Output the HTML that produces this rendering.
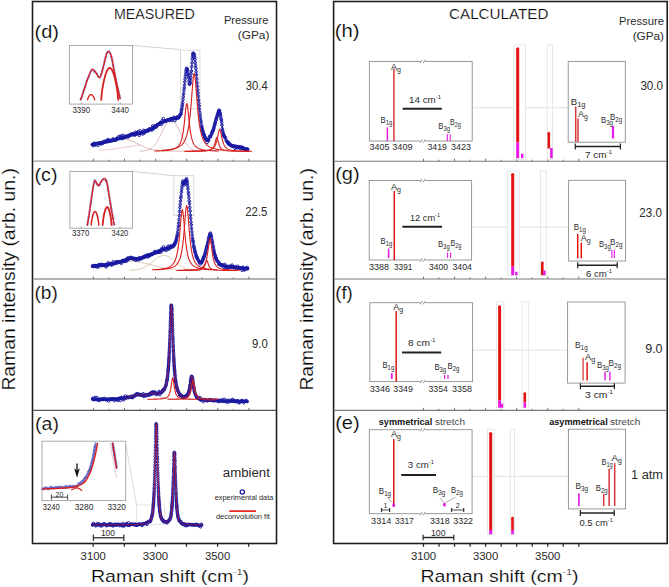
<!DOCTYPE html>
<html><head><meta charset="utf-8"><style>
html,body{margin:0;padding:0;background:#fff;}
svg{display:block;}
text{font-family:"Liberation Sans", sans-serif;}
.thin{stroke:#fff;stroke-width:0.2px;fill:#000;}
.thin2{stroke:#fff;stroke-width:0.25px;}
</style></head><body>
<svg width="669" height="587" viewBox="0 0 669 587">
<rect x="0" y="0" width="669" height="587" fill="#fff"/>
<rect x="32.50" y="1.50" width="244.00" height="542.00" fill="none" stroke="#1e1e1e" stroke-width="1.6"/>
<rect x="333.60" y="1.50" width="333.60" height="542.00" fill="none" stroke="#1e1e1e" stroke-width="1.6"/>
<line x1="33.30" y1="161.20" x2="275.70" y2="161.20" stroke="#9a9a9a" stroke-width="1.3"/>
<line x1="334.40" y1="161.20" x2="666.60" y2="161.20" stroke="#7a7a7a" stroke-width="1.1"/>
<line x1="33.30" y1="279.00" x2="275.70" y2="279.00" stroke="#9a9a9a" stroke-width="1.3"/>
<line x1="334.40" y1="279.00" x2="666.60" y2="279.00" stroke="#7a7a7a" stroke-width="1.1"/>
<line x1="33.30" y1="410.40" x2="275.70" y2="410.40" stroke="#555" stroke-width="1.3"/>
<line x1="334.40" y1="410.40" x2="666.60" y2="410.40" stroke="#7a7a7a" stroke-width="1.1"/>
<line x1="93.40" y1="161.20" x2="93.40" y2="158.70" stroke="#666" stroke-width="0.9"/>
<line x1="423.50" y1="161.20" x2="423.50" y2="158.70" stroke="#666" stroke-width="0.9"/>
<line x1="108.95" y1="161.20" x2="108.95" y2="159.70" stroke="#666" stroke-width="0.9"/>
<line x1="439.03" y1="161.20" x2="439.03" y2="159.70" stroke="#666" stroke-width="0.9"/>
<line x1="124.50" y1="161.20" x2="124.50" y2="158.70" stroke="#666" stroke-width="0.9"/>
<line x1="454.56" y1="161.20" x2="454.56" y2="158.70" stroke="#666" stroke-width="0.9"/>
<line x1="140.05" y1="161.20" x2="140.05" y2="159.70" stroke="#666" stroke-width="0.9"/>
<line x1="470.09" y1="161.20" x2="470.09" y2="159.70" stroke="#666" stroke-width="0.9"/>
<line x1="155.60" y1="161.20" x2="155.60" y2="158.70" stroke="#666" stroke-width="0.9"/>
<line x1="485.62" y1="161.20" x2="485.62" y2="158.70" stroke="#666" stroke-width="0.9"/>
<line x1="171.15" y1="161.20" x2="171.15" y2="159.70" stroke="#666" stroke-width="0.9"/>
<line x1="501.15" y1="161.20" x2="501.15" y2="159.70" stroke="#666" stroke-width="0.9"/>
<line x1="186.70" y1="161.20" x2="186.70" y2="158.70" stroke="#666" stroke-width="0.9"/>
<line x1="516.68" y1="161.20" x2="516.68" y2="158.70" stroke="#666" stroke-width="0.9"/>
<line x1="202.25" y1="161.20" x2="202.25" y2="159.70" stroke="#666" stroke-width="0.9"/>
<line x1="532.21" y1="161.20" x2="532.21" y2="159.70" stroke="#666" stroke-width="0.9"/>
<line x1="217.80" y1="161.20" x2="217.80" y2="158.70" stroke="#666" stroke-width="0.9"/>
<line x1="547.74" y1="161.20" x2="547.74" y2="158.70" stroke="#666" stroke-width="0.9"/>
<line x1="233.35" y1="161.20" x2="233.35" y2="159.70" stroke="#666" stroke-width="0.9"/>
<line x1="563.27" y1="161.20" x2="563.27" y2="159.70" stroke="#666" stroke-width="0.9"/>
<line x1="248.90" y1="161.20" x2="248.90" y2="158.70" stroke="#666" stroke-width="0.9"/>
<line x1="578.80" y1="161.20" x2="578.80" y2="158.70" stroke="#666" stroke-width="0.9"/>
<line x1="93.40" y1="279.00" x2="93.40" y2="276.50" stroke="#666" stroke-width="0.9"/>
<line x1="423.50" y1="279.00" x2="423.50" y2="276.50" stroke="#666" stroke-width="0.9"/>
<line x1="108.95" y1="279.00" x2="108.95" y2="277.50" stroke="#666" stroke-width="0.9"/>
<line x1="439.03" y1="279.00" x2="439.03" y2="277.50" stroke="#666" stroke-width="0.9"/>
<line x1="124.50" y1="279.00" x2="124.50" y2="276.50" stroke="#666" stroke-width="0.9"/>
<line x1="454.56" y1="279.00" x2="454.56" y2="276.50" stroke="#666" stroke-width="0.9"/>
<line x1="140.05" y1="279.00" x2="140.05" y2="277.50" stroke="#666" stroke-width="0.9"/>
<line x1="470.09" y1="279.00" x2="470.09" y2="277.50" stroke="#666" stroke-width="0.9"/>
<line x1="155.60" y1="279.00" x2="155.60" y2="276.50" stroke="#666" stroke-width="0.9"/>
<line x1="485.62" y1="279.00" x2="485.62" y2="276.50" stroke="#666" stroke-width="0.9"/>
<line x1="171.15" y1="279.00" x2="171.15" y2="277.50" stroke="#666" stroke-width="0.9"/>
<line x1="501.15" y1="279.00" x2="501.15" y2="277.50" stroke="#666" stroke-width="0.9"/>
<line x1="186.70" y1="279.00" x2="186.70" y2="276.50" stroke="#666" stroke-width="0.9"/>
<line x1="516.68" y1="279.00" x2="516.68" y2="276.50" stroke="#666" stroke-width="0.9"/>
<line x1="202.25" y1="279.00" x2="202.25" y2="277.50" stroke="#666" stroke-width="0.9"/>
<line x1="532.21" y1="279.00" x2="532.21" y2="277.50" stroke="#666" stroke-width="0.9"/>
<line x1="217.80" y1="279.00" x2="217.80" y2="276.50" stroke="#666" stroke-width="0.9"/>
<line x1="547.74" y1="279.00" x2="547.74" y2="276.50" stroke="#666" stroke-width="0.9"/>
<line x1="233.35" y1="279.00" x2="233.35" y2="277.50" stroke="#666" stroke-width="0.9"/>
<line x1="563.27" y1="279.00" x2="563.27" y2="277.50" stroke="#666" stroke-width="0.9"/>
<line x1="248.90" y1="279.00" x2="248.90" y2="276.50" stroke="#666" stroke-width="0.9"/>
<line x1="578.80" y1="279.00" x2="578.80" y2="276.50" stroke="#666" stroke-width="0.9"/>
<line x1="93.40" y1="410.40" x2="93.40" y2="407.90" stroke="#666" stroke-width="0.9"/>
<line x1="423.50" y1="410.40" x2="423.50" y2="407.90" stroke="#666" stroke-width="0.9"/>
<line x1="108.95" y1="410.40" x2="108.95" y2="408.90" stroke="#666" stroke-width="0.9"/>
<line x1="439.03" y1="410.40" x2="439.03" y2="408.90" stroke="#666" stroke-width="0.9"/>
<line x1="124.50" y1="410.40" x2="124.50" y2="407.90" stroke="#666" stroke-width="0.9"/>
<line x1="454.56" y1="410.40" x2="454.56" y2="407.90" stroke="#666" stroke-width="0.9"/>
<line x1="140.05" y1="410.40" x2="140.05" y2="408.90" stroke="#666" stroke-width="0.9"/>
<line x1="470.09" y1="410.40" x2="470.09" y2="408.90" stroke="#666" stroke-width="0.9"/>
<line x1="155.60" y1="410.40" x2="155.60" y2="407.90" stroke="#666" stroke-width="0.9"/>
<line x1="485.62" y1="410.40" x2="485.62" y2="407.90" stroke="#666" stroke-width="0.9"/>
<line x1="171.15" y1="410.40" x2="171.15" y2="408.90" stroke="#666" stroke-width="0.9"/>
<line x1="501.15" y1="410.40" x2="501.15" y2="408.90" stroke="#666" stroke-width="0.9"/>
<line x1="186.70" y1="410.40" x2="186.70" y2="407.90" stroke="#666" stroke-width="0.9"/>
<line x1="516.68" y1="410.40" x2="516.68" y2="407.90" stroke="#666" stroke-width="0.9"/>
<line x1="202.25" y1="410.40" x2="202.25" y2="408.90" stroke="#666" stroke-width="0.9"/>
<line x1="532.21" y1="410.40" x2="532.21" y2="408.90" stroke="#666" stroke-width="0.9"/>
<line x1="217.80" y1="410.40" x2="217.80" y2="407.90" stroke="#666" stroke-width="0.9"/>
<line x1="547.74" y1="410.40" x2="547.74" y2="407.90" stroke="#666" stroke-width="0.9"/>
<line x1="233.35" y1="410.40" x2="233.35" y2="408.90" stroke="#666" stroke-width="0.9"/>
<line x1="563.27" y1="410.40" x2="563.27" y2="408.90" stroke="#666" stroke-width="0.9"/>
<line x1="248.90" y1="410.40" x2="248.90" y2="407.90" stroke="#666" stroke-width="0.9"/>
<line x1="578.80" y1="410.40" x2="578.80" y2="407.90" stroke="#666" stroke-width="0.9"/>
<line x1="93.20" y1="543.50" x2="93.20" y2="546.80" stroke="#222" stroke-width="1.2"/>
<line x1="124.30" y1="543.50" x2="124.30" y2="546.80" stroke="#222" stroke-width="1.2"/>
<line x1="155.40" y1="543.50" x2="155.40" y2="546.80" stroke="#222" stroke-width="1.2"/>
<line x1="186.50" y1="543.50" x2="186.50" y2="546.80" stroke="#222" stroke-width="1.2"/>
<line x1="217.60" y1="543.50" x2="217.60" y2="546.80" stroke="#222" stroke-width="1.2"/>
<line x1="248.70" y1="543.50" x2="248.70" y2="546.80" stroke="#222" stroke-width="1.2"/>
<line x1="423.50" y1="543.50" x2="423.50" y2="546.80" stroke="#222" stroke-width="1.2"/>
<line x1="439.03" y1="543.50" x2="439.03" y2="546.80" stroke="#222" stroke-width="1.2"/>
<line x1="454.56" y1="543.50" x2="454.56" y2="546.80" stroke="#222" stroke-width="1.2"/>
<line x1="470.09" y1="543.50" x2="470.09" y2="546.80" stroke="#222" stroke-width="1.2"/>
<line x1="485.62" y1="543.50" x2="485.62" y2="546.80" stroke="#222" stroke-width="1.2"/>
<line x1="501.15" y1="543.50" x2="501.15" y2="546.80" stroke="#222" stroke-width="1.2"/>
<line x1="516.68" y1="543.50" x2="516.68" y2="546.80" stroke="#222" stroke-width="1.2"/>
<line x1="532.21" y1="543.50" x2="532.21" y2="546.80" stroke="#222" stroke-width="1.2"/>
<line x1="547.74" y1="543.50" x2="547.74" y2="546.80" stroke="#222" stroke-width="1.2"/>
<line x1="563.27" y1="543.50" x2="563.27" y2="546.80" stroke="#222" stroke-width="1.2"/>
<line x1="578.80" y1="543.50" x2="578.80" y2="546.80" stroke="#222" stroke-width="1.2"/>
<text x="93.2" y="559.6" font-size="11.5" text-anchor="middle" fill="#2a2a2a" font-weight="normal" textLength="25.2" lengthAdjust="spacingAndGlyphs">3100</text>
<text x="423.5" y="559.6" font-size="11.5" text-anchor="middle" fill="#2a2a2a" font-weight="normal" textLength="25.2" lengthAdjust="spacingAndGlyphs">3100</text>
<text x="155.4" y="559.6" font-size="11.5" text-anchor="middle" fill="#2a2a2a" font-weight="normal" textLength="25.2" lengthAdjust="spacingAndGlyphs">3300</text>
<text x="485.6" y="559.6" font-size="11.5" text-anchor="middle" fill="#2a2a2a" font-weight="normal" textLength="25.2" lengthAdjust="spacingAndGlyphs">3300</text>
<text x="217.6" y="559.6" font-size="11.5" text-anchor="middle" fill="#2a2a2a" font-weight="normal" textLength="25.2" lengthAdjust="spacingAndGlyphs">3500</text>
<text x="547.7" y="559.6" font-size="11.5" text-anchor="middle" fill="#2a2a2a" font-weight="normal" textLength="25.2" lengthAdjust="spacingAndGlyphs">3500</text>
<text x="91.0" y="581.5" font-size="17" fill="#2a2a2a" class="thin" textLength="158" lengthAdjust="spacingAndGlyphs">Raman shift (cm<tspan dy="-6.5" font-size="9">-1</tspan><tspan dy="6.5">)</tspan></text>
<text x="420.5" y="581.5" font-size="17" fill="#2a2a2a" class="thin" textLength="158" lengthAdjust="spacingAndGlyphs">Raman shift (cm<tspan dy="-6.5" font-size="9">-1</tspan><tspan dy="6.5">)</tspan></text>
<text x="0" y="0" font-size="17.5" fill="#2a2a2a" class="thin" transform="translate(14.7,390.6) rotate(-90)" textLength="222.5" lengthAdjust="spacingAndGlyphs">Raman intensity (arb. un.)</text>
<text x="0" y="0" font-size="17.5" fill="#2a2a2a" class="thin" transform="translate(313.0,390.6) rotate(-90)" textLength="222.5" lengthAdjust="spacingAndGlyphs">Raman intensity (arb. un.)</text>
<text x="114.0" y="19.4" font-size="15" text-anchor="start" fill="#2a2a2a" font-weight="normal" class="thin" textLength="80.7" lengthAdjust="spacingAndGlyphs">MEASURED</text>
<text x="449.0" y="19.4" font-size="15" text-anchor="start" fill="#2a2a2a" font-weight="normal" class="thin" textLength="99.5" lengthAdjust="spacingAndGlyphs">CALCULATED</text>
<text x="223.9" y="24.1" font-size="11" text-anchor="start" fill="#2a2a2a" font-weight="normal" textLength="44.5" lengthAdjust="spacingAndGlyphs">Pressure</text>
<text x="237.7" y="38.7" font-size="11" text-anchor="start" fill="#2a2a2a" font-weight="normal" textLength="31.7" lengthAdjust="spacingAndGlyphs">(GPa)</text>
<text x="619.0" y="25.0" font-size="11" text-anchor="start" fill="#2a2a2a" font-weight="normal" textLength="45.0" lengthAdjust="spacingAndGlyphs">Pressure</text>
<text x="632.7" y="39.5" font-size="11" text-anchor="start" fill="#2a2a2a" font-weight="normal" textLength="31.3" lengthAdjust="spacingAndGlyphs">(GPa)</text>
<text x="34.5" y="37.6" font-size="19" text-anchor="start" fill="#2a2a2a" font-weight="normal" class="thin" textLength="24.5" lengthAdjust="spacingAndGlyphs">(d)</text>
<text x="34.5" y="180.6" font-size="19" text-anchor="start" fill="#2a2a2a" font-weight="normal" class="thin" textLength="23.0" lengthAdjust="spacingAndGlyphs">(c)</text>
<text x="34.5" y="298.9" font-size="19" text-anchor="start" fill="#2a2a2a" font-weight="normal" class="thin" textLength="23.3" lengthAdjust="spacingAndGlyphs">(b)</text>
<text x="35.1" y="430.3" font-size="19" text-anchor="start" fill="#2a2a2a" font-weight="normal" class="thin" textLength="23.9" lengthAdjust="spacingAndGlyphs">(a)</text>
<text x="334.8" y="37.0" font-size="19" text-anchor="start" fill="#2a2a2a" font-weight="normal" class="thin" textLength="24.8" lengthAdjust="spacingAndGlyphs">(h)</text>
<text x="335.2" y="179.8" font-size="19" text-anchor="start" fill="#2a2a2a" font-weight="normal" class="thin" textLength="24.5" lengthAdjust="spacingAndGlyphs">(g)</text>
<text x="335.2" y="298.7" font-size="19" text-anchor="start" fill="#2a2a2a" font-weight="normal" class="thin" textLength="17.6" lengthAdjust="spacingAndGlyphs">(f)</text>
<text x="335.2" y="429.4" font-size="19" text-anchor="start" fill="#2a2a2a" font-weight="normal" class="thin" textLength="24.5" lengthAdjust="spacingAndGlyphs">(e)</text>
<text x="245.7" y="89.8" font-size="12" text-anchor="start" fill="#2a2a2a" font-weight="normal" textLength="22.0" lengthAdjust="spacingAndGlyphs">30.4</text>
<text x="245.3" y="215.8" font-size="12" text-anchor="start" fill="#2a2a2a" font-weight="normal" textLength="22.1" lengthAdjust="spacingAndGlyphs">22.5</text>
<text x="252.0" y="347.8" font-size="12" text-anchor="start" fill="#2a2a2a" font-weight="normal" textLength="15.7" lengthAdjust="spacingAndGlyphs">9.0</text>
<text x="640.4" y="90.2" font-size="12" text-anchor="start" fill="#2a2a2a" font-weight="normal" textLength="22.6" lengthAdjust="spacingAndGlyphs">30.0</text>
<text x="639.3" y="216.7" font-size="12" text-anchor="start" fill="#2a2a2a" font-weight="normal" textLength="22.7" lengthAdjust="spacingAndGlyphs">23.0</text>
<text x="645.2" y="353.4" font-size="12" text-anchor="start" fill="#2a2a2a" font-weight="normal" textLength="17.4" lengthAdjust="spacingAndGlyphs">9.0</text>
<text x="631.1" y="479.2" font-size="12" text-anchor="start" fill="#2a2a2a" font-weight="normal" textLength="31.9" lengthAdjust="spacingAndGlyphs">1 atm</text>
<rect x="180.60" y="50.20" width="19.30" height="58.60" fill="none" stroke="#d0d0d0" stroke-width="0.8"/>
<line x1="132.50" y1="45.50" x2="180.50" y2="49.60" stroke="#c8c8c8" stroke-width="0.8"/>
<path d="M126.00,139.32 L126.50,139.39 L127.00,139.47 L127.50,139.57 L128.00,139.68 L128.50,139.80 L129.00,139.94 L129.50,140.09 L130.00,140.25 L130.50,140.43 L131.00,140.61 L131.50,140.80 L132.00,141.01 L132.50,141.22 L133.00,141.44 L133.50,141.67 L134.00,141.90 L134.50,142.14 L135.00,142.39 L135.50,142.64 L136.00,142.89 L136.50,143.14 L137.00,143.40 L137.50,143.66 L138.00,143.92 L138.50,144.18 L139.00,144.44 L139.50,144.70 L140.00,144.95 L140.50,145.21 L141.00,145.46 L141.50,145.71 L142.00,145.95 L142.50,146.19 L143.00,146.42 L143.50,146.65 L144.00,146.87 L144.50,147.09 L145.00,147.30 L145.50,147.51 L146.00,147.71 L146.50,147.90 L147.00,148.09 L147.50,148.27 L148.00,148.44 L148.50,148.60 L149.00,148.76 L149.50,148.92 L150.00,149.06 L150.50,149.20 L151.00,149.33 L151.50,149.46 L152.00,149.58 L152.50,149.69 L153.00,149.80 L153.50,149.90 L154.00,149.99 L154.50,150.08 L155.00,150.17 L155.50,150.25 L156.00,150.32 L156.50,150.39 L157.00,150.45 L157.50,150.51 L158.00,150.57 L158.50,150.62 L159.00,150.67 L159.50,150.72 L160.00,150.76 L160.50,150.80 L161.00,150.83 L161.50,150.87 L162.00,150.90 L162.50,150.93 L163.00,150.95 L163.50,150.98 L164.00,151.00 L164.50,151.02 L165.00,151.04 L165.50,151.05 L166.00,151.07 L166.50,151.08 L167.00,151.09 L167.50,151.10 L168.00,151.11 L168.50,151.12 L169.00,151.13 L169.50,151.14 L170.00,151.15 L170.50,151.15 L171.00,151.16 L171.50,151.16 L172.00,151.17 L172.50,151.17 L173.00,151.17 L173.50,151.18 L174.00,151.18 L174.50,151.18 L175.00,151.18 L175.50,151.19 L176.00,151.19 L176.50,151.19 L177.00,151.19 L177.50,151.19 L178.00,151.19 L178.50,151.19 L179.00,151.19 L179.50,151.20 L180.00,151.20 L180.50,151.20 L181.00,151.20 L181.50,151.20 L182.00,151.20 L182.50,151.20 L183.00,151.20 L183.50,151.20 L184.00,151.20 L184.50,151.20 L185.00,151.20 L185.50,151.20 L186.00,151.20 L186.50,151.20 L187.00,151.20 L187.50,151.20 L188.00,151.20 L188.50,151.20 L189.00,151.20 L189.50,151.20 L190.00,151.20 L190.50,151.20 L191.00,151.20 L191.50,151.20 L192.00,151.20 L192.50,151.20 L193.00,151.20 L193.50,151.20 L194.00,151.20 L194.50,151.20 L195.00,151.20 L195.50,151.20 L196.00,151.20 L196.50,151.20 L197.00,151.20 L197.50,151.20 L198.00,151.20 L198.50,151.20 L199.00,151.20 L199.50,151.20 L200.00,151.20" fill="none" stroke="#cc9c9c" stroke-width="0.8" stroke-linecap="round" stroke-linejoin="round"/>
<path d="M140.00,151.12 L140.50,151.10 L141.00,151.08 L141.50,151.05 L142.00,151.02 L142.50,150.99 L143.00,150.95 L143.50,150.90 L144.00,150.85 L144.50,150.79 L145.00,150.71 L145.50,150.63 L146.00,150.54 L146.50,150.43 L147.00,150.30 L147.50,150.16 L148.00,150.00 L148.50,149.82 L149.00,149.61 L149.50,149.38 L150.00,149.13 L150.50,148.85 L151.00,148.53 L151.50,148.19 L152.00,147.81 L152.50,147.39 L153.00,146.94 L153.50,146.44 L154.00,145.91 L154.50,145.33 L155.00,144.71 L155.50,144.05 L156.00,143.35 L156.50,142.60 L157.00,141.81 L157.50,140.97 L158.00,140.10 L158.50,139.19 L159.00,138.25 L159.50,137.28 L160.00,136.27 L160.50,135.25 L161.00,134.21 L161.50,133.15 L162.00,132.09 L162.50,131.03 L163.00,129.98 L163.50,128.94 L164.00,127.92 L164.50,126.93 L165.00,125.98 L165.50,125.07 L166.00,124.20 L166.50,123.40 L167.00,122.66 L167.50,121.99 L168.00,121.40 L168.50,120.89 L169.00,120.47 L169.50,120.13 L170.00,119.89 L170.50,119.75 L171.00,119.70 L171.50,119.75 L172.00,119.89 L172.50,120.13 L173.00,120.47 L173.50,120.89 L174.00,121.40 L174.50,121.99 L175.00,122.66 L175.50,123.40 L176.00,124.20 L176.50,125.07 L177.00,125.98 L177.50,126.93 L178.00,127.92 L178.50,128.94 L179.00,129.98 L179.50,131.03 L180.00,132.09 L180.50,133.15 L181.00,134.21 L181.50,135.25 L182.00,136.27 L182.50,137.28 L183.00,138.25 L183.50,139.19 L184.00,140.10 L184.50,140.97 L185.00,141.81 L185.50,142.60 L186.00,143.35 L186.50,144.05 L187.00,144.71 L187.50,145.33 L188.00,145.91 L188.50,146.44 L189.00,146.94 L189.50,147.39 L190.00,147.81 L190.50,148.19 L191.00,148.53 L191.50,148.85 L192.00,149.13 L192.50,149.38 L193.00,149.61 L193.50,149.82 L194.00,150.00 L194.50,150.16 L195.00,150.30 L195.50,150.43 L196.00,150.54 L196.50,150.63 L197.00,150.71 L197.50,150.79 L198.00,150.85 L198.50,150.90 L199.00,150.95 L199.50,150.99 L200.00,151.02 L200.50,151.05 L201.00,151.08 L201.50,151.10 L202.00,151.12 L202.50,151.13 L203.00,151.14 L203.50,151.15 L204.00,151.16 L204.50,151.17 L205.00,151.17" fill="none" stroke="#d0a8a8" stroke-width="0.8" stroke-linecap="round" stroke-linejoin="round"/>
<path d="M99.00,150.39 L99.50,150.35 L100.00,150.32 L100.50,150.28 L101.00,150.25 L101.50,150.21 L102.00,150.17 L102.50,150.13 L103.00,150.09 L103.50,150.05 L104.00,150.00 L104.50,149.96 L105.00,149.91 L105.50,149.87 L106.00,149.82 L106.50,149.77 L107.00,149.72 L107.50,149.67 L108.00,149.61 L108.50,149.56 L109.00,149.51 L109.50,149.45 L110.00,149.39 L110.50,149.33 L111.00,149.27 L111.50,149.21 L112.00,149.15 L112.50,149.09 L113.00,149.03 L113.50,148.96 L114.00,148.90 L114.50,148.83 L115.00,148.76 L115.50,148.69 L116.00,148.62 L116.50,148.55 L117.00,148.48 L117.50,148.41 L118.00,148.33 L118.50,148.26 L119.00,148.19 L119.50,148.11 L120.00,148.04 L120.50,147.96 L121.00,147.88 L121.50,147.81 L122.00,147.73 L122.50,147.65 L123.00,147.57 L123.50,147.49 L124.00,147.42 L124.50,147.34 L125.00,147.26 L125.50,147.18 L126.00,147.10 L126.50,147.02 L127.00,146.94 L127.50,146.86 L128.00,146.79 L128.50,146.71 L129.00,146.63 L129.50,146.56 L130.00,146.48 L130.50,146.40 L131.00,146.33 L131.50,146.26 L132.00,146.18 L132.50,146.11 L133.00,146.04 L133.50,145.97 L134.00,145.90 L134.50,145.84 L135.00,145.77 L135.50,145.71 L136.00,145.64 L136.50,145.58 L137.00,145.52 L137.50,145.46 L138.00,145.41 L138.50,145.35 L139.00,145.30 L139.50,145.25 L140.00,145.20" fill="none" stroke="#d8b0b0" stroke-width="0.7" stroke-linecap="round" stroke-linejoin="round"/>
<path d="M92.40,144.50 C95.33,143.92 104.40,142.33 110.00,141.00 C115.60,139.67 122.17,137.58 126.00,136.50 C129.83,135.42 130.50,135.08 133.00,134.50 C135.50,133.92 138.17,133.83 141.00,133.00 C143.83,132.17 146.53,131.25 150.00,129.50 C153.47,127.75 158.08,124.30 161.80,122.50 C165.52,120.70 169.37,119.67 172.30,118.70 C175.23,117.73 177.75,118.82 179.40,116.70 C181.05,114.58 181.27,112.12 182.20,106.00 C183.13,99.88 184.33,85.92 185.00,80.00 C185.67,74.08 185.85,72.37 186.20,70.50 C186.55,68.63 186.73,67.88 187.10,68.80 C187.47,69.72 187.95,73.30 188.40,76.00 C188.85,78.70 189.33,85.50 189.80,85.00 C190.27,84.50 190.75,77.67 191.20,73.00 C191.65,68.33 192.10,60.32 192.50,57.00 C192.90,53.68 193.22,52.93 193.60,53.10 C193.98,53.27 194.32,54.35 194.80,58.00 C195.28,61.65 196.00,69.50 196.50,75.00 C197.00,80.50 197.07,83.20 197.80,91.00 C198.53,98.80 199.87,114.47 200.90,121.80 C201.93,129.13 202.98,131.93 204.00,135.00 C205.02,138.07 206.00,139.87 207.00,140.20 C208.00,140.53 208.97,138.70 210.00,137.00 C211.03,135.30 212.12,133.17 213.20,130.00 C214.28,126.83 215.48,121.13 216.50,118.00 C217.52,114.87 218.47,110.70 219.30,111.20 C220.13,111.70 220.82,117.20 221.50,121.00 C222.18,124.80 222.05,130.12 223.40,134.00 C224.75,137.88 226.83,142.07 229.60,144.30 C232.37,146.53 236.95,146.53 240.00,147.40 C243.05,148.27 246.58,149.15 247.90,149.50" fill="none" stroke="#1818a0" stroke-width="0.9" stroke-linecap="round" stroke-linejoin="round"/>
<path d="M92.4,144.5 L93.2,144.4 L93.8,144.2 L94.5,144.1 L95.2,144.0 L96.0,143.8 L96.9,143.7 L97.8,143.5 L98.7,143.3 L99.7,143.1 L100.2,143.0 L100.7,142.9 L101.2,142.8 L101.7,142.7 L102.2,142.6 L102.7,142.5 L103.3,142.4 L103.8,142.3 L104.3,142.2 L104.8,142.1 L105.3,142.0 L105.8,141.9 L106.3,141.8 L106.8,141.7 L107.8,141.5 L108.7,141.3 L109.6,141.1 L110.4,140.9 L111.3,140.7 L112.1,140.5 L113.0,140.2 L113.9,140.0 L114.8,139.8 L115.6,139.5 L116.5,139.3 L117.4,139.0 L118.2,138.8 L119.1,138.5 L119.9,138.3 L120.7,138.0 L121.5,137.8 L122.3,137.6 L123.0,137.4 L123.8,137.2 L124.4,136.9 L125.1,136.8 L125.7,136.6 L126.3,136.4 L126.8,136.3 L127.3,136.1 L128.0,135.9 L128.5,135.8 L129.1,135.6 L129.6,135.4 L130.1,135.3 L130.7,135.1 L131.2,134.9 L131.8,134.8 L132.5,134.6 L133.0,134.5 L133.6,134.4 L134.1,134.3 L134.7,134.2 L135.3,134.1 L135.9,134.0 L136.5,133.9 L137.1,133.8 L137.7,133.7 L138.3,133.6 L138.9,133.5 L139.5,133.4 L140.2,133.2 L140.8,133.1 L141.4,132.9 L142.1,132.7 L142.7,132.5 L143.3,132.3 L144.0,132.1 L144.6,131.8 L145.3,131.6 L145.9,131.3 L146.6,131.1 L147.3,130.8 L147.8,130.6 L148.2,130.3 L148.7,130.1 L149.2,129.9 L149.7,129.6 L150.3,129.4 L150.8,129.1 L151.3,128.8 L151.9,128.4 L152.5,128.1 L153.1,127.7 L153.7,127.4 L154.3,127.0 L154.9,126.6 L155.5,126.2 L156.1,125.8 L156.7,125.4 L157.3,125.0 L158.0,124.7 L158.6,124.3 L159.2,123.9 L159.8,123.6 L160.4,123.2 L160.9,122.9 L161.5,122.6 L162.1,122.4 L162.6,122.1 L163.2,121.9 L163.8,121.6 L164.3,121.4 L164.9,121.2 L165.4,121.0 L166.0,120.8 L166.5,120.6 L167.1,120.4 L167.6,120.2 L168.1,120.0 L168.7,119.9 L169.2,119.7 L169.7,119.5 L170.2,119.4 L170.7,119.2 L171.2,119.1 L171.9,118.8 L172.5,118.6 L173.2,118.5 L173.8,118.4 L174.4,118.3 L175.0,118.2 L175.6,118.2 L176.1,118.1 L176.7,118.1 L177.2,118.0 L177.7,117.9 L178.2,117.7 L178.6,117.5 L179.0,117.1 M206.1,139.5 L206.5,139.9 L206.9,140.2 L207.4,140.2 L207.9,140.0 L208.3,139.6 M218.8,111.4 L219.2,111.2 M227.8,142.5 L228.2,143.0 L228.6,143.4 L229.0,143.8 L229.4,144.1 L229.8,144.5 L230.3,144.8 L230.7,145.0 L231.2,145.3 L231.7,145.5 L232.2,145.7 L232.8,145.9 L233.3,146.0 L233.9,146.2 L234.4,146.3 L235.0,146.4 L235.5,146.5 L236.1,146.6 L236.7,146.7 L237.2,146.8 L237.7,146.9 L238.3,147.0 L238.8,147.1 L239.3,147.2 L240.0,147.4 L240.7,147.6 L241.4,147.8 L242.1,148.0 L242.8,148.2 L243.5,148.4 L244.2,148.5 L244.8,148.7 L245.4,148.9 L246.0,149.0 L246.5,149.1 L247.2,149.3 L247.7,149.4" fill="none" stroke="#1818a0" stroke-width="3.6" stroke-linecap="round" stroke-linejoin="round"/>
<g fill="none" stroke="#1818a0" stroke-width="0.95"><circle cx="92.4" cy="144.6" r="1.3"/><circle cx="93.3" cy="145.6" r="1.3"/><circle cx="94.2" cy="143.2" r="1.3"/><circle cx="95.1" cy="145.0" r="1.3"/><circle cx="96.0" cy="143.6" r="1.3"/><circle cx="96.9" cy="143.4" r="1.3"/><circle cx="97.8" cy="145.4" r="1.3"/><circle cx="98.7" cy="143.5" r="1.3"/><circle cx="99.6" cy="143.1" r="1.3"/><circle cx="100.5" cy="143.7" r="1.3"/><circle cx="101.4" cy="143.9" r="1.3"/><circle cx="102.3" cy="142.6" r="1.3"/><circle cx="103.2" cy="143.0" r="1.3"/><circle cx="104.1" cy="141.3" r="1.3"/><circle cx="105.0" cy="141.7" r="1.3"/><circle cx="105.9" cy="141.5" r="1.3"/><circle cx="106.8" cy="140.4" r="1.3"/><circle cx="107.7" cy="140.0" r="1.3"/><circle cx="108.6" cy="139.7" r="1.3"/><circle cx="109.5" cy="140.9" r="1.3"/><circle cx="110.4" cy="140.7" r="1.3"/><circle cx="111.3" cy="140.4" r="1.3"/><circle cx="112.2" cy="140.5" r="1.3"/><circle cx="113.1" cy="138.9" r="1.3"/><circle cx="114.0" cy="139.9" r="1.3"/><circle cx="114.9" cy="140.0" r="1.3"/><circle cx="115.8" cy="140.2" r="1.3"/><circle cx="116.7" cy="138.4" r="1.3"/><circle cx="117.6" cy="138.6" r="1.3"/><circle cx="118.5" cy="136.8" r="1.3"/><circle cx="119.4" cy="138.0" r="1.3"/><circle cx="120.3" cy="136.1" r="1.3"/><circle cx="121.2" cy="136.5" r="1.3"/><circle cx="122.1" cy="138.7" r="1.3"/><circle cx="123.0" cy="135.3" r="1.3"/><circle cx="123.9" cy="137.9" r="1.3"/><circle cx="124.8" cy="137.2" r="1.3"/><circle cx="125.7" cy="136.3" r="1.3"/><circle cx="126.6" cy="136.8" r="1.3"/><circle cx="127.5" cy="136.6" r="1.3"/><circle cx="128.4" cy="136.8" r="1.3"/><circle cx="129.3" cy="135.3" r="1.3"/><circle cx="130.2" cy="134.7" r="1.3"/><circle cx="131.1" cy="134.4" r="1.3"/><circle cx="132.0" cy="133.8" r="1.3"/><circle cx="132.9" cy="134.5" r="1.3"/><circle cx="133.8" cy="133.6" r="1.3"/><circle cx="134.7" cy="135.2" r="1.3"/><circle cx="135.6" cy="132.2" r="1.3"/><circle cx="136.5" cy="132.8" r="1.3"/><circle cx="137.4" cy="132.8" r="1.3"/><circle cx="138.3" cy="131.6" r="1.3"/><circle cx="139.2" cy="135.3" r="1.3"/><circle cx="140.1" cy="130.9" r="1.3"/><circle cx="141.0" cy="132.7" r="1.3"/><circle cx="141.9" cy="132.2" r="1.3"/><circle cx="142.8" cy="134.0" r="1.3"/><circle cx="143.7" cy="130.3" r="1.3"/><circle cx="144.6" cy="132.8" r="1.3"/><circle cx="145.5" cy="130.8" r="1.3"/><circle cx="146.4" cy="131.0" r="1.3"/><circle cx="147.3" cy="130.2" r="1.3"/><circle cx="148.2" cy="130.9" r="1.3"/><circle cx="149.1" cy="128.9" r="1.3"/><circle cx="150.0" cy="129.4" r="1.3"/><circle cx="150.9" cy="129.3" r="1.3"/><circle cx="151.8" cy="130.1" r="1.3"/><circle cx="152.7" cy="125.9" r="1.3"/><circle cx="153.3" cy="128.9" r="1.3"/><circle cx="153.9" cy="128.0" r="1.3"/><circle cx="154.5" cy="126.4" r="1.3"/><circle cx="155.1" cy="126.7" r="1.3"/><circle cx="155.7" cy="125.7" r="1.3"/><circle cx="156.3" cy="127.1" r="1.3"/><circle cx="156.9" cy="125.5" r="1.3"/><circle cx="157.5" cy="124.8" r="1.3"/><circle cx="158.1" cy="124.4" r="1.3"/><circle cx="158.7" cy="124.0" r="1.3"/><circle cx="159.6" cy="123.5" r="1.3"/><circle cx="160.5" cy="122.4" r="1.3"/><circle cx="161.4" cy="124.5" r="1.3"/><circle cx="162.3" cy="120.5" r="1.3"/><circle cx="163.2" cy="118.6" r="1.3"/><circle cx="164.1" cy="121.4" r="1.3"/><circle cx="165.0" cy="121.0" r="1.3"/><circle cx="165.9" cy="121.1" r="1.3"/><circle cx="166.8" cy="120.3" r="1.3"/><circle cx="167.7" cy="120.0" r="1.3"/><circle cx="168.6" cy="120.2" r="1.3"/><circle cx="169.5" cy="120.5" r="1.3"/><circle cx="170.4" cy="118.9" r="1.3"/><circle cx="171.3" cy="118.7" r="1.3"/><circle cx="172.2" cy="120.6" r="1.3"/><circle cx="173.1" cy="119.0" r="1.3"/><circle cx="174.0" cy="117.3" r="1.3"/><circle cx="174.9" cy="120.6" r="1.3"/><circle cx="175.8" cy="118.9" r="1.3"/><circle cx="176.7" cy="117.5" r="1.3"/><circle cx="177.6" cy="116.8" r="1.3"/><circle cx="178.5" cy="117.8" r="1.3"/><circle cx="179.1" cy="116.5" r="1.3"/><circle cx="179.7" cy="115.7" r="1.3"/><circle cx="180.3" cy="114.7" r="1.3"/><circle cx="180.6" cy="114.3" r="1.3"/><circle cx="180.9" cy="113.8" r="1.3"/><circle cx="181.2" cy="112.1" r="1.3"/><circle cx="181.5" cy="110.2" r="1.3"/><circle cx="181.8" cy="108.8" r="1.3"/><circle cx="182.1" cy="106.7" r="1.3"/><circle cx="182.4" cy="104.8" r="1.3"/><circle cx="182.7" cy="102.5" r="1.3"/><circle cx="183.0" cy="99.6" r="1.3"/><circle cx="183.3" cy="96.8" r="1.3"/><circle cx="183.6" cy="93.9" r="1.3"/><circle cx="183.9" cy="90.6" r="1.3"/><circle cx="184.2" cy="88.0" r="1.3"/><circle cx="184.5" cy="85.2" r="1.3"/><circle cx="184.8" cy="81.9" r="1.3"/><circle cx="185.1" cy="79.1" r="1.3"/><circle cx="185.4" cy="76.4" r="1.3"/><circle cx="185.7" cy="73.7" r="1.3"/><circle cx="186.0" cy="71.5" r="1.3"/><circle cx="186.3" cy="69.9" r="1.3"/><circle cx="186.6" cy="68.3" r="1.3"/><circle cx="187.2" cy="68.9" r="1.3"/><circle cx="187.5" cy="70.1" r="1.3"/><circle cx="187.8" cy="72.3" r="1.3"/><circle cx="188.1" cy="74.1" r="1.3"/><circle cx="188.4" cy="75.7" r="1.3"/><circle cx="188.7" cy="77.7" r="1.3"/><circle cx="189.0" cy="80.9" r="1.3"/><circle cx="189.3" cy="83.6" r="1.3"/><circle cx="189.6" cy="84.4" r="1.3"/><circle cx="190.2" cy="83.1" r="1.3"/><circle cx="190.5" cy="80.5" r="1.3"/><circle cx="190.8" cy="77.6" r="1.3"/><circle cx="191.1" cy="73.8" r="1.3"/><circle cx="191.4" cy="71.0" r="1.3"/><circle cx="191.7" cy="66.7" r="1.3"/><circle cx="192.0" cy="62.9" r="1.3"/><circle cx="192.3" cy="59.0" r="1.3"/><circle cx="192.6" cy="56.2" r="1.3"/><circle cx="192.9" cy="54.0" r="1.3"/><circle cx="193.2" cy="53.1" r="1.3"/><circle cx="194.1" cy="53.9" r="1.3"/><circle cx="194.4" cy="55.5" r="1.3"/><circle cx="194.7" cy="57.3" r="1.3"/><circle cx="195.0" cy="59.5" r="1.3"/><circle cx="195.3" cy="62.5" r="1.3"/><circle cx="195.6" cy="65.6" r="1.3"/><circle cx="195.9" cy="68.4" r="1.3"/><circle cx="196.2" cy="71.6" r="1.3"/><circle cx="196.5" cy="74.9" r="1.3"/><circle cx="196.8" cy="78.8" r="1.3"/><circle cx="197.1" cy="82.8" r="1.3"/><circle cx="197.4" cy="86.3" r="1.3"/><circle cx="197.7" cy="90.0" r="1.3"/><circle cx="198.0" cy="93.0" r="1.3"/><circle cx="198.3" cy="96.3" r="1.3"/><circle cx="198.6" cy="100.0" r="1.3"/><circle cx="198.9" cy="103.2" r="1.3"/><circle cx="199.2" cy="106.0" r="1.3"/><circle cx="199.5" cy="109.3" r="1.3"/><circle cx="199.8" cy="112.4" r="1.3"/><circle cx="200.1" cy="115.0" r="1.3"/><circle cx="200.4" cy="117.8" r="1.3"/><circle cx="200.7" cy="120.5" r="1.3"/><circle cx="201.0" cy="122.0" r="1.3"/><circle cx="201.3" cy="124.5" r="1.3"/><circle cx="201.6" cy="126.3" r="1.3"/><circle cx="201.9" cy="127.8" r="1.3"/><circle cx="202.2" cy="128.6" r="1.3"/><circle cx="202.5" cy="130.2" r="1.3"/><circle cx="202.8" cy="131.0" r="1.3"/><circle cx="203.1" cy="132.4" r="1.3"/><circle cx="203.4" cy="133.4" r="1.3"/><circle cx="203.7" cy="134.2" r="1.3"/><circle cx="204.0" cy="134.7" r="1.3"/><circle cx="204.3" cy="135.7" r="1.3"/><circle cx="204.6" cy="137.0" r="1.3"/><circle cx="204.9" cy="137.0" r="1.3"/><circle cx="205.2" cy="138.3" r="1.3"/><circle cx="205.8" cy="139.4" r="1.3"/><circle cx="206.4" cy="139.6" r="1.3"/><circle cx="207.0" cy="142.5" r="1.3"/><circle cx="207.9" cy="140.0" r="1.3"/><circle cx="208.5" cy="140.7" r="1.3"/><circle cx="209.1" cy="137.4" r="1.3"/><circle cx="209.7" cy="136.3" r="1.3"/><circle cx="210.3" cy="137.0" r="1.3"/><circle cx="210.9" cy="135.7" r="1.3"/><circle cx="211.5" cy="134.1" r="1.3"/><circle cx="211.8" cy="133.6" r="1.3"/><circle cx="212.1" cy="132.1" r="1.3"/><circle cx="212.4" cy="131.9" r="1.3"/><circle cx="212.7" cy="131.0" r="1.3"/><circle cx="213.0" cy="130.5" r="1.3"/><circle cx="213.3" cy="130.0" r="1.3"/><circle cx="213.6" cy="128.8" r="1.3"/><circle cx="213.9" cy="127.8" r="1.3"/><circle cx="214.2" cy="126.4" r="1.3"/><circle cx="214.5" cy="125.3" r="1.3"/><circle cx="214.8" cy="124.3" r="1.3"/><circle cx="215.1" cy="123.0" r="1.3"/><circle cx="215.4" cy="122.3" r="1.3"/><circle cx="215.7" cy="120.6" r="1.3"/><circle cx="216.0" cy="120.2" r="1.3"/><circle cx="216.3" cy="118.4" r="1.3"/><circle cx="216.6" cy="118.0" r="1.3"/><circle cx="216.9" cy="116.5" r="1.3"/><circle cx="217.2" cy="116.2" r="1.3"/><circle cx="217.5" cy="114.8" r="1.3"/><circle cx="217.8" cy="113.9" r="1.3"/><circle cx="218.1" cy="113.1" r="1.3"/><circle cx="218.4" cy="111.8" r="1.3"/><circle cx="219.0" cy="110.2" r="1.3"/><circle cx="219.6" cy="110.7" r="1.3"/><circle cx="219.9" cy="112.8" r="1.3"/><circle cx="220.2" cy="113.4" r="1.3"/><circle cx="220.5" cy="114.9" r="1.3"/><circle cx="220.8" cy="116.8" r="1.3"/><circle cx="221.1" cy="119.1" r="1.3"/><circle cx="221.4" cy="120.0" r="1.3"/><circle cx="221.7" cy="122.4" r="1.3"/><circle cx="222.0" cy="125.1" r="1.3"/><circle cx="222.3" cy="128.6" r="1.3"/><circle cx="222.6" cy="130.2" r="1.3"/><circle cx="222.9" cy="132.1" r="1.3"/><circle cx="223.2" cy="133.6" r="1.3"/><circle cx="223.5" cy="134.7" r="1.3"/><circle cx="223.8" cy="135.6" r="1.3"/><circle cx="224.1" cy="135.6" r="1.3"/><circle cx="224.4" cy="136.6" r="1.3"/><circle cx="224.7" cy="137.2" r="1.3"/><circle cx="225.0" cy="137.3" r="1.3"/><circle cx="225.6" cy="138.4" r="1.3"/><circle cx="226.2" cy="140.6" r="1.3"/><circle cx="226.8" cy="141.3" r="1.3"/><circle cx="227.4" cy="141.9" r="1.3"/><circle cx="228.0" cy="143.5" r="1.3"/><circle cx="228.6" cy="142.7" r="1.3"/><circle cx="229.2" cy="144.4" r="1.3"/><circle cx="229.8" cy="144.5" r="1.3"/><circle cx="230.4" cy="144.8" r="1.3"/><circle cx="231.3" cy="145.8" r="1.3"/><circle cx="232.2" cy="145.9" r="1.3"/><circle cx="233.1" cy="146.2" r="1.3"/><circle cx="234.0" cy="146.5" r="1.3"/><circle cx="234.9" cy="148.3" r="1.3"/><circle cx="235.8" cy="146.3" r="1.3"/><circle cx="236.7" cy="147.7" r="1.3"/><circle cx="237.6" cy="147.5" r="1.3"/><circle cx="238.5" cy="146.7" r="1.3"/><circle cx="239.4" cy="148.0" r="1.3"/><circle cx="240.3" cy="146.7" r="1.3"/><circle cx="241.2" cy="148.9" r="1.3"/><circle cx="242.1" cy="147.2" r="1.3"/><circle cx="243.0" cy="147.7" r="1.3"/><circle cx="243.9" cy="148.8" r="1.3"/><circle cx="244.8" cy="149.5" r="1.3"/><circle cx="245.7" cy="149.8" r="1.3"/><circle cx="246.6" cy="150.0" r="1.3"/><circle cx="247.5" cy="149.2" r="1.3"/></g>
<path d="M154.80,150.98 L155.30,150.97 L155.80,150.95 L156.30,150.94 L156.80,150.92 L157.30,150.91 L157.80,150.89 L158.30,150.87 L158.80,150.86 L159.30,150.84 L159.80,150.81 L160.30,150.79 L160.80,150.77 L161.30,150.74 L161.80,150.72 L162.30,150.69 L162.80,150.66 L163.30,150.63 L163.80,150.60 L164.30,150.56 L164.80,150.52 L165.30,150.48 L165.80,150.44 L166.30,150.39 L166.80,150.34 L167.30,150.29 L167.80,150.23 L168.30,150.17 L168.80,150.10 L169.30,150.03 L169.80,149.95 L170.30,149.86 L170.80,149.77 L171.30,149.67 L171.80,149.55 L172.30,149.43 L172.80,149.29 L173.30,149.14 L173.80,148.97 L174.30,148.79 L174.80,148.58 L175.30,148.34 L175.80,148.08 L176.30,147.78 L176.80,147.44 L177.30,147.05 L177.80,146.60 L178.30,146.08 L178.80,145.48 L179.30,144.78 L179.80,143.95 L180.30,142.97 L180.80,141.80 L181.30,140.39 L181.80,138.69 L182.30,136.63 L182.80,134.12 L183.30,131.07 L183.80,127.40 L184.30,123.07 L184.80,118.17 L185.30,113.00 L185.80,108.20 L186.30,104.70 L186.80,103.40 L187.30,104.70 L187.80,108.20 L188.30,113.00 L188.80,118.17 L189.30,123.07 L189.80,127.40 L190.30,131.07 L190.80,134.12 L191.30,136.63 L191.80,138.69 L192.30,140.39 L192.80,141.80 L193.30,142.97 L193.80,143.95 L194.30,144.78 L194.80,145.48 L195.30,146.08 L195.80,146.60 L196.30,147.05 L196.80,147.44 L197.30,147.78 L197.80,148.08 L198.30,148.34 L198.80,148.58 L199.30,148.79 L199.80,148.97 L200.30,149.14 L200.80,149.29 L201.30,149.43 L201.80,149.55 L202.30,149.67 L202.80,149.77 L203.30,149.86 L203.80,149.95 L204.30,150.03 L204.80,150.10 L205.30,150.17 L205.80,150.23 L206.30,150.29 L206.80,150.34 L207.30,150.39 L207.80,150.44 L208.30,150.48 L208.80,150.52 L209.30,150.56 L209.80,150.60 L210.30,150.63 L210.80,150.66 L211.30,150.69 L211.80,150.72 L212.30,150.74 L212.80,150.77 L213.30,150.79 L213.80,150.81 L214.30,150.84 L214.80,150.86 L215.30,150.87 L215.80,150.89 L216.30,150.91 L216.80,150.92 L217.30,150.94 L217.80,150.95 L218.30,150.97 L218.80,150.98" fill="none" stroke="#d81e1e" stroke-width="1.1" stroke-linecap="round" stroke-linejoin="round"/>
<path d="M162.20,150.32 L162.70,150.28 L163.20,150.25 L163.70,150.21 L164.20,150.17 L164.70,150.13 L165.20,150.08 L165.70,150.04 L166.20,149.99 L166.70,149.94 L167.20,149.88 L167.70,149.83 L168.20,149.77 L168.70,149.71 L169.20,149.64 L169.70,149.57 L170.20,149.49 L170.70,149.41 L171.20,149.33 L171.70,149.24 L172.20,149.14 L172.70,149.04 L173.20,148.93 L173.70,148.81 L174.20,148.68 L174.70,148.55 L175.20,148.40 L175.70,148.24 L176.20,148.07 L176.70,147.89 L177.20,147.69 L177.70,147.47 L178.20,147.24 L178.70,146.98 L179.20,146.70 L179.70,146.39 L180.20,146.05 L180.70,145.67 L181.20,145.26 L181.70,144.80 L182.20,144.29 L182.70,143.72 L183.20,143.08 L183.70,142.37 L184.20,141.56 L184.70,140.64 L185.20,139.60 L185.70,138.41 L186.20,137.04 L186.70,135.47 L187.20,133.65 L187.70,131.53 L188.20,129.07 L188.70,126.20 L189.20,122.84 L189.70,118.93 L190.20,114.40 L190.70,109.20 L191.20,103.35 L191.70,96.96 L192.20,90.32 L192.70,83.92 L193.20,78.45 L193.70,74.73 L194.20,73.40 L194.70,74.73 L195.20,78.45 L195.70,83.92 L196.20,90.32 L196.70,96.96 L197.20,103.35 L197.70,109.20 L198.20,114.40 L198.70,118.93 L199.20,122.84 L199.70,126.20 L200.20,129.07 L200.70,131.53 L201.20,133.65 L201.70,135.47 L202.20,137.04 L202.70,138.41 L203.20,139.60 L203.70,140.64 L204.20,141.56 L204.70,142.37 L205.20,143.08 L205.70,143.72 L206.20,144.29 L206.70,144.80 L207.20,145.26 L207.70,145.67 L208.20,146.05 L208.70,146.39 L209.20,146.70 L209.70,146.98 L210.20,147.24 L210.70,147.47 L211.20,147.69 L211.70,147.89 L212.20,148.07 L212.70,148.24 L213.20,148.40 L213.70,148.55 L214.20,148.68 L214.70,148.81 L215.20,148.93 L215.70,149.04 L216.20,149.14 L216.70,149.24 L217.20,149.33 L217.70,149.41 L218.20,149.49 L218.70,149.57 L219.20,149.64 L219.70,149.71 L220.20,149.77 L220.70,149.83 L221.20,149.88 L221.70,149.94 L222.20,149.99 L222.70,150.04 L223.20,150.08 L223.70,150.13 L224.20,150.17 L224.70,150.21 L225.20,150.25 L225.70,150.28 L226.20,150.32" fill="none" stroke="#d81e1e" stroke-width="1.1" stroke-linecap="round" stroke-linejoin="round"/>
<path d="M187.70,151.23 L188.20,151.23 L188.70,151.22 L189.20,151.22 L189.70,151.21 L190.20,151.20 L190.70,151.20 L191.20,151.19 L191.70,151.18 L192.20,151.17 L192.70,151.17 L193.20,151.16 L193.70,151.15 L194.20,151.14 L194.70,151.13 L195.20,151.12 L195.70,151.10 L196.20,151.09 L196.70,151.08 L197.20,151.06 L197.70,151.05 L198.20,151.03 L198.70,151.02 L199.20,151.00 L199.70,150.98 L200.20,150.96 L200.70,150.93 L201.20,150.91 L201.70,150.88 L202.20,150.85 L202.70,150.82 L203.20,150.78 L203.70,150.75 L204.20,150.70 L204.70,150.66 L205.20,150.61 L205.70,150.55 L206.20,150.49 L206.70,150.42 L207.20,150.35 L207.70,150.26 L208.20,150.17 L208.70,150.06 L209.20,149.94 L209.70,149.80 L210.20,149.64 L210.70,149.46 L211.20,149.25 L211.70,149.00 L212.20,148.71 L212.70,148.37 L213.20,147.96 L213.70,147.47 L214.20,146.87 L214.70,146.15 L215.20,145.26 L215.70,144.17 L216.20,142.81 L216.70,141.16 L217.20,139.16 L217.70,136.83 L218.20,134.31 L218.70,131.89 L219.20,130.08 L219.70,129.40 L220.20,130.08 L220.70,131.89 L221.20,134.31 L221.70,136.83 L222.20,139.16 L222.70,141.16 L223.20,142.81 L223.70,144.17 L224.20,145.26 L224.70,146.15 L225.20,146.87 L225.70,147.47 L226.20,147.96 L226.70,148.37 L227.20,148.71 L227.70,149.00 L228.20,149.25 L228.70,149.46 L229.20,149.64 L229.70,149.80 L230.20,149.94 L230.70,150.06 L231.20,150.17 L231.70,150.26 L232.20,150.35 L232.70,150.42 L233.20,150.49 L233.70,150.55 L234.20,150.61 L234.70,150.66 L235.20,150.70 L235.70,150.75 L236.20,150.78 L236.70,150.82 L237.20,150.85 L237.70,150.88 L238.20,150.91 L238.70,150.93 L239.20,150.96 L239.70,150.98 L240.20,151.00 L240.70,151.02 L241.20,151.03 L241.70,151.05 L242.20,151.06 L242.70,151.08 L243.20,151.09 L243.70,151.10 L244.20,151.12 L244.70,151.13 L245.20,151.14 L245.70,151.15 L246.20,151.16 L246.70,151.17 L247.20,151.17 L247.70,151.18 L248.20,151.19 L248.70,151.20 L249.20,151.20 L249.70,151.21 L250.20,151.22 L250.70,151.22 L251.20,151.23 L251.70,151.23" fill="none" stroke="#d81e1e" stroke-width="1.1" stroke-linecap="round" stroke-linejoin="round"/>
<path d="M184.80,151.33 L185.30,151.33 L185.80,151.33 L186.30,151.33 L186.80,151.33 L187.30,151.32 L187.80,151.32 L188.30,151.32 L188.80,151.31 L189.30,151.31 L189.80,151.31 L190.30,151.30 L190.80,151.30 L191.30,151.30 L191.80,151.29 L192.30,151.29 L192.80,151.28 L193.30,151.28 L193.80,151.27 L194.30,151.27 L194.80,151.26 L195.30,151.25 L195.80,151.25 L196.30,151.24 L196.80,151.23 L197.30,151.22 L197.80,151.21 L198.30,151.20 L198.80,151.19 L199.30,151.18 L199.80,151.17 L200.30,151.16 L200.80,151.14 L201.30,151.12 L201.80,151.11 L202.30,151.08 L202.80,151.06 L203.30,151.04 L203.80,151.01 L204.30,150.98 L204.80,150.94 L205.30,150.91 L205.80,150.86 L206.30,150.81 L206.80,150.75 L207.30,150.69 L207.80,150.61 L208.30,150.52 L208.80,150.42 L209.30,150.29 L209.80,150.14 L210.30,149.96 L210.80,149.74 L211.30,149.47 L211.80,149.13 L212.30,148.70 L212.80,148.15 L213.30,147.44 L213.80,146.50 L214.30,145.29 L214.80,143.73 L215.30,141.84 L215.80,139.80 L216.30,138.09 L216.80,137.40 L217.30,138.09 L217.80,139.80 L218.30,141.84 L218.80,143.73 L219.30,145.29 L219.80,146.50 L220.30,147.44 L220.80,148.15 L221.30,148.70 L221.80,149.13 L222.30,149.47 L222.80,149.74 L223.30,149.96 L223.80,150.14 L224.30,150.29 L224.80,150.42 L225.30,150.52 L225.80,150.61 L226.30,150.69 L226.80,150.75 L227.30,150.81 L227.80,150.86 L228.30,150.91 L228.80,150.94 L229.30,150.98 L229.80,151.01 L230.30,151.04 L230.80,151.06 L231.30,151.08 L231.80,151.11 L232.30,151.12 L232.80,151.14 L233.30,151.16 L233.80,151.17 L234.30,151.18 L234.80,151.19 L235.30,151.20 L235.80,151.21 L236.30,151.22 L236.80,151.23 L237.30,151.24 L237.80,151.25 L238.30,151.25 L238.80,151.26 L239.30,151.27 L239.80,151.27 L240.30,151.28 L240.80,151.28 L241.30,151.29 L241.80,151.29 L242.30,151.30 L242.80,151.30 L243.30,151.30 L243.80,151.31 L244.30,151.31 L244.80,151.31 L245.30,151.32 L245.80,151.32 L246.30,151.32 L246.80,151.33 L247.30,151.33 L247.80,151.33 L248.30,151.33 L248.80,151.33" fill="none" stroke="#d81e1e" stroke-width="1.1" stroke-linecap="round" stroke-linejoin="round"/>
<rect x="69.40" y="45.50" width="63.10" height="58.60" fill="white" stroke="#a0a0a0" stroke-width="0.9"/>
<g fill="none" stroke="#4a4ab8" stroke-width="0.65"><circle cx="80.7" cy="99.4" r="0.8"/><circle cx="81.4" cy="97.8" r="0.8"/><circle cx="82.1" cy="95.9" r="0.8"/><circle cx="82.8" cy="93.4" r="0.8"/><circle cx="83.5" cy="91.1" r="0.8"/><circle cx="84.2" cy="89.4" r="0.8"/><circle cx="84.8" cy="87.6" r="0.8"/><circle cx="85.5" cy="85.7" r="0.8"/><circle cx="86.1" cy="83.1" r="0.8"/><circle cx="86.7" cy="81.2" r="0.8"/><circle cx="87.4" cy="79.7" r="0.8"/><circle cx="88.2" cy="77.7" r="0.8"/><circle cx="89.0" cy="76.1" r="0.8"/><circle cx="89.7" cy="74.0" r="0.8"/><circle cx="90.6" cy="71.8" r="0.8"/><circle cx="91.6" cy="69.8" r="0.8"/><circle cx="93.6" cy="71.3" r="0.8"/><circle cx="94.8" cy="71.2" r="0.8"/><circle cx="96.0" cy="72.6" r="0.8"/><circle cx="97.1" cy="74.2" r="0.8"/><circle cx="98.2" cy="76.5" r="0.8"/><circle cx="100.1" cy="77.3" r="0.8"/><circle cx="101.0" cy="75.1" r="0.8"/><circle cx="101.6" cy="73.1" r="0.8"/><circle cx="102.2" cy="71.1" r="0.8"/><circle cx="102.7" cy="69.1" r="0.8"/><circle cx="103.3" cy="67.1" r="0.8"/><circle cx="103.9" cy="64.7" r="0.8"/><circle cx="104.4" cy="62.2" r="0.8"/><circle cx="104.8" cy="60.7" r="0.8"/><circle cx="105.3" cy="58.1" r="0.8"/><circle cx="105.9" cy="56.3" r="0.8"/><circle cx="106.5" cy="53.8" r="0.8"/><circle cx="107.2" cy="52.3" r="0.8"/><circle cx="109.2" cy="51.3" r="0.8"/><circle cx="110.4" cy="53.7" r="0.8"/><circle cx="111.1" cy="56.3" r="0.8"/><circle cx="111.6" cy="57.4" r="0.8"/><circle cx="112.1" cy="59.6" r="0.8"/><circle cx="112.5" cy="61.4" r="0.8"/><circle cx="112.9" cy="63.9" r="0.8"/><circle cx="113.2" cy="66.1" r="0.8"/><circle cx="113.7" cy="68.3" r="0.8"/><circle cx="114.1" cy="70.5" r="0.8"/><circle cx="114.5" cy="72.6" r="0.8"/><circle cx="114.9" cy="74.5" r="0.8"/><circle cx="115.3" cy="77.0" r="0.8"/><circle cx="115.8" cy="78.8" r="0.8"/><circle cx="116.2" cy="81.5" r="0.8"/><circle cx="116.6" cy="83.0" r="0.8"/><circle cx="117.0" cy="85.3" r="0.8"/><circle cx="117.5" cy="87.3" r="0.8"/><circle cx="118.0" cy="89.7" r="0.8"/><circle cx="118.5" cy="91.4" r="0.8"/><circle cx="119.0" cy="93.9" r="0.8"/><circle cx="119.5" cy="95.7" r="0.8"/><circle cx="120.0" cy="98.0" r="0.8"/></g>
<path d="M80.70,99.80 C81.25,98.17 82.78,93.63 84.00,90.00 C85.22,86.37 86.62,81.45 88.00,78.00 C89.38,74.55 90.97,70.13 92.30,69.30 C93.63,68.47 94.75,71.63 96.00,73.00 C97.25,74.37 98.63,78.33 99.80,77.50 C100.97,76.67 101.97,71.58 103.00,68.00 C104.03,64.42 105.17,58.73 106.00,56.00 C106.83,53.27 107.17,51.77 108.00,51.60 C108.83,51.43 110.00,51.93 111.00,55.00 C112.00,58.07 113.00,65.00 114.00,70.00 C115.00,75.00 115.97,80.22 117.00,85.00 C118.03,89.78 119.67,96.42 120.20,98.70" fill="none" stroke="#d81e1e" stroke-width="1.3" stroke-linecap="round" stroke-linejoin="round"/>
<path d="M87.50,99.80 L87.74,98.95 L87.98,98.32 L88.22,97.77 L88.46,97.27 L88.70,96.81 L88.94,96.40 L89.18,96.03 L89.42,95.70 L89.66,95.41 L89.90,95.17 L90.14,94.96 L90.38,94.80 L90.62,94.69 L90.86,94.62 L91.10,94.60 L91.34,94.62 L91.58,94.69 L91.82,94.80 L92.06,94.96 L92.30,95.17 L92.54,95.41 L92.78,95.70 L93.02,96.03 L93.26,96.40 L93.50,96.81 L93.74,97.27 L93.98,97.77 L94.22,98.32 L94.46,98.95 L94.70,99.80" fill="none" stroke="#d81e1e" stroke-width="1.3" stroke-linecap="round"/>
<path d="M101.20,99.80 L101.77,93.26 L102.33,89.21 L102.90,85.82 L103.47,82.86 L104.03,80.22 L104.60,77.88 L105.17,75.80 L105.73,73.97 L106.30,72.38 L106.87,71.05 L107.43,69.95 L108.00,69.10 L108.57,68.49 L109.13,68.12 L109.70,68.00 L110.27,68.12 L110.83,68.49 L111.40,69.10 L111.97,69.95 L112.53,71.05 L113.10,72.38 L113.67,73.97 L114.23,75.80 L114.80,77.88 L115.37,80.22 L115.93,82.86 L116.50,85.82 L117.07,89.21 L117.63,93.26 L118.20,99.80" fill="none" stroke="#d81e1e" stroke-width="1.8" stroke-linecap="round"/>
<line x1="81.40" y1="104.10" x2="81.40" y2="102.50" stroke="#888" stroke-width="0.7"/>
<line x1="120.30" y1="104.10" x2="120.30" y2="102.50" stroke="#888" stroke-width="0.7"/>
<text x="81.3" y="112.5" font-size="8.4" text-anchor="middle" fill="#2a2a2a" font-weight="normal" textLength="17.7" lengthAdjust="spacingAndGlyphs">3390</text>
<text x="120.2" y="112.5" font-size="8.4" text-anchor="middle" fill="#2a2a2a" font-weight="normal" textLength="17.7" lengthAdjust="spacingAndGlyphs">3440</text>
<rect x="173.90" y="175.70" width="19.90" height="40.10" fill="none" stroke="#cfcfcf" stroke-width="0.8"/>
<line x1="132.40" y1="171.40" x2="173.90" y2="175.70" stroke="#c8c8c8" stroke-width="0.8"/>
<path d="M100.00,268.00 L100.50,267.90 L101.00,267.79 L101.50,267.69 L102.00,267.58 L102.50,267.47 L103.00,267.35 L103.50,267.24 L104.00,267.12 L104.50,267.00 L105.00,266.88 L105.50,266.76 L106.00,266.63 L106.50,266.51 L107.00,266.38 L107.50,266.25 L108.00,266.12 L108.50,265.99 L109.00,265.85 L109.50,265.72 L110.00,265.59 L110.50,265.45 L111.00,265.31 L111.50,265.18 L112.00,265.04 L112.50,264.90 L113.00,264.77 L113.50,264.63 L114.00,264.50 L114.50,264.36 L115.00,264.23 L115.50,264.10 L116.00,263.96 L116.50,263.83 L117.00,263.71 L117.50,263.58 L118.00,263.46 L118.50,263.33 L119.00,263.21 L119.50,263.10 L120.00,262.98 L120.50,262.87 L121.00,262.76 L121.50,262.66 L122.00,262.56 L122.50,262.46 L123.00,262.37 L123.50,262.28 L124.00,262.19 L124.50,262.11 L125.00,262.03 L125.50,261.96 L126.00,261.90 L126.50,261.83 L127.00,261.78 L127.50,261.72 L128.00,261.68 L128.50,261.64 L129.00,261.60 L129.50,261.57 L130.00,261.54 L130.50,261.53 L131.00,261.51 L131.50,261.50 L132.00,261.50 L132.50,261.50 L133.00,261.51 L133.50,261.53 L134.00,261.54 L134.50,261.57 L135.00,261.60 L135.50,261.64 L136.00,261.68 L136.50,261.72 L137.00,261.78 L137.50,261.83 L138.00,261.90 L138.50,261.96 L139.00,262.03 L139.50,262.11 L140.00,262.19 L140.50,262.28 L141.00,262.37 L141.50,262.46 L142.00,262.56 L142.50,262.66 L143.00,262.76 L143.50,262.87 L144.00,262.98 L144.50,263.10 L145.00,263.21 L145.50,263.33 L146.00,263.46 L146.50,263.58 L147.00,263.71 L147.50,263.83 L148.00,263.96 L148.50,264.10 L149.00,264.23 L149.50,264.36 L150.00,264.50 L150.50,264.63 L151.00,264.77 L151.50,264.90 L152.00,265.04 L152.50,265.18 L153.00,265.31 L153.50,265.45 L154.00,265.59 L154.50,265.72 L155.00,265.85 L155.50,265.99 L156.00,266.12 L156.50,266.25 L157.00,266.38 L157.50,266.51 L158.00,266.63 L158.50,266.76 L159.00,266.88 L159.50,267.00 L160.00,267.12 L160.50,267.24 L161.00,267.35 L161.50,267.47 L162.00,267.58 L162.50,267.69 L163.00,267.79 L163.50,267.90 L164.00,268.00 L164.50,268.10 L165.00,268.19 L165.50,268.29 L166.00,268.38 L166.50,268.47 L167.00,268.55 L167.50,268.64 L168.00,268.72 L168.50,268.80 L169.00,268.87 L169.50,268.95 L170.00,269.02 L170.50,269.09 L171.00,269.16 L171.50,269.22 L172.00,269.28 L172.50,269.34 L173.00,269.40 L173.50,269.45 L174.00,269.51 L174.50,269.56 L175.00,269.61 L175.50,269.65 L176.00,269.70 L176.50,269.74 L177.00,269.78 L177.50,269.82 L178.00,269.86 L178.50,269.90 L179.00,269.93 L179.50,269.96 L180.00,269.99 L180.50,270.02 L181.00,270.05 L181.50,270.08 L182.00,270.10 L182.50,270.13 L183.00,270.15 L183.50,270.17 L184.00,270.19 L184.50,270.21 L185.00,270.23 L185.50,270.25 L186.00,270.26 L186.50,270.28 L187.00,270.29 L187.50,270.31 L188.00,270.32 L188.50,270.33 L189.00,270.34 L189.50,270.36 L190.00,270.37 L190.50,270.38 L191.00,270.38 L191.50,270.39 L192.00,270.40 L192.50,270.41 L193.00,270.41 L193.50,270.42 L194.00,270.43 L194.50,270.43 L195.00,270.44" fill="none" stroke="#c8b08a" stroke-width="0.7" stroke-linecap="round" stroke-linejoin="round"/>
<path d="M130.00,270.37 L130.50,270.35 L131.00,270.32 L131.50,270.30 L132.00,270.27 L132.50,270.24 L133.00,270.20 L133.50,270.16 L134.00,270.12 L134.50,270.07 L135.00,270.01 L135.50,269.95 L136.00,269.88 L136.50,269.81 L137.00,269.73 L137.50,269.64 L138.00,269.54 L138.50,269.43 L139.00,269.32 L139.50,269.19 L140.00,269.06 L140.50,268.91 L141.00,268.75 L141.50,268.58 L142.00,268.40 L142.50,268.20 L143.00,267.99 L143.50,267.77 L144.00,267.53 L144.50,267.28 L145.00,267.02 L145.50,266.74 L146.00,266.45 L146.50,266.15 L147.00,265.83 L147.50,265.50 L148.00,265.15 L148.50,264.80 L149.00,264.43 L149.50,264.06 L150.00,263.67 L150.50,263.28 L151.00,262.88 L151.50,262.47 L152.00,262.06 L152.50,261.65 L153.00,261.24 L153.50,260.82 L154.00,260.41 L154.50,260.01 L155.00,259.61 L155.50,259.22 L156.00,258.83 L156.50,258.46 L157.00,258.11 L157.50,257.77 L158.00,257.45 L158.50,257.14 L159.00,256.86 L159.50,256.60 L160.00,256.37 L160.50,256.16 L161.00,255.98 L161.50,255.82 L162.00,255.70 L162.50,255.60 L163.00,255.54 L163.50,255.51 L164.00,255.50 L164.50,255.53 L165.00,255.59 L165.50,255.68 L166.00,255.80 L166.50,255.95 L167.00,256.12 L167.50,256.32 L168.00,256.55 L168.50,256.81 L169.00,257.09 L169.50,257.38 L170.00,257.70 L170.50,258.04 L171.00,258.39 L171.50,258.76 L172.00,259.14 L172.50,259.53 L173.00,259.93 L173.50,260.33 L174.00,260.74 L174.50,261.15 L175.00,261.57 L175.50,261.98 L176.00,262.39 L176.50,262.80 L177.00,263.20 L177.50,263.59 L178.00,263.98 L178.50,264.36 L179.00,264.73 L179.50,265.08 L180.00,265.43 L180.50,265.76 L181.00,266.08 L181.50,266.39 L182.00,266.68 L182.50,266.96 L183.00,267.23 L183.50,267.48 L184.00,267.72 L184.50,267.95 L185.00,268.16 L185.50,268.36 L186.00,268.54 L186.50,268.72 L187.00,268.88 L187.50,269.03 L188.00,269.17 L188.50,269.29 L189.00,269.41 L189.50,269.52 L190.00,269.62 L190.50,269.71 L191.00,269.79 L191.50,269.87 L192.00,269.94 L192.50,270.00 L193.00,270.06 L193.50,270.11 L194.00,270.15 L194.50,270.19 L195.00,270.23 L195.50,270.26 L196.00,270.29 L196.50,270.32 L197.00,270.34 L197.50,270.36 L198.00,270.38 L198.50,270.40 L199.00,270.41 L199.50,270.42 L200.00,270.43" fill="none" stroke="#c8b08a" stroke-width="0.7" stroke-linecap="round" stroke-linejoin="round"/>
<path d="M92.60,266.10 C95.57,265.77 105.33,264.92 110.40,264.10 C115.47,263.28 119.57,262.18 123.00,261.20 C126.43,260.22 128.50,258.58 131.00,258.20 C133.50,257.82 135.08,259.37 138.00,258.90 C140.92,258.43 144.63,256.87 148.50,255.40 C152.37,253.93 157.17,251.62 161.20,250.10 C165.23,248.58 170.15,248.20 172.70,246.30 C175.25,244.40 175.53,242.25 176.50,238.70 C177.47,235.15 177.87,230.93 178.50,225.00 C179.13,219.07 179.58,210.35 180.30,203.10 C181.02,195.85 182.08,184.68 182.80,181.50 C183.52,178.32 183.95,184.30 184.60,184.00 C185.25,183.70 185.93,176.93 186.70,179.70 C187.47,182.47 188.48,193.55 189.20,200.60 C189.92,207.65 190.37,215.23 191.00,222.00 C191.63,228.77 192.17,235.70 193.00,241.20 C193.83,246.70 194.73,251.40 196.00,255.00 C197.27,258.60 199.27,262.47 200.60,262.80 C201.93,263.13 202.93,259.75 204.00,257.00 C205.07,254.25 205.95,250.20 207.00,246.30 C208.05,242.40 209.38,234.15 210.30,233.60 C211.22,233.05 211.78,239.62 212.50,243.00 C213.22,246.38 213.68,250.73 214.60,253.90 C215.52,257.07 216.73,260.08 218.00,262.00 C219.27,263.92 219.37,264.48 222.20,265.40 C225.03,266.32 230.77,266.95 235.00,267.50 C239.23,268.05 245.50,268.50 247.60,268.70" fill="none" stroke="#1818a0" stroke-width="0.9" stroke-linecap="round" stroke-linejoin="round"/>
<path d="M92.6,266.1 L93.4,266.0 L94.0,266.0 L94.7,265.9 L95.5,265.8 L96.4,265.7 L97.3,265.6 L98.2,265.5 L99.2,265.4 L99.7,265.4 L100.2,265.3 L100.7,265.3 L101.2,265.2 L101.8,265.2 L102.3,265.1 L102.8,265.1 L103.3,265.0 L103.8,264.9 L104.4,264.9 L104.9,264.8 L105.4,264.8 L105.9,264.7 L106.4,264.7 L107.4,264.5 L108.3,264.4 L109.2,264.3 L110.0,264.2 L110.8,264.0 L111.5,263.9 L112.3,263.8 L113.0,263.6 L113.7,263.5 L114.4,263.4 L115.0,263.2 L115.7,263.1 L116.4,262.9 L117.0,262.8 L117.6,262.6 L118.2,262.5 L118.8,262.3 L119.4,262.2 L120.0,262.0 L120.6,261.9 L121.1,261.7 L121.7,261.6 L122.2,261.4 L122.7,261.3 L123.3,261.1 L123.8,261.0 L124.2,260.8 L124.9,260.5 L125.6,260.3 L126.2,260.0 L126.8,259.7 L127.3,259.5 L127.9,259.2 L128.5,259.0 L129.0,258.8 L129.5,258.6 L130.1,258.4 L130.6,258.3 L131.2,258.2 L131.7,258.1 L132.2,258.2 L132.7,258.2 L133.4,258.3 L134.0,258.5 L134.7,258.7 L135.2,258.8 L135.7,258.9 L136.2,259.0 L136.8,259.0 L137.4,259.0 L138.0,258.9 L138.7,258.8 L139.4,258.6 L140.1,258.4 L140.6,258.3 L141.1,258.1 L141.6,258.0 L142.1,257.8 L142.6,257.6 L143.2,257.4 L143.7,257.2 L144.2,257.0 L144.8,256.8 L145.4,256.6 L145.9,256.4 L146.5,256.2 L147.1,256.0 L147.6,255.7 L148.2,255.5 L148.8,255.3 L149.4,255.1 L150.0,254.8 L150.6,254.6 L151.2,254.3 L151.9,254.0 L152.5,253.8 L153.2,253.5 L153.8,253.2 L154.5,252.9 L155.1,252.6 L155.8,252.3 L156.4,252.1 L157.1,251.8 L157.7,251.5 L158.4,251.2 L159.0,251.0 L159.7,250.7 L160.3,250.5 L160.9,250.2 L161.5,250.0 L162.1,249.8 L162.7,249.6 L163.4,249.4 L164.0,249.2 L164.7,249.1 L165.3,248.9 L165.9,248.7 L166.6,248.6 L167.2,248.4 L167.8,248.3 L168.4,248.1 L169.0,247.9 L169.6,247.8 L170.1,247.6 L170.7,247.4 L171.2,247.2 L171.6,246.9 L172.1,246.7 L172.7,246.3 L173.2,245.9 L173.7,245.4 L174.1,245.0 M199.5,261.9 L199.8,262.3 L200.3,262.7 L200.8,262.8 L201.3,262.7 M219.1,263.7 L219.5,264.1 L220.0,264.4 L220.4,264.7 L220.9,264.9 L221.4,265.1 L222.0,265.3 L222.6,265.5 L223.1,265.7 L223.7,265.8 L224.2,265.9 L224.8,266.0 L225.4,266.2 L226.1,266.3 L226.7,266.4 L227.4,266.5 L228.1,266.6 L228.8,266.7 L229.5,266.8 L230.2,266.9 L230.9,267.0 L231.6,267.1 L232.3,267.2 L233.0,267.2 L233.7,267.3 L234.4,267.4 L235.0,267.5 L235.6,267.6 L236.3,267.7 L237.0,267.7 L237.7,267.8 L238.5,267.9 L239.2,268.0 L239.9,268.0 L240.7,268.1 L241.4,268.2 L242.1,268.2 L242.8,268.3 L243.5,268.3 L244.1,268.4 L244.8,268.5 L245.3,268.5 L245.9,268.6 L246.4,268.6 L247.1,268.7 L247.6,268.7" fill="none" stroke="#1818a0" stroke-width="3.6" stroke-linecap="round" stroke-linejoin="round"/>
<g fill="none" stroke="#1818a0" stroke-width="0.95"><circle cx="92.6" cy="266.1" r="1.3"/><circle cx="93.5" cy="266.5" r="1.3"/><circle cx="94.4" cy="265.5" r="1.3"/><circle cx="95.3" cy="266.2" r="1.3"/><circle cx="96.2" cy="266.7" r="1.3"/><circle cx="97.1" cy="266.1" r="1.3"/><circle cx="98.0" cy="267.1" r="1.3"/><circle cx="98.9" cy="264.6" r="1.3"/><circle cx="99.8" cy="265.4" r="1.3"/><circle cx="100.7" cy="264.6" r="1.3"/><circle cx="101.6" cy="264.4" r="1.3"/><circle cx="102.5" cy="264.9" r="1.3"/><circle cx="103.4" cy="265.2" r="1.3"/><circle cx="104.3" cy="265.3" r="1.3"/><circle cx="105.2" cy="265.3" r="1.3"/><circle cx="106.1" cy="266.9" r="1.3"/><circle cx="107.0" cy="265.4" r="1.3"/><circle cx="107.9" cy="262.9" r="1.3"/><circle cx="108.8" cy="264.5" r="1.3"/><circle cx="109.7" cy="263.6" r="1.3"/><circle cx="110.6" cy="263.6" r="1.3"/><circle cx="111.5" cy="265.2" r="1.3"/><circle cx="112.4" cy="263.5" r="1.3"/><circle cx="113.3" cy="261.7" r="1.3"/><circle cx="114.2" cy="263.7" r="1.3"/><circle cx="115.1" cy="262.9" r="1.3"/><circle cx="116.0" cy="261.9" r="1.3"/><circle cx="116.9" cy="261.9" r="1.3"/><circle cx="117.8" cy="262.0" r="1.3"/><circle cx="118.7" cy="262.3" r="1.3"/><circle cx="119.6" cy="261.7" r="1.3"/><circle cx="120.5" cy="262.0" r="1.3"/><circle cx="121.4" cy="263.4" r="1.3"/><circle cx="122.3" cy="260.6" r="1.3"/><circle cx="123.2" cy="260.4" r="1.3"/><circle cx="124.1" cy="260.6" r="1.3"/><circle cx="125.0" cy="261.5" r="1.3"/><circle cx="125.9" cy="259.5" r="1.3"/><circle cx="126.8" cy="261.0" r="1.3"/><circle cx="127.7" cy="258.1" r="1.3"/><circle cx="128.6" cy="258.0" r="1.3"/><circle cx="129.5" cy="258.5" r="1.3"/><circle cx="130.4" cy="257.5" r="1.3"/><circle cx="131.3" cy="257.5" r="1.3"/><circle cx="132.2" cy="258.6" r="1.3"/><circle cx="133.1" cy="259.0" r="1.3"/><circle cx="134.0" cy="258.6" r="1.3"/><circle cx="134.9" cy="258.5" r="1.3"/><circle cx="135.8" cy="260.2" r="1.3"/><circle cx="136.7" cy="259.4" r="1.3"/><circle cx="137.6" cy="258.7" r="1.3"/><circle cx="138.5" cy="260.0" r="1.3"/><circle cx="139.4" cy="257.7" r="1.3"/><circle cx="140.3" cy="258.5" r="1.3"/><circle cx="141.2" cy="258.7" r="1.3"/><circle cx="142.1" cy="257.8" r="1.3"/><circle cx="143.0" cy="256.9" r="1.3"/><circle cx="143.9" cy="257.5" r="1.3"/><circle cx="144.8" cy="256.3" r="1.3"/><circle cx="145.7" cy="255.9" r="1.3"/><circle cx="146.6" cy="255.2" r="1.3"/><circle cx="147.5" cy="257.0" r="1.3"/><circle cx="148.4" cy="254.9" r="1.3"/><circle cx="149.3" cy="256.2" r="1.3"/><circle cx="150.2" cy="255.1" r="1.3"/><circle cx="151.1" cy="254.1" r="1.3"/><circle cx="152.0" cy="254.6" r="1.3"/><circle cx="152.9" cy="253.8" r="1.3"/><circle cx="153.8" cy="253.3" r="1.3"/><circle cx="154.7" cy="251.5" r="1.3"/><circle cx="155.6" cy="252.5" r="1.3"/><circle cx="156.5" cy="252.8" r="1.3"/><circle cx="157.4" cy="252.1" r="1.3"/><circle cx="158.3" cy="252.2" r="1.3"/><circle cx="159.2" cy="252.3" r="1.3"/><circle cx="160.1" cy="250.9" r="1.3"/><circle cx="161.0" cy="252.0" r="1.3"/><circle cx="161.9" cy="248.4" r="1.3"/><circle cx="162.8" cy="249.3" r="1.3"/><circle cx="163.7" cy="246.9" r="1.3"/><circle cx="164.6" cy="249.9" r="1.3"/><circle cx="165.5" cy="248.9" r="1.3"/><circle cx="166.4" cy="250.3" r="1.3"/><circle cx="167.3" cy="248.0" r="1.3"/><circle cx="168.2" cy="246.2" r="1.3"/><circle cx="169.1" cy="249.1" r="1.3"/><circle cx="170.0" cy="246.4" r="1.3"/><circle cx="170.9" cy="246.1" r="1.3"/><circle cx="171.8" cy="246.7" r="1.3"/><circle cx="172.7" cy="246.8" r="1.3"/><circle cx="173.3" cy="245.4" r="1.3"/><circle cx="173.9" cy="245.3" r="1.3"/><circle cx="174.5" cy="243.5" r="1.3"/><circle cx="175.1" cy="244.0" r="1.3"/><circle cx="175.4" cy="242.6" r="1.3"/><circle cx="175.7" cy="241.7" r="1.3"/><circle cx="176.0" cy="240.8" r="1.3"/><circle cx="176.3" cy="239.5" r="1.3"/><circle cx="176.6" cy="238.4" r="1.3"/><circle cx="176.9" cy="236.8" r="1.3"/><circle cx="177.2" cy="235.5" r="1.3"/><circle cx="177.5" cy="233.7" r="1.3"/><circle cx="177.8" cy="231.6" r="1.3"/><circle cx="178.1" cy="228.7" r="1.3"/><circle cx="178.4" cy="226.0" r="1.3"/><circle cx="178.7" cy="223.1" r="1.3"/><circle cx="179.0" cy="219.6" r="1.3"/><circle cx="179.3" cy="215.5" r="1.3"/><circle cx="179.6" cy="211.4" r="1.3"/><circle cx="179.9" cy="207.4" r="1.3"/><circle cx="180.2" cy="204.4" r="1.3"/><circle cx="180.5" cy="201.1" r="1.3"/><circle cx="180.8" cy="198.0" r="1.3"/><circle cx="181.1" cy="195.9" r="1.3"/><circle cx="181.4" cy="192.4" r="1.3"/><circle cx="181.7" cy="189.6" r="1.3"/><circle cx="182.0" cy="186.9" r="1.3"/><circle cx="182.3" cy="184.3" r="1.3"/><circle cx="182.6" cy="182.8" r="1.3"/><circle cx="182.9" cy="181.1" r="1.3"/><circle cx="183.8" cy="182.0" r="1.3"/><circle cx="184.1" cy="183.7" r="1.3"/><circle cx="184.4" cy="184.8" r="1.3"/><circle cx="185.0" cy="183.3" r="1.3"/><circle cx="185.3" cy="182.0" r="1.3"/><circle cx="185.6" cy="181.5" r="1.3"/><circle cx="185.9" cy="180.0" r="1.3"/><circle cx="186.5" cy="178.7" r="1.3"/><circle cx="186.8" cy="180.3" r="1.3"/><circle cx="187.1" cy="181.7" r="1.3"/><circle cx="187.4" cy="183.8" r="1.3"/><circle cx="187.7" cy="186.4" r="1.3"/><circle cx="188.0" cy="188.9" r="1.3"/><circle cx="188.3" cy="192.2" r="1.3"/><circle cx="188.6" cy="194.7" r="1.3"/><circle cx="188.9" cy="197.7" r="1.3"/><circle cx="189.2" cy="200.9" r="1.3"/><circle cx="189.5" cy="203.6" r="1.3"/><circle cx="189.8" cy="207.5" r="1.3"/><circle cx="190.1" cy="211.0" r="1.3"/><circle cx="190.4" cy="215.2" r="1.3"/><circle cx="190.7" cy="218.4" r="1.3"/><circle cx="191.0" cy="222.1" r="1.3"/><circle cx="191.3" cy="224.9" r="1.3"/><circle cx="191.6" cy="228.5" r="1.3"/><circle cx="191.9" cy="231.8" r="1.3"/><circle cx="192.2" cy="234.9" r="1.3"/><circle cx="192.5" cy="238.0" r="1.3"/><circle cx="192.8" cy="240.3" r="1.3"/><circle cx="193.1" cy="241.5" r="1.3"/><circle cx="193.4" cy="243.5" r="1.3"/><circle cx="193.7" cy="245.8" r="1.3"/><circle cx="194.0" cy="247.2" r="1.3"/><circle cx="194.3" cy="248.3" r="1.3"/><circle cx="194.6" cy="250.1" r="1.3"/><circle cx="194.9" cy="251.0" r="1.3"/><circle cx="195.2" cy="252.2" r="1.3"/><circle cx="195.5" cy="253.1" r="1.3"/><circle cx="195.8" cy="254.3" r="1.3"/><circle cx="196.1" cy="256.0" r="1.3"/><circle cx="196.4" cy="256.2" r="1.3"/><circle cx="196.7" cy="256.8" r="1.3"/><circle cx="197.0" cy="258.5" r="1.3"/><circle cx="197.3" cy="258.0" r="1.3"/><circle cx="197.9" cy="259.4" r="1.3"/><circle cx="198.5" cy="260.4" r="1.3"/><circle cx="199.1" cy="261.7" r="1.3"/><circle cx="199.7" cy="262.0" r="1.3"/><circle cx="200.3" cy="264.0" r="1.3"/><circle cx="201.2" cy="262.4" r="1.3"/><circle cx="201.8" cy="262.4" r="1.3"/><circle cx="202.4" cy="261.2" r="1.3"/><circle cx="202.7" cy="260.0" r="1.3"/><circle cx="203.0" cy="259.3" r="1.3"/><circle cx="203.3" cy="258.8" r="1.3"/><circle cx="203.6" cy="257.3" r="1.3"/><circle cx="203.9" cy="257.3" r="1.3"/><circle cx="204.2" cy="256.5" r="1.3"/><circle cx="204.5" cy="255.6" r="1.3"/><circle cx="204.8" cy="254.6" r="1.3"/><circle cx="205.1" cy="253.7" r="1.3"/><circle cx="205.4" cy="252.4" r="1.3"/><circle cx="205.7" cy="251.5" r="1.3"/><circle cx="206.0" cy="249.8" r="1.3"/><circle cx="206.3" cy="249.2" r="1.3"/><circle cx="206.6" cy="247.6" r="1.3"/><circle cx="206.9" cy="246.8" r="1.3"/><circle cx="207.2" cy="245.4" r="1.3"/><circle cx="207.5" cy="244.1" r="1.3"/><circle cx="207.8" cy="242.7" r="1.3"/><circle cx="208.1" cy="241.8" r="1.3"/><circle cx="208.4" cy="239.8" r="1.3"/><circle cx="208.7" cy="238.4" r="1.3"/><circle cx="209.0" cy="237.4" r="1.3"/><circle cx="209.3" cy="236.2" r="1.3"/><circle cx="209.6" cy="235.1" r="1.3"/><circle cx="209.9" cy="233.8" r="1.3"/><circle cx="210.5" cy="233.1" r="1.3"/><circle cx="211.1" cy="235.2" r="1.3"/><circle cx="211.4" cy="236.1" r="1.3"/><circle cx="211.7" cy="238.4" r="1.3"/><circle cx="212.0" cy="240.3" r="1.3"/><circle cx="212.3" cy="242.0" r="1.3"/><circle cx="212.6" cy="243.2" r="1.3"/><circle cx="212.9" cy="245.6" r="1.3"/><circle cx="213.2" cy="246.9" r="1.3"/><circle cx="213.5" cy="248.7" r="1.3"/><circle cx="213.8" cy="250.3" r="1.3"/><circle cx="214.1" cy="251.6" r="1.3"/><circle cx="214.4" cy="253.1" r="1.3"/><circle cx="214.7" cy="254.3" r="1.3"/><circle cx="215.0" cy="255.0" r="1.3"/><circle cx="215.3" cy="256.2" r="1.3"/><circle cx="215.6" cy="257.4" r="1.3"/><circle cx="215.9" cy="257.9" r="1.3"/><circle cx="216.2" cy="258.5" r="1.3"/><circle cx="216.5" cy="259.6" r="1.3"/><circle cx="216.8" cy="260.2" r="1.3"/><circle cx="217.4" cy="261.4" r="1.3"/><circle cx="218.0" cy="261.6" r="1.3"/><circle cx="218.6" cy="261.9" r="1.3"/><circle cx="219.2" cy="264.3" r="1.3"/><circle cx="219.8" cy="264.4" r="1.3"/><circle cx="220.4" cy="264.4" r="1.3"/><circle cx="221.3" cy="265.5" r="1.3"/><circle cx="222.2" cy="265.0" r="1.3"/><circle cx="223.1" cy="265.1" r="1.3"/><circle cx="224.0" cy="267.6" r="1.3"/><circle cx="224.9" cy="264.5" r="1.3"/><circle cx="225.8" cy="267.0" r="1.3"/><circle cx="226.7" cy="267.4" r="1.3"/><circle cx="227.6" cy="268.3" r="1.3"/><circle cx="228.5" cy="266.9" r="1.3"/><circle cx="229.4" cy="267.3" r="1.3"/><circle cx="230.3" cy="266.0" r="1.3"/><circle cx="231.2" cy="267.0" r="1.3"/><circle cx="232.1" cy="265.1" r="1.3"/><circle cx="233.0" cy="266.7" r="1.3"/><circle cx="233.9" cy="267.3" r="1.3"/><circle cx="234.8" cy="267.4" r="1.3"/><circle cx="235.7" cy="267.1" r="1.3"/><circle cx="236.6" cy="268.8" r="1.3"/><circle cx="237.5" cy="266.2" r="1.3"/><circle cx="238.4" cy="268.0" r="1.3"/><circle cx="239.3" cy="267.6" r="1.3"/><circle cx="240.2" cy="268.1" r="1.3"/><circle cx="241.1" cy="268.2" r="1.3"/><circle cx="242.0" cy="270.2" r="1.3"/><circle cx="242.9" cy="267.2" r="1.3"/><circle cx="243.8" cy="269.7" r="1.3"/><circle cx="244.7" cy="269.8" r="1.3"/><circle cx="245.6" cy="268.4" r="1.3"/><circle cx="246.5" cy="268.0" r="1.3"/><circle cx="247.4" cy="267.5" r="1.3"/></g>
<path d="M152.30,269.81 L152.80,269.79 L153.30,269.77 L153.80,269.74 L154.30,269.71 L154.80,269.69 L155.30,269.66 L155.80,269.62 L156.30,269.59 L156.80,269.55 L157.30,269.52 L157.80,269.48 L158.30,269.43 L158.80,269.39 L159.30,269.34 L159.80,269.29 L160.30,269.24 L160.80,269.18 L161.30,269.12 L161.80,269.05 L162.30,268.98 L162.80,268.90 L163.30,268.82 L163.80,268.73 L164.30,268.63 L164.80,268.53 L165.30,268.41 L165.80,268.29 L166.30,268.15 L166.80,268.01 L167.30,267.84 L167.80,267.67 L168.30,267.47 L168.80,267.25 L169.30,267.02 L169.80,266.75 L170.30,266.45 L170.80,266.12 L171.30,265.74 L171.80,265.32 L172.30,264.83 L172.80,264.28 L173.30,263.65 L173.80,262.93 L174.30,262.09 L174.80,261.11 L175.30,259.96 L175.80,258.60 L176.30,256.99 L176.80,255.07 L177.30,252.77 L177.80,250.01 L178.30,246.70 L178.80,242.73 L179.30,238.03 L179.80,232.62 L180.30,226.63 L180.80,220.49 L181.30,214.93 L181.80,210.95 L182.30,209.50 L182.80,210.95 L183.30,214.93 L183.80,220.49 L184.30,226.63 L184.80,232.62 L185.30,238.03 L185.80,242.73 L186.30,246.70 L186.80,250.01 L187.30,252.77 L187.80,255.07 L188.30,256.99 L188.80,258.60 L189.30,259.96 L189.80,261.11 L190.30,262.09 L190.80,262.93 L191.30,263.65 L191.80,264.28 L192.30,264.83 L192.80,265.32 L193.30,265.74 L193.80,266.12 L194.30,266.45 L194.80,266.75 L195.30,267.02 L195.80,267.25 L196.30,267.47 L196.80,267.67 L197.30,267.84 L197.80,268.01 L198.30,268.15 L198.80,268.29 L199.30,268.41 L199.80,268.53 L200.30,268.63 L200.80,268.73 L201.30,268.82 L201.80,268.90 L202.30,268.98 L202.80,269.05 L203.30,269.12 L203.80,269.18 L204.30,269.24 L204.80,269.29 L205.30,269.34 L205.80,269.39 L206.30,269.43 L206.80,269.48 L207.30,269.52 L207.80,269.55 L208.30,269.59 L208.80,269.62 L209.30,269.66 L209.80,269.69 L210.30,269.71 L210.80,269.74 L211.30,269.77 L211.80,269.79 L212.30,269.81" fill="none" stroke="#d81e1e" stroke-width="1.1" stroke-linecap="round" stroke-linejoin="round"/>
<path d="M156.70,269.77 L157.20,269.74 L157.70,269.72 L158.20,269.69 L158.70,269.66 L159.20,269.63 L159.70,269.60 L160.20,269.57 L160.70,269.53 L161.20,269.49 L161.70,269.45 L162.20,269.41 L162.70,269.36 L163.20,269.32 L163.70,269.27 L164.20,269.21 L164.70,269.15 L165.20,269.09 L165.70,269.02 L166.20,268.95 L166.70,268.88 L167.20,268.80 L167.70,268.71 L168.20,268.61 L168.70,268.51 L169.20,268.40 L169.70,268.28 L170.20,268.14 L170.70,268.00 L171.20,267.84 L171.70,267.67 L172.20,267.48 L172.70,267.27 L173.20,267.04 L173.70,266.79 L174.20,266.50 L174.70,266.18 L175.20,265.83 L175.70,265.43 L176.20,264.98 L176.70,264.46 L177.20,263.88 L177.70,263.20 L178.20,262.43 L178.70,261.53 L179.20,260.49 L179.70,259.26 L180.20,257.82 L180.70,256.11 L181.20,254.06 L181.70,251.61 L182.20,248.67 L182.70,245.13 L183.20,240.90 L183.70,235.91 L184.20,230.14 L184.70,223.76 L185.20,217.21 L185.70,211.28 L186.20,207.05 L186.70,205.50 L187.20,207.05 L187.70,211.28 L188.20,217.21 L188.70,223.76 L189.20,230.14 L189.70,235.91 L190.20,240.90 L190.70,245.13 L191.20,248.67 L191.70,251.61 L192.20,254.06 L192.70,256.11 L193.20,257.82 L193.70,259.26 L194.20,260.49 L194.70,261.53 L195.20,262.43 L195.70,263.20 L196.20,263.88 L196.70,264.46 L197.20,264.98 L197.70,265.43 L198.20,265.83 L198.70,266.18 L199.20,266.50 L199.70,266.79 L200.20,267.04 L200.70,267.27 L201.20,267.48 L201.70,267.67 L202.20,267.84 L202.70,268.00 L203.20,268.14 L203.70,268.28 L204.20,268.40 L204.70,268.51 L205.20,268.61 L205.70,268.71 L206.20,268.80 L206.70,268.88 L207.20,268.95 L207.70,269.02 L208.20,269.09 L208.70,269.15 L209.20,269.21 L209.70,269.27 L210.20,269.32 L210.70,269.36 L211.20,269.41 L211.70,269.45 L212.20,269.49 L212.70,269.53 L213.20,269.57 L213.70,269.60 L214.20,269.63 L214.70,269.66 L215.20,269.69 L215.70,269.72 L216.20,269.74 L216.70,269.77" fill="none" stroke="#d81e1e" stroke-width="1.1" stroke-linecap="round" stroke-linejoin="round"/>
<path d="M180.00,270.26 L180.50,270.25 L181.00,270.24 L181.50,270.24 L182.00,270.23 L182.50,270.22 L183.00,270.21 L183.50,270.19 L184.00,270.18 L184.50,270.17 L185.00,270.16 L185.50,270.14 L186.00,270.13 L186.50,270.11 L187.00,270.10 L187.50,270.08 L188.00,270.06 L188.50,270.04 L189.00,270.02 L189.50,269.99 L190.00,269.97 L190.50,269.94 L191.00,269.91 L191.50,269.88 L192.00,269.85 L192.50,269.81 L193.00,269.77 L193.50,269.72 L194.00,269.68 L194.50,269.62 L195.00,269.57 L195.50,269.50 L196.00,269.43 L196.50,269.36 L197.00,269.27 L197.50,269.17 L198.00,269.07 L198.50,268.94 L199.00,268.81 L199.50,268.65 L200.00,268.47 L200.50,268.27 L201.00,268.04 L201.50,267.76 L202.00,267.44 L202.50,267.07 L203.00,266.62 L203.50,266.09 L204.00,265.44 L204.50,264.66 L205.00,263.69 L205.50,262.49 L206.00,261.00 L206.50,259.12 L207.00,256.77 L207.50,253.87 L208.00,250.40 L208.50,246.49 L209.00,242.62 L209.50,239.64 L210.00,238.50 L210.50,239.64 L211.00,242.62 L211.50,246.49 L212.00,250.40 L212.50,253.87 L213.00,256.77 L213.50,259.12 L214.00,261.00 L214.50,262.49 L215.00,263.69 L215.50,264.66 L216.00,265.44 L216.50,266.09 L217.00,266.62 L217.50,267.07 L218.00,267.44 L218.50,267.76 L219.00,268.04 L219.50,268.27 L220.00,268.47 L220.50,268.65 L221.00,268.81 L221.50,268.94 L222.00,269.07 L222.50,269.17 L223.00,269.27 L223.50,269.36 L224.00,269.43 L224.50,269.50 L225.00,269.57 L225.50,269.62 L226.00,269.68 L226.50,269.72 L227.00,269.77 L227.50,269.81 L228.00,269.85 L228.50,269.88 L229.00,269.91 L229.50,269.94 L230.00,269.97 L230.50,269.99 L231.00,270.02 L231.50,270.04 L232.00,270.06 L232.50,270.08 L233.00,270.10 L233.50,270.11 L234.00,270.13 L234.50,270.14 L235.00,270.16 L235.50,270.17 L236.00,270.18 L236.50,270.19 L237.00,270.21 L237.50,270.22 L238.00,270.23 L238.50,270.24 L239.00,270.24 L239.50,270.25 L240.00,270.26" fill="none" stroke="#d81e1e" stroke-width="1.1" stroke-linecap="round" stroke-linejoin="round"/>
<path d="M176.80,270.46 L177.30,270.45 L177.80,270.45 L178.30,270.45 L178.80,270.45 L179.30,270.45 L179.80,270.45 L180.30,270.44 L180.80,270.44 L181.30,270.44 L181.80,270.44 L182.30,270.43 L182.80,270.43 L183.30,270.43 L183.80,270.42 L184.30,270.42 L184.80,270.42 L185.30,270.41 L185.80,270.41 L186.30,270.41 L186.80,270.40 L187.30,270.40 L187.80,270.39 L188.30,270.38 L188.80,270.38 L189.30,270.37 L189.80,270.36 L190.30,270.36 L190.80,270.35 L191.30,270.34 L191.80,270.33 L192.30,270.31 L192.80,270.30 L193.30,270.29 L193.80,270.27 L194.30,270.25 L194.80,270.23 L195.30,270.21 L195.80,270.18 L196.30,270.15 L196.80,270.12 L197.30,270.08 L197.80,270.03 L198.30,269.98 L198.80,269.91 L199.30,269.84 L199.80,269.75 L200.30,269.64 L200.80,269.50 L201.30,269.33 L201.80,269.12 L202.30,268.85 L202.80,268.50 L203.30,268.04 L203.80,267.42 L204.30,266.60 L204.80,265.50 L205.30,264.10 L205.80,262.50 L206.30,261.09 L206.80,260.50 L207.30,261.09 L207.80,262.50 L208.30,264.10 L208.80,265.50 L209.30,266.60 L209.80,267.42 L210.30,268.04 L210.80,268.50 L211.30,268.85 L211.80,269.12 L212.30,269.33 L212.80,269.50 L213.30,269.64 L213.80,269.75 L214.30,269.84 L214.80,269.91 L215.30,269.98 L215.80,270.03 L216.30,270.08 L216.80,270.12 L217.30,270.15 L217.80,270.18 L218.30,270.21 L218.80,270.23 L219.30,270.25 L219.80,270.27 L220.30,270.29 L220.80,270.30 L221.30,270.31 L221.80,270.33 L222.30,270.34 L222.80,270.35 L223.30,270.36 L223.80,270.36 L224.30,270.37 L224.80,270.38 L225.30,270.38 L225.80,270.39 L226.30,270.40 L226.80,270.40 L227.30,270.41 L227.80,270.41 L228.30,270.41 L228.80,270.42 L229.30,270.42 L229.80,270.42 L230.30,270.43 L230.80,270.43 L231.30,270.43 L231.80,270.44 L232.30,270.44 L232.80,270.44 L233.30,270.44 L233.80,270.45 L234.30,270.45 L234.80,270.45 L235.30,270.45 L235.80,270.45 L236.30,270.45 L236.80,270.46" fill="none" stroke="#d81e1e" stroke-width="1.1" stroke-linecap="round" stroke-linejoin="round"/>
<rect x="69.90" y="171.40" width="62.50" height="56.80" fill="white" stroke="#a0a0a0" stroke-width="0.9"/>
<g fill="none" stroke="#4a4ab8" stroke-width="0.65"><circle cx="87.4" cy="224.7" r="0.8"/><circle cx="87.7" cy="222.9" r="0.8"/><circle cx="88.1" cy="220.7" r="0.8"/><circle cx="88.4" cy="218.5" r="0.8"/><circle cx="88.8" cy="216.7" r="0.8"/><circle cx="89.1" cy="214.3" r="0.8"/><circle cx="89.5" cy="211.9" r="0.8"/><circle cx="89.8" cy="210.0" r="0.8"/><circle cx="90.2" cy="207.1" r="0.8"/><circle cx="90.5" cy="204.9" r="0.8"/><circle cx="90.8" cy="202.9" r="0.8"/><circle cx="91.0" cy="201.1" r="0.8"/><circle cx="91.4" cy="198.9" r="0.8"/><circle cx="91.7" cy="196.6" r="0.8"/><circle cx="92.1" cy="194.2" r="0.8"/><circle cx="92.4" cy="192.0" r="0.8"/><circle cx="92.8" cy="189.6" r="0.8"/><circle cx="93.1" cy="187.2" r="0.8"/><circle cx="93.6" cy="185.0" r="0.8"/><circle cx="94.0" cy="182.8" r="0.8"/><circle cx="94.6" cy="180.4" r="0.8"/><circle cx="96.1" cy="182.5" r="0.8"/><circle cx="97.1" cy="184.1" r="0.8"/><circle cx="98.5" cy="185.4" r="0.8"/><circle cx="99.8" cy="184.8" r="0.8"/><circle cx="100.8" cy="182.5" r="0.8"/><circle cx="102.0" cy="180.2" r="0.8"/><circle cx="103.4" cy="179.0" r="0.8"/><circle cx="105.4" cy="180.3" r="0.8"/><circle cx="106.4" cy="180.7" r="0.8"/><circle cx="106.9" cy="182.9" r="0.8"/><circle cx="107.4" cy="185.1" r="0.8"/><circle cx="107.8" cy="187.1" r="0.8"/><circle cx="108.1" cy="189.4" r="0.8"/><circle cx="108.5" cy="191.5" r="0.8"/><circle cx="108.8" cy="193.8" r="0.8"/><circle cx="109.2" cy="196.0" r="0.8"/><circle cx="109.5" cy="198.1" r="0.8"/><circle cx="109.9" cy="200.5" r="0.8"/><circle cx="110.2" cy="202.8" r="0.8"/><circle cx="110.6" cy="204.3" r="0.8"/><circle cx="110.9" cy="206.8" r="0.8"/><circle cx="111.3" cy="208.5" r="0.8"/><circle cx="111.6" cy="210.5" r="0.8"/><circle cx="112.0" cy="213.0" r="0.8"/><circle cx="112.5" cy="215.4" r="0.8"/><circle cx="112.9" cy="217.6" r="0.8"/><circle cx="113.3" cy="219.3" r="0.8"/><circle cx="113.7" cy="222.5" r="0.8"/><circle cx="114.1" cy="224.4" r="0.8"/></g>
<path d="M87.40,225.00 C87.75,222.83 88.82,216.50 89.50,212.00 C90.18,207.50 90.83,202.50 91.50,198.00 C92.17,193.50 92.92,187.95 93.50,185.00 C94.08,182.05 94.42,180.47 95.00,180.30 C95.58,180.13 96.37,183.15 97.00,184.00 C97.63,184.85 98.05,185.90 98.80,185.40 C99.55,184.90 100.50,182.17 101.50,181.00 C102.50,179.83 103.88,178.07 104.80,178.40 C105.72,178.73 106.30,180.23 107.00,183.00 C107.70,185.77 108.25,190.50 109.00,195.00 C109.75,199.50 110.63,205.03 111.50,210.00 C112.37,214.97 113.75,222.33 114.20,224.80" fill="none" stroke="#d81e1e" stroke-width="1.3" stroke-linecap="round" stroke-linejoin="round"/>
<path d="M91.20,225.00 L91.45,222.24 L91.71,220.54 L91.96,219.11 L92.21,217.86 L92.47,216.75 L92.72,215.76 L92.97,214.89 L93.23,214.11 L93.48,213.45 L93.73,212.88 L93.99,212.42 L94.24,212.06 L94.49,211.81 L94.75,211.65 L95.00,211.60 L95.25,211.65 L95.51,211.81 L95.76,212.06 L96.01,212.42 L96.27,212.88 L96.52,213.45 L96.77,214.11 L97.03,214.89 L97.28,215.76 L97.53,216.75 L97.79,217.86 L98.04,219.11 L98.29,220.54 L98.55,222.24 L98.80,225.00" fill="none" stroke="#d81e1e" stroke-width="1.5" stroke-linecap="round"/>
<path d="M102.70,225.00 L103.00,221.32 L103.29,219.04 L103.59,217.13 L103.89,215.46 L104.18,213.98 L104.48,212.66 L104.78,211.49 L105.07,210.46 L105.37,209.57 L105.67,208.81 L105.96,208.20 L106.26,207.72 L106.56,207.37 L106.85,207.17 L107.15,207.10 L107.45,207.17 L107.74,207.37 L108.04,207.72 L108.34,208.20 L108.63,208.81 L108.93,209.57 L109.23,210.46 L109.52,211.49 L109.82,212.66 L110.12,213.98 L110.41,215.46 L110.71,217.13 L111.01,219.04 L111.30,221.32 L111.60,225.00" fill="none" stroke="#d81e1e" stroke-width="1.8" stroke-linecap="round"/>
<line x1="81.00" y1="228.20" x2="81.00" y2="226.60" stroke="#888" stroke-width="0.7"/>
<line x1="119.90" y1="228.20" x2="119.90" y2="226.60" stroke="#888" stroke-width="0.7"/>
<text x="80.6" y="236.0" font-size="8.4" text-anchor="middle" fill="#2a2a2a" font-weight="normal" textLength="17.3" lengthAdjust="spacingAndGlyphs">3370</text>
<text x="119.9" y="236.0" font-size="8.4" text-anchor="middle" fill="#2a2a2a" font-weight="normal" textLength="16.6" lengthAdjust="spacingAndGlyphs">3420</text>
<path d="M100.00,399.33 L100.50,399.33 L101.00,399.32 L101.50,399.31 L102.00,399.30 L102.50,399.29 L103.00,399.28 L103.50,399.26 L104.00,399.25 L104.50,399.23 L105.00,399.22 L105.50,399.20 L106.00,399.18 L106.50,399.16 L107.00,399.14 L107.50,399.11 L108.00,399.09 L108.50,399.06 L109.00,399.03 L109.50,398.99 L110.00,398.96 L110.50,398.92 L111.00,398.88 L111.50,398.84 L112.00,398.80 L112.50,398.75 L113.00,398.70 L113.50,398.64 L114.00,398.59 L114.50,398.53 L115.00,398.47 L115.50,398.40 L116.00,398.33 L116.50,398.26 L117.00,398.18 L117.50,398.10 L118.00,398.02 L118.50,397.93 L119.00,397.84 L119.50,397.75 L120.00,397.65 L120.50,397.55 L121.00,397.45 L121.50,397.35 L122.00,397.24 L122.50,397.13 L123.00,397.01 L123.50,396.89 L124.00,396.77 L124.50,396.65 L125.00,396.53 L125.50,396.40 L126.00,396.28 L126.50,396.15 L127.00,396.02 L127.50,395.89 L128.00,395.76 L128.50,395.63 L129.00,395.50 L129.50,395.37 L130.00,395.24 L130.50,395.12 L131.00,394.99 L131.50,394.87 L132.00,394.75 L132.50,394.63 L133.00,394.52 L133.50,394.41 L134.00,394.30 L134.50,394.20 L135.00,394.11 L135.50,394.01 L136.00,393.93 L136.50,393.85 L137.00,393.77 L137.50,393.70 L138.00,393.64 L138.50,393.58 L139.00,393.54 L139.50,393.49 L140.00,393.46 L140.50,393.43 L141.00,393.42 L141.50,393.40 L142.00,393.40 L142.50,393.40 L143.00,393.42 L143.50,393.43 L144.00,393.46 L144.50,393.49 L145.00,393.54 L145.50,393.58 L146.00,393.64 L146.50,393.70 L147.00,393.77 L147.50,393.85 L148.00,393.93 L148.50,394.01 L149.00,394.11 L149.50,394.20 L150.00,394.30 L150.50,394.41 L151.00,394.52 L151.50,394.63 L152.00,394.75 L152.50,394.87 L153.00,394.99 L153.50,395.12 L154.00,395.24 L154.50,395.37 L155.00,395.50 L155.50,395.63 L156.00,395.76 L156.50,395.89 L157.00,396.02 L157.50,396.15 L158.00,396.28 L158.50,396.40 L159.00,396.53 L159.50,396.65 L160.00,396.77 L160.50,396.89 L161.00,397.01 L161.50,397.13 L162.00,397.24 L162.50,397.35 L163.00,397.45 L163.50,397.55 L164.00,397.65 L164.50,397.75 L165.00,397.84 L165.50,397.93 L166.00,398.02 L166.50,398.10 L167.00,398.18 L167.50,398.26 L168.00,398.33 L168.50,398.40 L169.00,398.47 L169.50,398.53 L170.00,398.59 L170.50,398.64 L171.00,398.70 L171.50,398.75 L172.00,398.80 L172.50,398.84 L173.00,398.88 L173.50,398.92 L174.00,398.96 L174.50,398.99 L175.00,399.03 L175.50,399.06 L176.00,399.09 L176.50,399.11 L177.00,399.14 L177.50,399.16 L178.00,399.18 L178.50,399.20 L179.00,399.22 L179.50,399.23 L180.00,399.25 L180.50,399.26 L181.00,399.28 L181.50,399.29 L182.00,399.30 L182.50,399.31 L183.00,399.32 L183.50,399.33 L184.00,399.33 L184.50,399.34 L185.00,399.35 L185.50,399.35 L186.00,399.36 L186.50,399.36 L187.00,399.37 L187.50,399.37 L188.00,399.37 L188.50,399.38 L189.00,399.38 L189.50,399.38 L190.00,399.38 L190.50,399.39 L191.00,399.39 L191.50,399.39 L192.00,399.39 L192.50,399.39 L193.00,399.39 L193.50,399.39 L194.00,399.39 L194.50,399.39 L195.00,399.40 L195.50,399.40 L196.00,399.40 L196.50,399.40 L197.00,399.40 L197.50,399.40 L198.00,399.40 L198.50,399.40 L199.00,399.40 L199.50,399.40 L200.00,399.40" fill="none" stroke="#c8a8a8" stroke-width="0.7" stroke-linecap="round" stroke-linejoin="round"/>
<path d="M92.60,399.32 L92.85,399.32 L93.10,399.33 L93.35,399.33 L93.60,399.33 L93.85,399.33 L94.10,399.34 L94.35,399.34 L94.60,399.34 L94.85,399.34 L95.10,399.35 L95.35,399.35 L95.60,399.35 L95.85,399.35 L96.10,399.36 L96.35,399.36 L96.60,399.36 L96.85,399.36 L97.10,399.36 L97.35,399.37 L97.60,399.37 L97.85,399.37 L98.10,399.37 L98.35,399.37 L98.60,399.38 L98.85,399.38 L99.10,399.38 L99.35,399.38 L99.60,399.38 L99.85,399.38 L100.10,399.39 L100.35,399.39 L100.60,399.39 L100.85,399.39 L101.10,399.39 L101.35,399.39 L101.60,399.39 L101.85,399.39 L102.10,399.39 L102.35,399.39 L102.60,399.39 L102.85,399.39 L103.10,399.39 L103.35,399.39 L103.60,399.39 L103.85,399.39 L104.10,399.39 L104.35,399.39 L104.60,399.39 L104.85,399.39 L105.10,399.39 L105.35,399.39 L105.60,399.39 L105.85,399.39 L106.10,399.38 L106.35,399.38 L106.60,399.38 L106.85,399.38 L107.10,399.37 L107.35,399.37 L107.60,399.37 L107.85,399.36 L108.10,399.36 L108.35,399.35 L108.60,399.35 L108.85,399.34 L109.10,399.34 L109.35,399.33 L109.60,399.33 L109.85,399.32 L110.10,399.31 L110.35,399.31 L110.60,399.30 L110.85,399.29 L111.10,399.28 L111.35,399.27 L111.60,399.27 L111.85,399.26 L112.10,399.25 L112.35,399.24 L112.60,399.22 L112.85,399.21 L113.10,399.20 L113.35,399.19 L113.60,399.18 L113.85,399.16 L114.10,399.15 L114.35,399.13 L114.60,399.12 L114.85,399.10 L115.10,399.09 L115.35,399.07 L115.60,399.05 L115.85,399.03 L116.10,399.01 L116.35,399.00 L116.60,398.98 L116.85,398.95 L117.10,398.93 L117.35,398.91 L117.60,398.89 L117.85,398.87 L118.10,398.84 L118.35,398.82 L118.60,398.79 L118.85,398.77 L119.10,398.74 L119.35,398.71 L119.60,398.68 L119.85,398.66 L120.10,398.63 L120.35,398.60 L120.60,398.57 L120.85,398.53 L121.10,398.50 L121.35,398.47 L121.60,398.44 L121.85,398.40 L122.10,398.37 L122.35,398.33 L122.60,398.30 L122.85,398.26 L123.10,398.22 L123.35,398.19 L123.60,398.15 L123.85,398.11 L124.10,398.07 L124.35,398.03 L124.60,397.99 L124.85,397.95 L125.10,397.90 L125.35,397.86 L125.60,397.82 L125.85,397.78 L126.10,397.73 L126.35,397.69 L126.60,397.65 L126.85,397.60 L127.10,397.56 L127.35,397.51 L127.60,397.47 L127.85,397.42 L128.10,397.38 L128.35,397.33 L128.60,397.28 L128.85,397.24 L129.10,397.19 L129.35,397.14 L129.60,397.10 L129.85,397.05 L130.10,397.00 L130.35,396.95 L130.60,396.90 L130.85,396.85 L131.10,396.80 L131.35,396.75 L131.60,396.69 L131.85,396.63 L132.10,396.56 L132.35,396.50 L132.60,396.42 L132.85,396.34 L133.10,396.25 L133.35,396.16 L133.60,396.05 L133.85,395.94 L134.10,395.82 L134.35,395.69 L134.60,395.55 L134.85,395.41 L135.10,395.27 L135.35,395.12 L135.60,394.97 L135.85,394.83 L136.10,394.70 L136.35,394.58 L136.60,394.47 L136.85,394.38 L137.10,394.30 L137.35,394.25 L137.60,394.22 L137.85,394.21 L138.10,394.22 L138.35,394.25 L138.60,394.30 L138.85,394.36 L139.10,394.43 L139.35,394.51 L139.60,394.60 L139.85,394.69 L140.10,394.78 L140.35,394.86 L140.60,394.94 L140.85,395.01 L141.10,395.08 L141.35,395.13 L141.60,395.18 L141.85,395.22 L142.10,395.25 L142.35,395.28 L142.60,395.29 L142.85,395.31 L143.10,395.31 L143.35,395.31 L143.60,395.31 L143.85,395.31 L144.10,395.30 L144.35,395.29 L144.60,395.28 L144.85,395.26 L145.10,395.24 L145.35,395.22 L145.60,395.20 L145.85,395.17 L146.10,395.14 L146.35,395.10 L146.60,395.05 L146.85,394.99 L147.10,394.93 L147.35,394.86 L147.60,394.77 L147.85,394.67 L148.10,394.56 L148.35,394.44 L148.60,394.30 L148.85,394.16 L149.10,394.00 L149.35,393.84 L149.60,393.67 L149.85,393.50 L150.10,393.33 L150.35,393.17 L150.60,393.02 L150.85,392.88 L151.10,392.76 L151.35,392.66 L151.60,392.59 L151.85,392.54 L152.10,392.51 L152.35,392.51 L152.60,392.53 L152.85,392.57 L153.10,392.62 L153.35,392.69 L153.60,392.77 L153.85,392.85 L154.10,392.94 L154.35,393.02 L154.60,393.10 L154.85,393.17 L155.10,393.22 L155.35,393.27 L155.60,393.31 L155.85,393.34 L156.10,393.35 L156.35,393.35 L156.60,393.34 L156.85,393.32 L157.10,393.30 L157.35,393.26 L157.60,393.22 L157.85,393.17 L158.10,393.12 L158.35,393.06 L158.60,393.00 L158.85,392.93 L159.10,392.86 L159.35,392.79 L159.60,392.71 L159.85,392.63 L160.10,392.54 L160.35,392.45 L160.60,392.35 L160.85,392.24 L161.10,392.13 L161.35,392.01 L161.60,391.87 L161.85,391.73 L162.10,391.57 L162.35,391.39 L162.60,391.20 L162.85,390.99 L163.10,390.76 L163.35,390.50 L163.60,390.22 L163.85,389.90 L164.10,389.55 L164.35,389.15 L164.60,388.71 L164.85,388.22 L165.10,387.67 L165.35,387.05 L165.60,386.35 L165.85,385.55 L166.10,384.66 L166.35,383.64 L166.60,382.48 L166.85,381.15 L167.10,379.64 L167.35,377.90 L167.60,375.90 L167.85,373.60 L168.10,370.94 L168.35,367.87 L168.60,364.33 L168.85,360.24 L169.10,355.54 L169.35,350.19 L169.60,344.18 L169.85,337.55 L170.10,330.48 L170.35,323.27 L170.60,316.41 L170.85,310.56 L171.10,306.45 L171.35,304.67 L171.60,305.52 L171.85,308.88 L172.10,314.23 L172.35,320.88 L172.60,328.14 L172.85,335.43 L173.10,342.38 L173.35,348.76 L173.60,354.49 L173.85,359.56 L174.10,363.99 L174.35,367.86 L174.60,371.23 L174.85,374.15 L175.10,376.70 L175.35,378.92 L175.60,380.87 L175.85,382.57 L176.10,384.08 L176.35,385.40 L176.60,386.58 L176.85,387.62 L177.10,388.55 L177.35,389.39 L177.60,390.13 L177.85,390.80 L178.10,391.41 L178.35,391.96 L178.60,392.45 L178.85,392.90 L179.10,393.30 L179.35,393.67 L179.60,394.01 L179.85,394.32 L180.10,394.59 L180.35,394.85 L180.60,395.08 L180.85,395.29 L181.10,395.48 L181.35,395.65 L181.60,395.81 L181.85,395.95 L182.10,396.07 L182.35,396.18 L182.60,396.28 L182.85,396.36 L183.10,396.43 L183.35,396.48 L183.60,396.53 L183.85,396.56 L184.10,396.57 L184.35,396.58 L184.60,396.57 L184.85,396.54 L185.10,396.49 L185.35,396.43 L185.60,396.35 L185.85,396.25 L186.10,396.13 L186.35,395.97 L186.60,395.79 L186.85,395.58 L187.10,395.32 L187.35,395.03 L187.60,394.67 L187.85,394.26 L188.10,393.78 L188.35,393.22 L188.60,392.56 L188.85,391.79 L189.10,390.88 L189.35,389.83 L189.60,388.60 L189.85,387.20 L190.10,385.60 L190.35,383.84 L190.60,381.95 L190.85,380.05 L191.10,378.28 L191.35,376.85 L191.60,375.96 L191.85,375.77 L192.10,376.31 L192.35,377.49 L192.60,379.14 L192.85,381.04 L193.10,383.01 L193.35,384.91 L193.60,386.66 L193.85,388.24 L194.10,389.63 L194.35,390.85 L194.60,391.90 L194.85,392.81 L195.10,393.60 L195.35,394.28 L195.60,394.88 L195.85,395.40 L196.10,395.85 L196.35,396.25 L196.60,396.60 L196.85,396.91 L197.10,397.19 L197.35,397.44 L197.60,397.66 L197.85,397.86 L198.10,398.05 L198.35,398.21 L198.60,398.36 L198.85,398.50 L199.10,398.62 L199.35,398.74 L199.60,398.84 L199.85,398.94 L200.10,399.03 L200.35,399.11 L200.60,399.19 L200.85,399.27 L201.10,399.33 L201.35,399.40 L201.60,399.46 L201.85,399.51 L202.10,399.57 L202.35,399.62 L202.60,399.66 L202.85,399.71 L203.10,399.75 L203.35,399.79 L203.60,399.83 L203.85,399.86 L204.10,399.90 L204.35,399.93 L204.60,399.96 L204.85,399.99 L205.10,400.02 L205.35,400.05 L205.60,400.08 L205.85,400.10 L206.10,400.13 L206.35,400.15 L206.60,400.17 L206.85,400.20 L207.10,400.22 L207.35,400.24 L207.60,400.26 L207.85,400.28 L208.10,400.29 L208.35,400.31 L208.60,400.33 L208.85,400.35 L209.10,400.36 L209.35,400.38 L209.60,400.40 L209.85,400.41 L210.10,400.43 L210.35,400.44 L210.60,400.45 L210.85,400.47 L211.10,400.48 L211.35,400.49 L211.60,400.51 L211.85,400.52 L212.10,400.53 L212.35,400.54 L212.60,400.56 L212.85,400.57 L213.10,400.58 L213.35,400.59 L213.60,400.60 L213.85,400.61 L214.10,400.62 L214.35,400.63 L214.60,400.64 L214.85,400.65 L215.10,400.66 L215.35,400.67 L215.60,400.68 L215.85,400.69 L216.10,400.70 L216.35,400.71 L216.60,400.72 L216.85,400.72 L217.10,400.73 L217.35,400.74 L217.60,400.75 L217.85,400.76 L218.10,400.77 L218.35,400.77 L218.60,400.78 L218.85,400.79 L219.10,400.80 L219.35,400.80 L219.60,400.81 L219.85,400.82 L220.10,400.83 L220.35,400.83 L220.60,400.84 L220.85,400.85 L221.10,400.86 L221.35,400.86 L221.60,400.87 L221.85,400.88 L222.10,400.88 L222.35,400.89 L222.60,400.90 L222.85,400.90 L223.10,400.91 L223.35,400.91 L223.60,400.92 L223.85,400.93 L224.10,400.93 L224.35,400.94 L224.60,400.95 L224.85,400.95 L225.10,400.96 L225.35,400.96 L225.60,400.97 L225.85,400.98 L226.10,400.98 L226.35,400.99 L226.60,400.99 L226.85,401.00 L227.10,401.00 L227.35,401.01 L227.60,401.02 L227.85,401.02 L228.10,401.03 L228.35,401.03 L228.60,401.04 L228.85,401.04 L229.10,401.05 L229.35,401.05 L229.60,401.06 L229.85,401.06 L230.10,401.07 L230.35,401.08 L230.60,401.08 L230.85,401.09 L231.10,401.09 L231.35,401.10 L231.60,401.10 L231.85,401.11 L232.10,401.11 L232.35,401.12 L232.60,401.12 L232.85,401.13 L233.10,401.13 L233.35,401.14 L233.60,401.14 L233.85,401.15 L234.10,401.15 L234.35,401.16 L234.60,401.16 L234.85,401.17 L235.10,401.17 L235.35,401.17 L235.60,401.18 L235.85,401.18 L236.10,401.19 L236.35,401.19 L236.60,401.20 L236.85,401.20 L237.10,401.21 L237.35,401.21 L237.60,401.22 L237.85,401.22 L238.10,401.23 L238.35,401.23 L238.60,401.24 L238.85,401.24 L239.10,401.24 L239.35,401.25 L239.60,401.25 L239.85,401.26 L240.10,401.26 L240.35,401.27 L240.60,401.27 L240.85,401.28 L241.10,401.28 L241.35,401.28 L241.60,401.29 L241.85,401.29 L242.10,401.30 L242.35,401.30 L242.60,401.31 L242.85,401.31 L243.10,401.31 L243.35,401.32 L243.60,401.32 L243.85,401.33 L244.10,401.33 L244.35,401.34 L244.60,401.34 L244.85,401.34 L245.10,401.35 L245.35,401.35 L245.60,401.36 L245.85,401.36 L246.10,401.37 L246.35,401.37 L246.60,401.37 L246.85,401.38 L247.10,401.38 L247.35,401.39 L247.60,401.39" fill="none" stroke="#1818a0" stroke-width="1.2" stroke-linecap="round" stroke-linejoin="round"/>
<path d="M92.6,399.3 L93.1,399.3 L93.6,399.3 L94.1,399.3 L94.6,399.3 L95.1,399.3 L95.6,399.4 L96.1,399.4 L96.6,399.4 L97.1,399.4 L97.6,399.4 L98.1,399.4 L98.6,399.4 L99.1,399.4 L99.6,399.4 L100.1,399.4 L100.6,399.4 L101.1,399.4 L101.6,399.4 L102.1,399.4 L102.6,399.4 L103.1,399.4 L103.6,399.4 L104.1,399.4 L104.6,399.4 L105.1,399.4 L105.6,399.4 L106.1,399.4 L106.6,399.4 L107.1,399.4 L107.6,399.4 L108.1,399.4 L108.6,399.3 L109.1,399.3 L109.6,399.3 L110.1,399.3 L110.6,399.3 L111.1,399.3 L111.6,399.3 L112.1,399.2 L112.6,399.2 L113.1,399.2 L113.6,399.2 L114.1,399.1 L114.6,399.1 L115.1,399.1 L115.6,399.1 L116.1,399.0 L116.6,399.0 L117.1,398.9 L117.6,398.9 L118.1,398.8 L118.6,398.8 L119.1,398.7 L119.6,398.7 L120.1,398.6 L120.6,398.6 L121.1,398.5 L121.6,398.4 L122.1,398.4 L122.6,398.3 L123.1,398.2 L123.6,398.1 L124.1,398.1 L124.6,398.0 L125.1,397.9 L125.6,397.8 L126.1,397.7 L126.6,397.6 L127.1,397.6 L127.6,397.5 L128.1,397.4 L128.6,397.3 L129.1,397.2 L129.6,397.1 L130.1,397.0 L130.6,396.9 L131.1,396.8 L131.6,396.7 L132.1,396.6 L132.6,396.4 L133.1,396.3 L133.6,396.1 L134.0,395.9 L134.5,395.6 L134.9,395.4 L135.4,395.1 L135.8,394.9 L136.3,394.6 L136.7,394.4 L137.2,394.3 L137.7,394.2 L138.2,394.2 L138.7,394.3 L139.2,394.5 L139.7,394.6 L140.2,394.8 L140.6,395.0 L141.1,395.1 L141.6,395.2 L142.1,395.3 L142.6,395.3 L143.1,395.3 L143.6,395.3 L144.1,395.3 L144.6,395.3 L145.1,395.2 L145.6,395.2 L146.1,395.1 L146.6,395.0 L147.1,394.9 L147.6,394.8 L148.1,394.6 L148.6,394.3 L149.0,394.1 L149.4,393.8 L149.8,393.5 L150.3,393.2 L150.7,393.0 L151.2,392.7 L151.6,392.6 L152.1,392.5 L152.6,392.5 L153.1,392.6 L153.6,392.8 L154.1,392.9 L154.6,393.1 L155.1,393.2 L155.6,393.3 L156.1,393.3 L156.6,393.3 L157.1,393.3 L157.6,393.2 L158.1,393.1 L158.6,393.0 L159.1,392.9 L159.6,392.7 L160.0,392.6 L160.5,392.4 L161.0,392.2 L161.4,392.0 L161.9,391.7 L162.3,391.4 L162.7,391.1 L163.1,390.8 L163.4,390.4 M179.8,394.2 L180.1,394.6 L180.5,395.0 L180.9,395.3 L181.3,395.6 L181.7,395.9 L182.2,396.1 L182.7,396.3 L183.1,396.4 L183.6,396.5 L184.1,396.6 L184.6,396.6 L185.1,396.5 L185.6,396.3 L186.1,396.1 L186.5,395.9 L186.9,395.5 M196.8,396.9 L197.1,397.2 L197.5,397.6 L197.9,397.9 L198.3,398.2 L198.8,398.5 L199.2,398.7 L199.7,398.9 L200.2,399.1 L200.7,399.2 L201.2,399.4 L201.7,399.5 L202.2,399.6 L202.7,399.7 L203.2,399.8 L203.7,399.8 L204.2,399.9 L204.7,400.0 L205.2,400.0 L205.7,400.1 L206.2,400.1 L206.7,400.2 L207.2,400.2 L207.7,400.3 L208.2,400.3 L208.7,400.3 L209.2,400.4 L209.7,400.4 L210.2,400.4 L210.7,400.5 L211.2,400.5 L211.7,400.5 L212.2,400.5 L212.7,400.6 L213.2,400.6 L213.7,400.6 L214.2,400.6 L214.7,400.6 L215.2,400.7 L215.7,400.7 L216.2,400.7 L216.7,400.7 L217.2,400.7 L217.7,400.8 L218.2,400.8 L218.7,400.8 L219.2,400.8 L219.7,400.8 L220.2,400.8 L220.7,400.8 L221.2,400.9 L221.7,400.9 L222.2,400.9 L222.7,400.9 L223.2,400.9 L223.7,400.9 L224.2,400.9 L224.7,400.9 L225.2,401.0 L225.7,401.0 L226.2,401.0 L226.7,401.0 L227.2,401.0 L227.7,401.0 L228.2,401.0 L228.7,401.0 L229.2,401.1 L229.7,401.1 L230.2,401.1 L230.7,401.1 L231.2,401.1 L231.7,401.1 L232.2,401.1 L232.7,401.1 L233.2,401.1 L233.7,401.1 L234.2,401.2 L234.7,401.2 L235.2,401.2 L235.7,401.2 L236.2,401.2 L236.7,401.2 L237.2,401.2 L237.7,401.2 L238.2,401.2 L238.7,401.2 L239.2,401.2 L239.7,401.3 L240.2,401.3 L240.7,401.3 L241.2,401.3 L241.7,401.3 L242.2,401.3 L242.7,401.3 L243.2,401.3 L243.7,401.3 L244.2,401.3 L244.7,401.3 L245.2,401.3 L245.7,401.4 L246.2,401.4 L246.7,401.4 L247.2,401.4" fill="none" stroke="#1818a0" stroke-width="3.2" stroke-linecap="round" stroke-linejoin="round"/>
<g fill="none" stroke="#1818a0" stroke-width="0.95"><circle cx="92.6" cy="398.4" r="1.25"/><circle cx="93.4" cy="398.4" r="1.25"/><circle cx="94.3" cy="399.9" r="1.25"/><circle cx="95.1" cy="397.5" r="1.25"/><circle cx="96.0" cy="399.2" r="1.25"/><circle cx="96.8" cy="397.6" r="1.25"/><circle cx="97.6" cy="400.2" r="1.25"/><circle cx="98.5" cy="399.5" r="1.25"/><circle cx="99.3" cy="400.5" r="1.25"/><circle cx="100.2" cy="399.0" r="1.25"/><circle cx="101.0" cy="399.7" r="1.25"/><circle cx="101.8" cy="399.2" r="1.25"/><circle cx="102.7" cy="398.8" r="1.25"/><circle cx="103.5" cy="399.5" r="1.25"/><circle cx="104.4" cy="398.4" r="1.25"/><circle cx="105.2" cy="399.1" r="1.25"/><circle cx="106.0" cy="399.9" r="1.25"/><circle cx="106.9" cy="399.4" r="1.25"/><circle cx="107.7" cy="399.0" r="1.25"/><circle cx="108.6" cy="401.1" r="1.25"/><circle cx="109.4" cy="399.4" r="1.25"/><circle cx="110.2" cy="398.8" r="1.25"/><circle cx="111.1" cy="399.4" r="1.25"/><circle cx="111.9" cy="398.8" r="1.25"/><circle cx="112.8" cy="398.9" r="1.25"/><circle cx="113.6" cy="398.9" r="1.25"/><circle cx="114.4" cy="400.7" r="1.25"/><circle cx="115.3" cy="399.1" r="1.25"/><circle cx="116.1" cy="399.2" r="1.25"/><circle cx="117.0" cy="399.5" r="1.25"/><circle cx="117.8" cy="400.5" r="1.25"/><circle cx="118.6" cy="398.6" r="1.25"/><circle cx="119.5" cy="398.2" r="1.25"/><circle cx="120.3" cy="400.6" r="1.25"/><circle cx="121.2" cy="397.3" r="1.25"/><circle cx="122.0" cy="398.1" r="1.25"/><circle cx="122.8" cy="398.8" r="1.25"/><circle cx="123.7" cy="399.9" r="1.25"/><circle cx="124.5" cy="397.3" r="1.25"/><circle cx="125.4" cy="395.9" r="1.25"/><circle cx="126.2" cy="398.2" r="1.25"/><circle cx="127.0" cy="397.2" r="1.25"/><circle cx="127.9" cy="397.1" r="1.25"/><circle cx="128.7" cy="397.6" r="1.25"/><circle cx="129.6" cy="397.3" r="1.25"/><circle cx="130.4" cy="397.2" r="1.25"/><circle cx="131.2" cy="396.4" r="1.25"/><circle cx="132.1" cy="397.6" r="1.25"/><circle cx="132.8" cy="397.5" r="1.25"/><circle cx="133.6" cy="396.1" r="1.25"/><circle cx="134.4" cy="395.4" r="1.25"/><circle cx="135.1" cy="395.8" r="1.25"/><circle cx="135.8" cy="395.2" r="1.25"/><circle cx="136.6" cy="393.7" r="1.25"/><circle cx="137.3" cy="393.9" r="1.25"/><circle cx="138.2" cy="395.1" r="1.25"/><circle cx="139.0" cy="394.3" r="1.25"/><circle cx="139.8" cy="394.4" r="1.25"/><circle cx="140.5" cy="395.1" r="1.25"/><circle cx="141.4" cy="395.1" r="1.25"/><circle cx="142.2" cy="395.3" r="1.25"/><circle cx="143.1" cy="393.8" r="1.25"/><circle cx="143.9" cy="396.7" r="1.25"/><circle cx="144.7" cy="395.4" r="1.25"/><circle cx="145.6" cy="394.5" r="1.25"/><circle cx="146.4" cy="395.9" r="1.25"/><circle cx="147.3" cy="395.1" r="1.25"/><circle cx="148.0" cy="394.6" r="1.25"/><circle cx="148.8" cy="394.9" r="1.25"/><circle cx="149.5" cy="395.2" r="1.25"/><circle cx="150.2" cy="393.6" r="1.25"/><circle cx="150.9" cy="394.0" r="1.25"/><circle cx="151.7" cy="394.3" r="1.25"/><circle cx="152.5" cy="391.7" r="1.25"/><circle cx="153.4" cy="392.3" r="1.25"/><circle cx="154.1" cy="393.5" r="1.25"/><circle cx="154.9" cy="391.9" r="1.25"/><circle cx="155.7" cy="393.1" r="1.25"/><circle cx="156.6" cy="394.4" r="1.25"/><circle cx="157.4" cy="394.1" r="1.25"/><circle cx="158.3" cy="393.5" r="1.25"/><circle cx="159.1" cy="391.4" r="1.25"/><circle cx="159.9" cy="394.4" r="1.25"/><circle cx="160.6" cy="392.7" r="1.25"/><circle cx="161.4" cy="392.5" r="1.25"/><circle cx="162.1" cy="391.9" r="1.25"/><circle cx="162.8" cy="390.0" r="1.25"/><circle cx="163.4" cy="389.6" r="1.25"/><circle cx="164.0" cy="389.1" r="1.25"/><circle cx="164.5" cy="389.7" r="1.25"/><circle cx="164.9" cy="387.8" r="1.25"/><circle cx="165.3" cy="387.2" r="1.25"/><circle cx="165.5" cy="386.5" r="1.25"/><circle cx="165.8" cy="385.8" r="1.25"/><circle cx="166.1" cy="384.8" r="1.25"/><circle cx="166.3" cy="383.9" r="1.25"/><circle cx="166.5" cy="382.6" r="1.25"/><circle cx="166.7" cy="381.2" r="1.25"/><circle cx="166.9" cy="380.7" r="1.25"/><circle cx="167.1" cy="379.8" r="1.25"/><circle cx="167.2" cy="379.1" r="1.25"/><circle cx="167.4" cy="377.8" r="1.25"/><circle cx="167.5" cy="376.6" r="1.25"/><circle cx="167.6" cy="375.6" r="1.25"/><circle cx="167.8" cy="374.0" r="1.25"/><circle cx="167.9" cy="372.7" r="1.25"/><circle cx="168.1" cy="371.2" r="1.25"/><circle cx="168.1" cy="370.7" r="1.25"/><circle cx="168.2" cy="370.2" r="1.25"/><circle cx="168.3" cy="369.1" r="1.25"/><circle cx="168.3" cy="368.2" r="1.25"/><circle cx="168.4" cy="367.1" r="1.25"/><circle cx="168.5" cy="366.1" r="1.25"/><circle cx="168.5" cy="365.0" r="1.25"/><circle cx="168.6" cy="364.0" r="1.25"/><circle cx="168.7" cy="362.4" r="1.25"/><circle cx="168.8" cy="361.5" r="1.25"/><circle cx="168.8" cy="360.3" r="1.25"/><circle cx="168.9" cy="359.5" r="1.25"/><circle cx="169.0" cy="358.2" r="1.25"/><circle cx="169.0" cy="357.0" r="1.25"/><circle cx="169.1" cy="355.6" r="1.25"/><circle cx="169.2" cy="353.8" r="1.25"/><circle cx="169.2" cy="352.6" r="1.25"/><circle cx="169.3" cy="351.3" r="1.25"/><circle cx="169.4" cy="349.3" r="1.25"/><circle cx="169.5" cy="347.8" r="1.25"/><circle cx="169.5" cy="345.9" r="1.25"/><circle cx="169.6" cy="343.9" r="1.25"/><circle cx="169.7" cy="342.4" r="1.25"/><circle cx="169.7" cy="340.4" r="1.25"/><circle cx="169.8" cy="338.7" r="1.25"/><circle cx="169.9" cy="336.6" r="1.25"/><circle cx="169.9" cy="334.8" r="1.25"/><circle cx="170.0" cy="332.3" r="1.25"/><circle cx="170.1" cy="331.2" r="1.25"/><circle cx="170.2" cy="329.0" r="1.25"/><circle cx="170.2" cy="326.6" r="1.25"/><circle cx="170.3" cy="324.5" r="1.25"/><circle cx="170.4" cy="322.7" r="1.25"/><circle cx="170.4" cy="320.9" r="1.25"/><circle cx="170.5" cy="318.9" r="1.25"/><circle cx="170.6" cy="317.0" r="1.25"/><circle cx="170.6" cy="314.7" r="1.25"/><circle cx="170.7" cy="313.2" r="1.25"/><circle cx="170.8" cy="312.1" r="1.25"/><circle cx="170.9" cy="310.4" r="1.25"/><circle cx="170.9" cy="308.7" r="1.25"/><circle cx="171.0" cy="307.7" r="1.25"/><circle cx="171.1" cy="306.5" r="1.25"/><circle cx="171.1" cy="305.8" r="1.25"/><circle cx="171.3" cy="305.1" r="1.25"/><circle cx="171.6" cy="305.8" r="1.25"/><circle cx="171.8" cy="307.8" r="1.25"/><circle cx="171.8" cy="308.7" r="1.25"/><circle cx="171.9" cy="309.7" r="1.25"/><circle cx="172.0" cy="311.3" r="1.25"/><circle cx="172.0" cy="313.5" r="1.25"/><circle cx="172.1" cy="314.6" r="1.25"/><circle cx="172.2" cy="316.3" r="1.25"/><circle cx="172.3" cy="318.6" r="1.25"/><circle cx="172.3" cy="320.3" r="1.25"/><circle cx="172.4" cy="322.3" r="1.25"/><circle cx="172.5" cy="324.6" r="1.25"/><circle cx="172.5" cy="326.0" r="1.25"/><circle cx="172.6" cy="328.5" r="1.25"/><circle cx="172.7" cy="330.3" r="1.25"/><circle cx="172.7" cy="332.3" r="1.25"/><circle cx="172.8" cy="334.4" r="1.25"/><circle cx="172.9" cy="336.8" r="1.25"/><circle cx="173.0" cy="338.5" r="1.25"/><circle cx="173.0" cy="340.1" r="1.25"/><circle cx="173.1" cy="342.2" r="1.25"/><circle cx="173.2" cy="344.5" r="1.25"/><circle cx="173.2" cy="346.2" r="1.25"/><circle cx="173.3" cy="347.6" r="1.25"/><circle cx="173.4" cy="350.0" r="1.25"/><circle cx="173.4" cy="351.1" r="1.25"/><circle cx="173.5" cy="352.5" r="1.25"/><circle cx="173.6" cy="354.2" r="1.25"/><circle cx="173.7" cy="356.0" r="1.25"/><circle cx="173.7" cy="357.5" r="1.25"/><circle cx="173.8" cy="358.8" r="1.25"/><circle cx="173.9" cy="359.8" r="1.25"/><circle cx="173.9" cy="361.1" r="1.25"/><circle cx="174.0" cy="362.2" r="1.25"/><circle cx="174.1" cy="363.6" r="1.25"/><circle cx="174.1" cy="364.7" r="1.25"/><circle cx="174.2" cy="366.0" r="1.25"/><circle cx="174.3" cy="366.7" r="1.25"/><circle cx="174.4" cy="367.9" r="1.25"/><circle cx="174.4" cy="368.8" r="1.25"/><circle cx="174.5" cy="369.7" r="1.25"/><circle cx="174.6" cy="370.6" r="1.25"/><circle cx="174.6" cy="371.5" r="1.25"/><circle cx="174.7" cy="372.3" r="1.25"/><circle cx="174.8" cy="373.5" r="1.25"/><circle cx="174.9" cy="374.9" r="1.25"/><circle cx="175.1" cy="376.0" r="1.25"/><circle cx="175.2" cy="377.7" r="1.25"/><circle cx="175.3" cy="378.9" r="1.25"/><circle cx="175.5" cy="380.3" r="1.25"/><circle cx="175.6" cy="381.0" r="1.25"/><circle cx="175.8" cy="381.9" r="1.25"/><circle cx="175.9" cy="382.7" r="1.25"/><circle cx="176.0" cy="383.8" r="1.25"/><circle cx="176.2" cy="385.0" r="1.25"/><circle cx="176.5" cy="386.0" r="1.25"/><circle cx="176.7" cy="386.8" r="1.25"/><circle cx="176.9" cy="387.9" r="1.25"/><circle cx="177.1" cy="388.5" r="1.25"/><circle cx="177.4" cy="389.5" r="1.25"/><circle cx="177.6" cy="390.0" r="1.25"/><circle cx="178.0" cy="391.2" r="1.25"/><circle cx="178.3" cy="391.6" r="1.25"/><circle cx="178.8" cy="392.4" r="1.25"/><circle cx="179.2" cy="393.5" r="1.25"/><circle cx="179.7" cy="395.2" r="1.25"/><circle cx="180.2" cy="395.3" r="1.25"/><circle cx="180.9" cy="395.3" r="1.25"/><circle cx="181.6" cy="395.7" r="1.25"/><circle cx="182.3" cy="396.9" r="1.25"/><circle cx="183.1" cy="397.5" r="1.25"/><circle cx="183.9" cy="397.6" r="1.25"/><circle cx="184.8" cy="396.4" r="1.25"/><circle cx="185.6" cy="396.5" r="1.25"/><circle cx="186.4" cy="395.7" r="1.25"/><circle cx="187.0" cy="395.2" r="1.25"/><circle cx="187.6" cy="394.3" r="1.25"/><circle cx="188.0" cy="393.9" r="1.25"/><circle cx="188.4" cy="392.5" r="1.25"/><circle cx="188.6" cy="392.1" r="1.25"/><circle cx="188.9" cy="391.6" r="1.25"/><circle cx="189.1" cy="390.6" r="1.25"/><circle cx="189.3" cy="390.0" r="1.25"/><circle cx="189.5" cy="388.6" r="1.25"/><circle cx="189.8" cy="387.6" r="1.25"/><circle cx="189.9" cy="387.0" r="1.25"/><circle cx="190.0" cy="385.8" r="1.25"/><circle cx="190.2" cy="384.9" r="1.25"/><circle cx="190.3" cy="384.6" r="1.25"/><circle cx="190.5" cy="382.9" r="1.25"/><circle cx="190.6" cy="381.8" r="1.25"/><circle cx="190.7" cy="380.8" r="1.25"/><circle cx="190.9" cy="379.8" r="1.25"/><circle cx="191.0" cy="378.8" r="1.25"/><circle cx="191.2" cy="378.1" r="1.25"/><circle cx="191.3" cy="377.3" r="1.25"/><circle cx="191.5" cy="376.1" r="1.25"/><circle cx="192.2" cy="376.7" r="1.25"/><circle cx="192.4" cy="377.6" r="1.25"/><circle cx="192.6" cy="378.5" r="1.25"/><circle cx="192.7" cy="379.7" r="1.25"/><circle cx="192.8" cy="381.1" r="1.25"/><circle cx="193.0" cy="382.1" r="1.25"/><circle cx="193.1" cy="383.3" r="1.25"/><circle cx="193.3" cy="384.4" r="1.25"/><circle cx="193.4" cy="385.2" r="1.25"/><circle cx="193.5" cy="386.7" r="1.25"/><circle cx="193.7" cy="387.1" r="1.25"/><circle cx="193.8" cy="387.9" r="1.25"/><circle cx="194.0" cy="388.8" r="1.25"/><circle cx="194.2" cy="390.2" r="1.25"/><circle cx="194.4" cy="391.0" r="1.25"/><circle cx="194.6" cy="391.7" r="1.25"/><circle cx="194.8" cy="392.7" r="1.25"/><circle cx="195.1" cy="393.8" r="1.25"/><circle cx="195.4" cy="394.3" r="1.25"/><circle cx="195.7" cy="395.0" r="1.25"/><circle cx="196.1" cy="396.4" r="1.25"/><circle cx="196.6" cy="397.1" r="1.25"/><circle cx="197.2" cy="397.8" r="1.25"/><circle cx="197.8" cy="397.3" r="1.25"/><circle cx="198.5" cy="398.5" r="1.25"/><circle cx="199.3" cy="399.0" r="1.25"/><circle cx="200.0" cy="397.6" r="1.25"/><circle cx="200.8" cy="400.2" r="1.25"/><circle cx="201.7" cy="399.6" r="1.25"/><circle cx="202.5" cy="399.4" r="1.25"/><circle cx="203.3" cy="401.6" r="1.25"/><circle cx="204.2" cy="400.0" r="1.25"/><circle cx="205.0" cy="399.4" r="1.25"/><circle cx="205.9" cy="400.1" r="1.25"/><circle cx="206.7" cy="400.6" r="1.25"/><circle cx="207.5" cy="400.9" r="1.25"/><circle cx="208.4" cy="400.3" r="1.25"/><circle cx="209.2" cy="399.7" r="1.25"/><circle cx="210.1" cy="399.9" r="1.25"/><circle cx="210.9" cy="399.8" r="1.25"/><circle cx="211.7" cy="399.7" r="1.25"/><circle cx="212.6" cy="400.5" r="1.25"/><circle cx="213.4" cy="400.2" r="1.25"/><circle cx="214.3" cy="400.7" r="1.25"/><circle cx="215.1" cy="400.0" r="1.25"/><circle cx="215.9" cy="400.0" r="1.25"/><circle cx="216.8" cy="400.6" r="1.25"/><circle cx="217.6" cy="400.5" r="1.25"/><circle cx="218.5" cy="401.7" r="1.25"/><circle cx="219.3" cy="400.1" r="1.25"/><circle cx="220.1" cy="401.0" r="1.25"/><circle cx="221.0" cy="400.8" r="1.25"/><circle cx="221.8" cy="399.8" r="1.25"/><circle cx="222.7" cy="401.5" r="1.25"/><circle cx="223.5" cy="401.1" r="1.25"/><circle cx="224.3" cy="399.2" r="1.25"/><circle cx="225.2" cy="401.5" r="1.25"/><circle cx="226.0" cy="401.7" r="1.25"/><circle cx="226.9" cy="400.3" r="1.25"/><circle cx="227.7" cy="402.4" r="1.25"/><circle cx="228.5" cy="401.2" r="1.25"/><circle cx="229.4" cy="400.1" r="1.25"/><circle cx="230.2" cy="401.5" r="1.25"/><circle cx="231.1" cy="400.8" r="1.25"/><circle cx="231.9" cy="400.0" r="1.25"/><circle cx="232.7" cy="399.4" r="1.25"/><circle cx="233.6" cy="401.3" r="1.25"/><circle cx="234.4" cy="400.6" r="1.25"/><circle cx="235.3" cy="401.7" r="1.25"/><circle cx="236.1" cy="401.5" r="1.25"/><circle cx="236.9" cy="400.8" r="1.25"/><circle cx="237.8" cy="400.8" r="1.25"/><circle cx="238.6" cy="402.7" r="1.25"/><circle cx="239.5" cy="402.6" r="1.25"/><circle cx="240.3" cy="401.9" r="1.25"/><circle cx="241.1" cy="401.0" r="1.25"/><circle cx="242.0" cy="400.5" r="1.25"/><circle cx="242.8" cy="401.0" r="1.25"/><circle cx="243.7" cy="402.7" r="1.25"/><circle cx="244.5" cy="401.7" r="1.25"/><circle cx="245.3" cy="401.1" r="1.25"/><circle cx="246.2" cy="400.4" r="1.25"/><circle cx="247.0" cy="401.5" r="1.25"/></g>
<path d="M125.00,397.92 L125.25,397.88 L125.50,397.84 L125.75,397.79 L126.00,397.75 L126.25,397.71 L126.50,397.66 L126.75,397.62 L127.00,397.57 L127.25,397.53 L127.50,397.48 L127.75,397.44 L128.00,397.39 L128.25,397.35 L128.50,397.30 L128.75,397.26 L129.00,397.21 L129.25,397.16 L129.50,397.11 L129.75,397.07 L130.00,397.02 L130.25,396.97 L130.50,396.92 L130.75,396.87 L131.00,396.82 L131.25,396.77 L131.50,396.71 L131.75,396.65 L132.00,396.59 L132.25,396.52 L132.50,396.45 L132.75,396.37 L133.00,396.29 L133.25,396.20 L133.50,396.10 L133.75,395.99 L134.00,395.87 L134.25,395.74 L134.50,395.61 L134.75,395.47 L135.00,395.32 L135.25,395.18 L135.50,395.03 L135.75,394.89 L136.00,394.75 L136.25,394.62 L136.50,394.51 L136.75,394.41 L137.00,394.33 L137.25,394.27 L137.50,394.23 L137.75,394.21 L138.00,394.21 L138.25,394.23 L138.50,394.28 L138.75,394.33 L139.00,394.40 L139.25,394.48 L139.50,394.56 L139.75,394.65 L140.00,394.74 L140.25,394.83 L140.50,394.91 L140.75,394.98 L141.00,395.05 L141.25,395.11 L141.50,395.16 L141.75,395.21 L142.00,395.24 L142.25,395.27 L142.50,395.29 L142.75,395.30 L143.00,395.31 L143.25,395.31 L143.50,395.31 L143.75,395.31 L144.00,395.30 L144.25,395.29 L144.50,395.28 L144.75,395.27 L145.00,395.25 L145.25,395.23 L145.50,395.21 L145.75,395.18 L146.00,395.15 L146.25,395.11 L146.50,395.07 L146.75,395.02 L147.00,394.96 L147.25,394.89 L147.50,394.81 L147.75,394.71 L148.00,394.61 L148.25,394.49 L148.50,394.36 L148.75,394.22 L149.00,394.06 L149.25,393.90 L149.50,393.73 L149.75,393.57 L150.00,393.40 L150.25,393.23 L150.50,393.08 L150.75,392.93 L151.00,392.81 L151.25,392.70 L151.50,392.62 L151.75,392.55 L152.00,392.52 L152.25,392.51 L152.50,392.52 L152.75,392.55 L153.00,392.60 L153.25,392.66 L153.50,392.74 L153.75,392.82 L154.00,392.90 L154.25,392.99 L154.50,393.07 L154.75,393.14 L155.00,393.20 L155.25,393.26 L155.50,393.30 L155.75,393.33 L156.00,393.34 L156.25,393.35 L156.50,393.35 L156.75,393.33 L157.00,393.31 L157.25,393.28 L157.50,393.24 L157.75,393.19 L158.00,393.14 L158.25,393.08 L158.50,393.02 L158.75,392.96 L159.00,392.89 L159.25,392.82 L159.50,392.74 L159.75,392.66 L160.00,392.58 L160.25,392.49 L160.50,392.39 L160.75,392.29 L161.00,392.18 L161.25,392.06 L161.50,391.93 L161.75,391.79 L162.00,391.63 L162.25,391.46 L162.50,391.28 L162.75,391.08 L163.00,390.85 L163.25,390.61 L163.50,390.33 L163.75,390.03 L164.00,389.69 L164.25,389.32 L164.50,388.90 L164.75,388.43 L165.00,387.90 L165.25,387.30 L165.50,386.64 L165.75,385.88 L166.00,385.03 L166.25,384.06 L166.50,382.96 L166.75,381.70 L167.00,380.27 L167.25,378.62 L167.50,376.73 L167.75,374.56 L168.00,372.05 L168.25,369.15 L168.50,365.81 L168.75,361.94 L169.00,357.49 L169.25,352.41 L169.50,346.66 L169.75,340.27 L170.00,333.35 L170.25,326.14 L170.50,319.07 L170.75,312.73 L171.00,307.84 L171.25,305.07 L171.50,304.87 L171.75,307.26 L172.00,311.89 L172.25,318.11 L172.50,325.21 L172.75,332.54 L173.00,339.66 L173.25,346.28 L173.50,352.28 L173.75,357.61 L174.00,362.29 L174.25,366.38 L174.50,369.94 L174.75,373.03 L175.00,375.72 L175.25,378.07 L175.50,380.12 L175.75,381.92 L176.00,383.50 L176.25,384.89 L176.50,386.13 L176.75,387.22 L177.00,388.19 L177.25,389.06 L177.50,389.84 L177.75,390.54 L178.00,391.18 L178.25,391.74 L178.50,392.26 L178.75,392.72 L179.00,393.15 L179.25,393.53 L179.50,393.88 L179.75,394.20 L180.00,394.49 L180.25,394.75 L180.50,394.99 L180.75,395.21 L181.00,395.40 L181.25,395.58 L181.50,395.75 L181.75,395.89 L182.00,396.02 L182.25,396.14 L182.50,396.24 L182.75,396.33 L183.00,396.40 L183.25,396.46 L183.50,396.51 L183.75,396.55 L184.00,396.57 L184.25,396.58 L184.50,396.57 L184.75,396.55 L185.00,396.51 L185.25,396.46 L185.50,396.39 L185.75,396.29 L186.00,396.18 L186.25,396.04 L186.50,395.87 L186.75,395.67 L187.00,395.43 L187.25,395.15 L187.50,394.82 L187.75,394.44 L188.00,393.98 L188.25,393.46 L188.50,392.84 L188.75,392.11 L189.00,391.26 L189.25,390.27 L189.50,389.11 L189.75,387.78 L190.00,386.26 L190.25,384.56 L190.50,382.72 L190.75,380.81 L191.00,378.96 L191.25,377.37 L191.50,376.24 L191.75,375.76 L192.00,376.01 L192.25,376.95 L192.50,378.44 L192.75,380.26 L193.00,382.22 L193.25,384.16 L193.50,385.98 L193.75,387.63 L194.00,389.10 L194.25,390.38 L194.50,391.50 L194.75,392.46 L195.00,393.30 L195.25,394.02 L195.50,394.65 L195.75,395.20 L196.00,395.68 L196.25,396.10 L196.50,396.47 L196.75,396.79 L197.00,397.08 L197.25,397.34 L197.50,397.58 L197.75,397.79 L198.00,397.98 L198.25,398.15 L198.50,398.30 L198.75,398.44 L199.00,398.57 L199.25,398.69 L199.50,398.80 L199.75,398.90 L200.00,399.00 L200.25,399.08 L200.50,399.16 L200.75,399.24 L201.00,399.31 L201.25,399.37 L201.50,399.43 L201.75,399.49 L202.00,399.55 L202.25,399.60 L202.50,399.64 L202.75,399.69 L203.00,399.73 L203.25,399.77 L203.50,399.81 L203.75,399.85 L204.00,399.89 L204.25,399.92 L204.50,399.95 L204.75,399.98 L205.00,400.01 L205.25,400.04 L205.50,400.07 L205.75,400.09 L206.00,400.12 L206.25,400.14 L206.50,400.16 L206.75,400.19 L207.00,400.21 L207.25,400.23 L207.50,400.25 L207.75,400.27 L208.00,400.29 L208.25,400.31 L208.50,400.32 L208.75,400.34 L209.00,400.36 L209.25,400.37 L209.50,400.39 L209.75,400.40 L210.00,400.42 L210.25,400.43 L210.50,400.45 L210.75,400.46 L211.00,400.48 L211.25,400.49 L211.50,400.50 L211.75,400.51 L212.00,400.53 L212.25,400.54 L212.50,400.55 L212.75,400.56 L213.00,400.57 L213.25,400.58 L213.50,400.60 L213.75,400.61 L214.00,400.62 L214.25,400.63 L214.50,400.64 L214.75,400.65 L215.00,400.66" fill="none" stroke="#d81e1e" stroke-width="0.8" stroke-linecap="round" stroke-linejoin="round" opacity="0.75"/>
<path d="M147.70,399.28 L148.20,399.27 L148.70,399.27 L149.20,399.26 L149.70,399.25 L150.20,399.25 L150.70,399.24 L151.20,399.23 L151.70,399.22 L152.20,399.22 L152.70,399.21 L153.20,399.20 L153.70,399.19 L154.20,399.17 L154.70,399.16 L155.20,399.15 L155.70,399.13 L156.20,399.12 L156.70,399.10 L157.20,399.08 L157.70,399.06 L158.20,399.04 L158.70,399.01 L159.20,398.98 L159.70,398.95 L160.20,398.91 L160.70,398.87 L161.20,398.83 L161.70,398.77 L162.20,398.72 L162.70,398.65 L163.20,398.57 L163.70,398.48 L164.20,398.37 L164.70,398.25 L165.20,398.10 L165.70,397.92 L166.20,397.70 L166.70,397.43 L167.20,397.10 L167.70,396.67 L168.20,396.13 L168.70,395.42 L169.20,394.48 L169.70,393.22 L170.20,391.49 L170.70,389.15 L171.20,386.09 L171.70,382.49 L172.20,379.20 L172.70,377.80 L173.20,379.20 L173.70,382.49 L174.20,386.09 L174.70,389.15 L175.20,391.49 L175.70,393.22 L176.20,394.48 L176.70,395.42 L177.20,396.13 L177.70,396.67 L178.20,397.10 L178.70,397.43 L179.20,397.70 L179.70,397.92 L180.20,398.10 L180.70,398.25 L181.20,398.37 L181.70,398.48 L182.20,398.57 L182.70,398.65 L183.20,398.72 L183.70,398.77 L184.20,398.83 L184.70,398.87 L185.20,398.91 L185.70,398.95 L186.20,398.98 L186.70,399.01 L187.20,399.04 L187.70,399.06 L188.20,399.08 L188.70,399.10 L189.20,399.12 L189.70,399.13 L190.20,399.15 L190.70,399.16 L191.20,399.17 L191.70,399.19 L192.20,399.20 L192.70,399.21 L193.20,399.22 L193.70,399.22 L194.20,399.23 L194.70,399.24 L195.20,399.25 L195.70,399.25 L196.20,399.26 L196.70,399.27 L197.20,399.27 L197.70,399.28" fill="none" stroke="#d81e1e" stroke-width="1.1" stroke-linecap="round" stroke-linejoin="round"/>
<path d="M168.00,399.29 L168.50,399.29 L169.00,399.28 L169.50,399.28 L170.00,399.27 L170.50,399.27 L171.00,399.26 L171.50,399.25 L172.00,399.25 L172.50,399.24 L173.00,399.23 L173.50,399.22 L174.00,399.21 L174.50,399.20 L175.00,399.19 L175.50,399.18 L176.00,399.17 L176.50,399.15 L177.00,399.14 L177.50,399.12 L178.00,399.10 L178.50,399.08 L179.00,399.06 L179.50,399.03 L180.00,399.00 L180.50,398.97 L181.00,398.94 L181.50,398.90 L182.00,398.85 L182.50,398.80 L183.00,398.74 L183.50,398.67 L184.00,398.59 L184.50,398.50 L185.00,398.39 L185.50,398.25 L186.00,398.10 L186.50,397.90 L187.00,397.67 L187.50,397.37 L188.00,397.00 L188.50,396.53 L189.00,395.90 L189.50,395.08 L190.00,393.96 L190.50,392.44 L191.00,390.39 L191.50,387.70 L192.00,384.52 L192.50,381.63 L193.00,380.40 L193.50,381.63 L194.00,384.52 L194.50,387.70 L195.00,390.39 L195.50,392.44 L196.00,393.96 L196.50,395.08 L197.00,395.90 L197.50,396.53 L198.00,397.00 L198.50,397.37 L199.00,397.67 L199.50,397.90 L200.00,398.10 L200.50,398.25 L201.00,398.39 L201.50,398.50 L202.00,398.59 L202.50,398.67 L203.00,398.74 L203.50,398.80 L204.00,398.85 L204.50,398.90 L205.00,398.94 L205.50,398.97 L206.00,399.00 L206.50,399.03 L207.00,399.06 L207.50,399.08 L208.00,399.10 L208.50,399.12 L209.00,399.14 L209.50,399.15 L210.00,399.17 L210.50,399.18 L211.00,399.19 L211.50,399.20 L212.00,399.21 L212.50,399.22 L213.00,399.23 L213.50,399.24 L214.00,399.25 L214.50,399.25 L215.00,399.26 L215.50,399.27 L216.00,399.27 L216.50,399.28 L217.00,399.28 L217.50,399.29 L218.00,399.29" fill="none" stroke="#d81e1e" stroke-width="1.1" stroke-linecap="round" stroke-linejoin="round"/>
<rect x="136.50" y="505.00" width="28.00" height="19.70" fill="none" stroke="#d8d8d8" stroke-width="0.7"/>
<line x1="125.80" y1="444.00" x2="136.50" y2="505.00" stroke="#cccccc" stroke-width="0.7"/>
<path d="M92.50,524.74 L92.70,524.74 L92.90,524.74 L93.10,524.74 L93.30,524.74 L93.50,524.74 L93.70,524.74 L93.90,524.75 L94.10,524.75 L94.30,524.75 L94.50,524.75 L94.70,524.75 L94.90,524.75 L95.10,524.75 L95.30,524.75 L95.50,524.75 L95.70,524.75 L95.90,524.75 L96.10,524.75 L96.30,524.75 L96.50,524.75 L96.70,524.75 L96.90,524.75 L97.10,524.75 L97.30,524.75 L97.50,524.75 L97.70,524.75 L97.90,524.75 L98.10,524.75 L98.30,524.75 L98.50,524.75 L98.70,524.75 L98.90,524.76 L99.10,524.76 L99.30,524.76 L99.50,524.76 L99.70,524.76 L99.90,524.76 L100.10,524.76 L100.30,524.76 L100.50,524.76 L100.70,524.76 L100.90,524.76 L101.10,524.76 L101.30,524.76 L101.50,524.76 L101.70,524.76 L101.90,524.76 L102.10,524.76 L102.30,524.76 L102.50,524.76 L102.70,524.76 L102.90,524.76 L103.10,524.76 L103.30,524.76 L103.50,524.76 L103.70,524.76 L103.90,524.76 L104.10,524.76 L104.30,524.76 L104.50,524.76 L104.70,524.76 L104.90,524.76 L105.10,524.76 L105.30,524.76 L105.50,524.76 L105.70,524.76 L105.90,524.76 L106.10,524.76 L106.30,524.76 L106.50,524.76 L106.70,524.76 L106.90,524.76 L107.10,524.76 L107.30,524.76 L107.50,524.76 L107.70,524.76 L107.90,524.76 L108.10,524.76 L108.30,524.76 L108.50,524.76 L108.70,524.76 L108.90,524.76 L109.10,524.76 L109.30,524.76 L109.50,524.76 L109.70,524.76 L109.90,524.76 L110.10,524.76 L110.30,524.76 L110.50,524.76 L110.70,524.76 L110.90,524.76 L111.10,524.76 L111.30,524.76 L111.50,524.76 L111.70,524.76 L111.90,524.76 L112.10,524.76 L112.30,524.76 L112.50,524.76 L112.70,524.76 L112.90,524.76 L113.10,524.76 L113.30,524.76 L113.50,524.76 L113.70,524.76 L113.90,524.76 L114.10,524.76 L114.30,524.76 L114.50,524.76 L114.70,524.76 L114.90,524.76 L115.10,524.76 L115.30,524.76 L115.50,524.76 L115.70,524.76 L115.90,524.76 L116.10,524.76 L116.30,524.76 L116.50,524.76 L116.70,524.76 L116.90,524.76 L117.10,524.76 L117.30,524.75 L117.50,524.75 L117.70,524.75 L117.90,524.75 L118.10,524.75 L118.30,524.75 L118.50,524.75 L118.70,524.75 L118.90,524.75 L119.10,524.75 L119.30,524.75 L119.50,524.75 L119.70,524.75 L119.90,524.75 L120.10,524.74 L120.30,524.74 L120.50,524.74 L120.70,524.74 L120.90,524.74 L121.10,524.74 L121.30,524.74 L121.50,524.74 L121.70,524.74 L121.90,524.73 L122.10,524.73 L122.30,524.73 L122.50,524.73 L122.70,524.73 L122.90,524.73 L123.10,524.73 L123.30,524.73 L123.50,524.72 L123.70,524.72 L123.90,524.72 L124.10,524.72 L124.30,524.72 L124.50,524.72 L124.70,524.72 L124.90,524.71 L125.10,524.71 L125.30,524.71 L125.50,524.71 L125.70,524.71 L125.90,524.70 L126.10,524.70 L126.30,524.70 L126.50,524.70 L126.70,524.70 L126.90,524.69 L127.10,524.69 L127.30,524.69 L127.50,524.69 L127.70,524.68 L127.90,524.68 L128.10,524.68 L128.30,524.68 L128.50,524.67 L128.70,524.67 L128.90,524.67 L129.10,524.66 L129.30,524.66 L129.50,524.66 L129.70,524.66 L129.90,524.65 L130.10,524.65 L130.30,524.64 L130.50,524.64 L130.70,524.64 L130.90,524.63 L131.10,524.63 L131.30,524.63 L131.50,524.62 L131.70,524.62 L131.90,524.61 L132.10,524.61 L132.30,524.60 L132.50,524.60 L132.70,524.59 L132.90,524.59 L133.10,524.58 L133.30,524.58 L133.50,524.57 L133.70,524.57 L133.90,524.56 L134.10,524.56 L134.30,524.55 L134.50,524.54 L134.70,524.54 L134.90,524.53 L135.10,524.52 L135.30,524.52 L135.50,524.51 L135.70,524.50 L135.90,524.49 L136.10,524.49 L136.30,524.48 L136.50,524.47 L136.70,524.46 L136.90,524.45 L137.10,524.44 L137.30,524.43 L137.50,524.42 L137.70,524.41 L137.90,524.40 L138.10,524.39 L138.30,524.38 L138.50,524.37 L138.70,524.35 L138.90,524.34 L139.10,524.33 L139.30,524.31 L139.50,524.30 L139.70,524.29 L139.90,524.27 L140.10,524.25 L140.30,524.24 L140.50,524.22 L140.70,524.20 L140.90,524.19 L141.10,524.17 L141.30,524.15 L141.50,524.13 L141.70,524.10 L141.90,524.08 L142.10,524.06 L142.30,524.03 L142.50,524.01 L142.70,523.98 L142.90,523.95 L143.10,523.93 L143.30,523.90 L143.50,523.86 L143.70,523.83 L143.90,523.80 L144.10,523.76 L144.30,523.72 L144.50,523.68 L144.70,523.64 L144.90,523.59 L145.10,523.55 L145.30,523.50 L145.50,523.45 L145.70,523.39 L145.90,523.33 L146.10,523.27 L146.30,523.21 L146.50,523.14 L146.70,523.07 L146.90,522.99 L147.10,522.91 L147.30,522.82 L147.50,522.73 L147.70,522.63 L147.90,522.52 L148.10,522.41 L148.30,522.28 L148.50,522.15 L148.70,522.01 L148.90,521.86 L149.10,521.69 L149.30,521.52 L149.50,521.32 L149.70,521.11 L149.90,520.88 L150.10,520.63 L150.30,520.35 L150.50,520.04 L150.70,519.70 L150.90,519.31 L151.10,518.88 L151.30,518.38 L151.50,517.82 L151.70,517.17 L151.90,516.41 L152.10,515.53 L152.30,514.50 L152.50,513.29 L152.70,511.87 L152.90,510.19 L153.10,508.23 L153.30,505.93 L153.50,503.24 L153.70,500.11 L153.90,496.49 L154.10,492.31 L154.30,487.52 L154.50,482.04 L154.70,475.85 L154.90,468.90 L155.10,461.25 L155.30,453.04 L155.50,444.59 L155.70,436.50 L155.90,429.61 L156.10,424.91 L156.30,423.23 L156.50,424.90 L156.70,429.59 L156.90,436.46 L157.10,444.54 L157.30,452.97 L157.50,461.17 L157.70,468.81 L157.90,475.74 L158.10,481.93 L158.30,487.39 L158.50,492.17 L158.70,496.33 L158.90,499.94 L159.10,503.05 L159.30,505.73 L159.50,508.01 L159.70,509.96 L159.90,511.62 L160.10,513.02 L160.30,514.22 L160.50,515.23 L160.70,516.09 L160.90,516.83 L161.10,517.46 L161.30,518.01 L161.50,518.48 L161.70,518.90 L161.90,519.26 L162.10,519.58 L162.30,519.86 L162.50,520.12 L162.70,520.34 L162.90,520.54 L163.10,520.73 L163.30,520.89 L163.50,521.04 L163.70,521.17 L163.90,521.28 L164.10,521.39 L164.30,521.48 L164.50,521.56 L164.70,521.63 L164.90,521.69 L165.10,521.74 L165.30,521.78 L165.50,521.81 L165.70,521.83 L165.90,521.85 L166.10,521.85 L166.30,521.84 L166.50,521.83 L166.70,521.81 L166.90,521.77 L167.10,521.73 L167.30,521.67 L167.50,521.61 L167.70,521.53 L167.90,521.44 L168.10,521.33 L168.30,521.20 L168.50,521.06 L168.70,520.90 L168.90,520.71 L169.10,520.49 L169.30,520.24 L169.50,519.95 L169.70,519.61 L169.90,519.21 L170.10,518.74 L170.30,518.19 L170.50,517.53 L170.70,516.74 L170.90,515.80 L171.10,514.67 L171.30,513.33 L171.50,511.73 L171.70,509.83 L171.90,507.60 L172.10,504.97 L172.30,501.90 L172.50,498.34 L172.70,494.22 L172.90,489.52 L173.10,484.19 L173.30,478.28 L173.50,471.93 L173.70,465.45 L173.90,459.41 L174.10,454.63 L174.30,451.95 L174.50,451.97 L174.70,454.66 L174.90,459.47 L175.10,465.53 L175.30,472.04 L175.50,478.42 L175.70,484.35 L175.90,489.70 L176.10,494.43 L176.30,498.57 L176.50,502.16 L176.70,505.26 L176.90,507.91 L177.10,510.18 L177.30,512.10 L177.50,513.73 L177.70,515.10 L177.90,516.25 L178.10,517.23 L178.30,518.05 L178.50,518.74 L178.70,519.33 L178.90,519.83 L179.10,520.26 L179.30,520.64 L179.50,520.96 L179.70,521.25 L179.90,521.51 L180.10,521.74 L180.30,521.94 L180.50,522.13 L180.70,522.30 L180.90,522.46 L181.10,522.60 L181.30,522.73 L181.50,522.85 L181.70,522.96 L181.90,523.07 L182.10,523.16 L182.30,523.25 L182.50,523.33 L182.70,523.41 L182.90,523.48 L183.10,523.55 L183.30,523.62 L183.50,523.68 L183.70,523.73 L183.90,523.79 L184.10,523.84 L184.30,523.88 L184.50,523.93 L184.70,523.97 L184.90,524.01 L185.10,524.05 L185.30,524.09 L185.50,524.12 L185.70,524.15 L185.90,524.19 L186.10,524.22 L186.30,524.24 L186.50,524.27 L186.70,524.30 L186.90,524.32 L187.10,524.35 L187.30,524.37 L187.50,524.39 L187.70,524.41 L187.90,524.43 L188.10,524.45 L188.30,524.47 L188.50,524.49 L188.70,524.51 L188.90,524.52 L189.10,524.54 L189.30,524.56 L189.50,524.57 L189.70,524.58 L189.90,524.60 L190.10,524.61 L190.30,524.63 L190.50,524.64 L190.70,524.65 L190.90,524.66 L191.10,524.67 L191.30,524.69 L191.50,524.70 L191.70,524.71 L191.90,524.72 L192.10,524.73 L192.30,524.74 L192.50,524.75 L192.70,524.76 L192.90,524.77 L193.10,524.77 L193.30,524.78 L193.50,524.79 L193.70,524.80 L193.90,524.81 L194.10,524.81 L194.30,524.82 L194.50,524.83 L194.70,524.84 L194.90,524.84 L195.10,524.85 L195.30,524.86 L195.50,524.86 L195.70,524.87 L195.90,524.88 L196.10,524.88 L196.30,524.89 L196.50,524.89 L196.70,524.90 L196.90,524.90 L197.10,524.91 L197.30,524.92 L197.50,524.92 L197.70,524.93 L197.90,524.93 L198.10,524.94 L198.30,524.94 L198.50,524.95 L198.70,524.95 L198.90,524.95 L199.10,524.96 L199.30,524.96 L199.50,524.97 L199.70,524.97 L199.90,524.98 L200.10,524.98 L200.30,524.98 L200.50,524.99 L200.70,524.99 L200.90,525.00 L201.10,525.00 L201.30,525.00 L201.50,525.01 L201.70,525.01 L201.90,525.02" fill="none" stroke="#1818a0" stroke-width="1.0" stroke-linecap="round" stroke-linejoin="round"/>
<path d="M92.5,524.7 L93.0,524.7 L93.5,524.7 L94.0,524.7 L94.5,524.7 L95.0,524.7 L95.5,524.7 L96.0,524.7 L96.5,524.8 L97.0,524.8 L97.5,524.8 L98.0,524.8 L98.5,524.8 L99.0,524.8 L99.5,524.8 L100.0,524.8 L100.5,524.8 L101.0,524.8 L101.5,524.8 L102.0,524.8 L102.5,524.8 L103.0,524.8 L103.5,524.8 L104.0,524.8 L104.5,524.8 L105.0,524.8 L105.5,524.8 L106.0,524.8 L106.5,524.8 L107.0,524.8 L107.5,524.8 L108.0,524.8 L108.5,524.8 L109.0,524.8 L109.5,524.8 L110.0,524.8 L110.5,524.8 L111.0,524.8 L111.5,524.8 L112.0,524.8 L112.5,524.8 L113.0,524.8 L113.5,524.8 L114.0,524.8 L114.5,524.8 L115.0,524.8 L115.5,524.8 L116.0,524.8 L116.5,524.8 L117.0,524.8 L117.5,524.8 L118.0,524.8 L118.5,524.8 L119.0,524.7 L119.5,524.7 L120.0,524.7 L120.5,524.7 L121.0,524.7 L121.5,524.7 L122.0,524.7 L122.5,524.7 L123.0,524.7 L123.5,524.7 L124.0,524.7 L124.5,524.7 L125.0,524.7 L125.5,524.7 L126.0,524.7 L126.5,524.7 L127.0,524.7 L127.5,524.7 L128.0,524.7 L128.5,524.7 L129.0,524.7 L129.5,524.7 L130.0,524.6 L130.5,524.6 L131.0,524.6 L131.5,524.6 L132.0,524.6 L132.5,524.6 L133.0,524.6 L133.5,524.6 L134.0,524.6 L134.5,524.5 L135.0,524.5 L135.5,524.5 L136.0,524.5 L136.5,524.5 L137.0,524.4 L137.5,524.4 L138.0,524.4 L138.5,524.4 L139.0,524.3 L139.5,524.3 L140.0,524.3 L140.5,524.2 L141.0,524.2 L141.5,524.1 L142.0,524.1 L142.5,524.0 L143.0,523.9 L143.5,523.9 L144.0,523.8 L144.5,523.7 L145.0,523.6 L145.5,523.4 L146.0,523.3 L146.5,523.1 L147.0,523.0 L147.4,522.8 L147.9,522.5 L148.3,522.3 L148.7,522.0 L149.1,521.7 L149.5,521.3 L149.9,520.9 M162.5,520.1 L162.8,520.5 L163.2,520.8 L163.6,521.1 L164.1,521.4 L164.5,521.6 L165.0,521.7 L165.5,521.8 L166.0,521.8 L166.5,521.8 L167.0,521.7 L167.5,521.6 L168.0,521.4 L168.4,521.1 L168.8,520.8 M179.9,521.5 L180.3,521.9 L180.6,522.3 L181.0,522.6 L181.5,522.8 L181.9,523.1 L182.4,523.3 L182.9,523.5 L183.4,523.6 L183.9,523.8 L184.4,523.9 L184.9,524.0 L185.4,524.1 L185.9,524.2 L186.4,524.3 L186.9,524.3 L187.4,524.4 L187.9,524.4 L188.4,524.5 L188.9,524.5 L189.4,524.6 L189.9,524.6 L190.4,524.6 L190.9,524.7 L191.4,524.7 L191.9,524.7 L192.4,524.7 L192.9,524.8 L193.4,524.8 L193.9,524.8 L194.4,524.8 L194.9,524.8 L195.4,524.9 L195.9,524.9 L196.4,524.9 L196.9,524.9 L197.4,524.9 L197.9,524.9 L198.4,524.9 L198.9,525.0 L199.4,525.0 L199.9,525.0 L200.4,525.0 L200.9,525.0 L201.4,525.0 L201.9,525.0" fill="none" stroke="#1818a0" stroke-width="3.0" stroke-linecap="round" stroke-linejoin="round"/>
<g fill="none" stroke="#1818a0" stroke-width="0.95"><circle cx="92.5" cy="525.1" r="1.25"/><circle cx="93.3" cy="523.4" r="1.25"/><circle cx="94.2" cy="524.2" r="1.25"/><circle cx="95.0" cy="524.8" r="1.25"/><circle cx="95.9" cy="525.9" r="1.25"/><circle cx="96.7" cy="524.8" r="1.25"/><circle cx="97.5" cy="523.5" r="1.25"/><circle cx="98.4" cy="525.0" r="1.25"/><circle cx="99.2" cy="523.9" r="1.25"/><circle cx="100.1" cy="525.7" r="1.25"/><circle cx="100.9" cy="524.6" r="1.25"/><circle cx="101.7" cy="526.1" r="1.25"/><circle cx="102.6" cy="524.7" r="1.25"/><circle cx="103.4" cy="524.0" r="1.25"/><circle cx="104.3" cy="523.7" r="1.25"/><circle cx="105.1" cy="524.5" r="1.25"/><circle cx="105.9" cy="525.1" r="1.25"/><circle cx="106.8" cy="525.7" r="1.25"/><circle cx="107.6" cy="525.0" r="1.25"/><circle cx="108.5" cy="524.2" r="1.25"/><circle cx="109.3" cy="525.1" r="1.25"/><circle cx="110.1" cy="523.7" r="1.25"/><circle cx="111.0" cy="525.1" r="1.25"/><circle cx="111.8" cy="524.2" r="1.25"/><circle cx="112.7" cy="525.9" r="1.25"/><circle cx="113.5" cy="525.5" r="1.25"/><circle cx="114.3" cy="525.0" r="1.25"/><circle cx="115.2" cy="524.0" r="1.25"/><circle cx="116.0" cy="525.2" r="1.25"/><circle cx="116.9" cy="525.0" r="1.25"/><circle cx="117.7" cy="524.3" r="1.25"/><circle cx="118.5" cy="524.3" r="1.25"/><circle cx="119.4" cy="525.7" r="1.25"/><circle cx="120.2" cy="524.4" r="1.25"/><circle cx="121.1" cy="525.1" r="1.25"/><circle cx="121.9" cy="525.8" r="1.25"/><circle cx="122.7" cy="523.6" r="1.25"/><circle cx="123.6" cy="526.1" r="1.25"/><circle cx="124.4" cy="525.5" r="1.25"/><circle cx="125.3" cy="524.2" r="1.25"/><circle cx="126.1" cy="524.0" r="1.25"/><circle cx="126.9" cy="523.8" r="1.25"/><circle cx="127.8" cy="525.4" r="1.25"/><circle cx="128.6" cy="522.7" r="1.25"/><circle cx="129.5" cy="525.4" r="1.25"/><circle cx="130.3" cy="524.8" r="1.25"/><circle cx="131.1" cy="524.1" r="1.25"/><circle cx="132.0" cy="524.2" r="1.25"/><circle cx="132.8" cy="524.3" r="1.25"/><circle cx="133.7" cy="524.4" r="1.25"/><circle cx="134.5" cy="525.2" r="1.25"/><circle cx="135.3" cy="523.9" r="1.25"/><circle cx="136.2" cy="525.3" r="1.25"/><circle cx="137.0" cy="525.2" r="1.25"/><circle cx="137.9" cy="524.2" r="1.25"/><circle cx="138.7" cy="524.8" r="1.25"/><circle cx="139.5" cy="523.9" r="1.25"/><circle cx="140.4" cy="524.3" r="1.25"/><circle cx="141.2" cy="524.5" r="1.25"/><circle cx="142.1" cy="525.5" r="1.25"/><circle cx="142.9" cy="523.9" r="1.25"/><circle cx="143.7" cy="523.7" r="1.25"/><circle cx="144.6" cy="523.7" r="1.25"/><circle cx="145.4" cy="523.3" r="1.25"/><circle cx="146.2" cy="522.5" r="1.25"/><circle cx="147.0" cy="524.3" r="1.25"/><circle cx="147.7" cy="522.2" r="1.25"/><circle cx="148.4" cy="521.8" r="1.25"/><circle cx="149.1" cy="521.3" r="1.25"/><circle cx="149.8" cy="521.4" r="1.25"/><circle cx="150.3" cy="521.6" r="1.25"/><circle cx="150.7" cy="520.7" r="1.25"/><circle cx="151.1" cy="519.2" r="1.25"/><circle cx="151.4" cy="518.1" r="1.25"/><circle cx="151.7" cy="517.1" r="1.25"/><circle cx="151.9" cy="516.1" r="1.25"/><circle cx="152.1" cy="515.5" r="1.25"/><circle cx="152.3" cy="514.2" r="1.25"/><circle cx="152.5" cy="513.7" r="1.25"/><circle cx="152.6" cy="512.3" r="1.25"/><circle cx="152.8" cy="511.1" r="1.25"/><circle cx="152.9" cy="509.8" r="1.25"/><circle cx="153.0" cy="508.4" r="1.25"/><circle cx="153.2" cy="507.4" r="1.25"/><circle cx="153.3" cy="506.5" r="1.25"/><circle cx="153.3" cy="505.3" r="1.25"/><circle cx="153.4" cy="504.3" r="1.25"/><circle cx="153.5" cy="503.7" r="1.25"/><circle cx="153.5" cy="502.6" r="1.25"/><circle cx="153.6" cy="501.6" r="1.25"/><circle cx="153.7" cy="500.4" r="1.25"/><circle cx="153.7" cy="499.1" r="1.25"/><circle cx="153.8" cy="497.7" r="1.25"/><circle cx="153.9" cy="496.7" r="1.25"/><circle cx="154.0" cy="495.3" r="1.25"/><circle cx="154.0" cy="493.9" r="1.25"/><circle cx="154.1" cy="492.5" r="1.25"/><circle cx="154.2" cy="490.9" r="1.25"/><circle cx="154.2" cy="488.9" r="1.25"/><circle cx="154.3" cy="487.4" r="1.25"/><circle cx="154.4" cy="485.0" r="1.25"/><circle cx="154.4" cy="483.6" r="1.25"/><circle cx="154.5" cy="481.5" r="1.25"/><circle cx="154.6" cy="479.5" r="1.25"/><circle cx="154.7" cy="477.3" r="1.25"/><circle cx="154.7" cy="474.7" r="1.25"/><circle cx="154.8" cy="472.4" r="1.25"/><circle cx="154.9" cy="470.2" r="1.25"/><circle cx="154.9" cy="467.3" r="1.25"/><circle cx="155.0" cy="464.8" r="1.25"/><circle cx="155.1" cy="461.9" r="1.25"/><circle cx="155.1" cy="459.4" r="1.25"/><circle cx="155.2" cy="456.4" r="1.25"/><circle cx="155.3" cy="453.3" r="1.25"/><circle cx="155.4" cy="450.2" r="1.25"/><circle cx="155.4" cy="447.1" r="1.25"/><circle cx="155.5" cy="444.8" r="1.25"/><circle cx="155.6" cy="441.6" r="1.25"/><circle cx="155.6" cy="438.7" r="1.25"/><circle cx="155.7" cy="436.0" r="1.25"/><circle cx="155.8" cy="433.4" r="1.25"/><circle cx="155.8" cy="431.3" r="1.25"/><circle cx="155.9" cy="429.1" r="1.25"/><circle cx="156.0" cy="426.7" r="1.25"/><circle cx="156.1" cy="425.6" r="1.25"/><circle cx="156.1" cy="424.5" r="1.25"/><circle cx="156.2" cy="423.6" r="1.25"/><circle cx="156.5" cy="424.6" r="1.25"/><circle cx="156.5" cy="426.1" r="1.25"/><circle cx="156.6" cy="427.5" r="1.25"/><circle cx="156.7" cy="429.5" r="1.25"/><circle cx="156.8" cy="431.7" r="1.25"/><circle cx="156.8" cy="433.6" r="1.25"/><circle cx="156.9" cy="436.8" r="1.25"/><circle cx="157.0" cy="439.2" r="1.25"/><circle cx="157.0" cy="442.0" r="1.25"/><circle cx="157.1" cy="445.1" r="1.25"/><circle cx="157.2" cy="448.3" r="1.25"/><circle cx="157.2" cy="450.7" r="1.25"/><circle cx="157.3" cy="453.7" r="1.25"/><circle cx="157.4" cy="456.8" r="1.25"/><circle cx="157.5" cy="459.2" r="1.25"/><circle cx="157.5" cy="462.1" r="1.25"/><circle cx="157.6" cy="465.1" r="1.25"/><circle cx="157.7" cy="467.9" r="1.25"/><circle cx="157.7" cy="470.4" r="1.25"/><circle cx="157.8" cy="472.9" r="1.25"/><circle cx="157.9" cy="475.3" r="1.25"/><circle cx="157.9" cy="477.3" r="1.25"/><circle cx="158.0" cy="479.5" r="1.25"/><circle cx="158.1" cy="481.6" r="1.25"/><circle cx="158.2" cy="483.6" r="1.25"/><circle cx="158.2" cy="485.8" r="1.25"/><circle cx="158.3" cy="487.6" r="1.25"/><circle cx="158.4" cy="488.7" r="1.25"/><circle cx="158.4" cy="490.9" r="1.25"/><circle cx="158.5" cy="492.2" r="1.25"/><circle cx="158.6" cy="493.7" r="1.25"/><circle cx="158.6" cy="495.6" r="1.25"/><circle cx="158.7" cy="497.0" r="1.25"/><circle cx="158.8" cy="498.2" r="1.25"/><circle cx="158.9" cy="499.4" r="1.25"/><circle cx="158.9" cy="500.8" r="1.25"/><circle cx="159.0" cy="501.3" r="1.25"/><circle cx="159.1" cy="502.8" r="1.25"/><circle cx="159.1" cy="503.5" r="1.25"/><circle cx="159.2" cy="504.5" r="1.25"/><circle cx="159.3" cy="505.2" r="1.25"/><circle cx="159.3" cy="506.6" r="1.25"/><circle cx="159.4" cy="507.5" r="1.25"/><circle cx="159.6" cy="508.8" r="1.25"/><circle cx="159.7" cy="509.9" r="1.25"/><circle cx="159.8" cy="511.2" r="1.25"/><circle cx="160.0" cy="512.0" r="1.25"/><circle cx="160.1" cy="513.1" r="1.25"/><circle cx="160.3" cy="514.3" r="1.25"/><circle cx="160.5" cy="515.4" r="1.25"/><circle cx="160.7" cy="516.1" r="1.25"/><circle cx="160.9" cy="517.0" r="1.25"/><circle cx="161.2" cy="517.6" r="1.25"/><circle cx="161.5" cy="518.6" r="1.25"/><circle cx="161.9" cy="519.3" r="1.25"/><circle cx="162.4" cy="520.3" r="1.25"/><circle cx="163.0" cy="520.3" r="1.25"/><circle cx="163.7" cy="521.8" r="1.25"/><circle cx="164.5" cy="521.4" r="1.25"/><circle cx="165.2" cy="521.9" r="1.25"/><circle cx="166.1" cy="521.8" r="1.25"/><circle cx="166.9" cy="522.9" r="1.25"/><circle cx="167.7" cy="522.2" r="1.25"/><circle cx="168.4" cy="520.7" r="1.25"/><circle cx="169.0" cy="520.1" r="1.25"/><circle cx="169.5" cy="520.2" r="1.25"/><circle cx="169.9" cy="519.2" r="1.25"/><circle cx="170.3" cy="518.2" r="1.25"/><circle cx="170.5" cy="517.4" r="1.25"/><circle cx="170.8" cy="516.8" r="1.25"/><circle cx="171.0" cy="515.4" r="1.25"/><circle cx="171.1" cy="514.9" r="1.25"/><circle cx="171.2" cy="513.6" r="1.25"/><circle cx="171.4" cy="512.6" r="1.25"/><circle cx="171.5" cy="511.5" r="1.25"/><circle cx="171.7" cy="510.1" r="1.25"/><circle cx="171.8" cy="508.6" r="1.25"/><circle cx="171.9" cy="507.6" r="1.25"/><circle cx="171.9" cy="506.9" r="1.25"/><circle cx="172.0" cy="506.0" r="1.25"/><circle cx="172.1" cy="505.1" r="1.25"/><circle cx="172.2" cy="504.3" r="1.25"/><circle cx="172.2" cy="503.1" r="1.25"/><circle cx="172.3" cy="502.1" r="1.25"/><circle cx="172.4" cy="500.8" r="1.25"/><circle cx="172.4" cy="499.6" r="1.25"/><circle cx="172.5" cy="498.3" r="1.25"/><circle cx="172.6" cy="496.9" r="1.25"/><circle cx="172.6" cy="495.5" r="1.25"/><circle cx="172.7" cy="493.7" r="1.25"/><circle cx="172.8" cy="492.3" r="1.25"/><circle cx="172.9" cy="490.6" r="1.25"/><circle cx="172.9" cy="489.0" r="1.25"/><circle cx="173.0" cy="487.1" r="1.25"/><circle cx="173.1" cy="484.9" r="1.25"/><circle cx="173.1" cy="483.1" r="1.25"/><circle cx="173.2" cy="481.1" r="1.25"/><circle cx="173.3" cy="478.9" r="1.25"/><circle cx="173.3" cy="477.0" r="1.25"/><circle cx="173.4" cy="474.6" r="1.25"/><circle cx="173.5" cy="472.0" r="1.25"/><circle cx="173.6" cy="470.0" r="1.25"/><circle cx="173.6" cy="467.9" r="1.25"/><circle cx="173.7" cy="465.3" r="1.25"/><circle cx="173.8" cy="463.4" r="1.25"/><circle cx="173.8" cy="460.6" r="1.25"/><circle cx="173.9" cy="459.5" r="1.25"/><circle cx="174.0" cy="457.0" r="1.25"/><circle cx="174.0" cy="455.6" r="1.25"/><circle cx="174.1" cy="454.2" r="1.25"/><circle cx="174.2" cy="452.9" r="1.25"/><circle cx="174.3" cy="452.3" r="1.25"/><circle cx="174.6" cy="453.0" r="1.25"/><circle cx="174.7" cy="454.0" r="1.25"/><circle cx="174.7" cy="455.3" r="1.25"/><circle cx="174.8" cy="457.5" r="1.25"/><circle cx="174.9" cy="459.4" r="1.25"/><circle cx="175.0" cy="461.1" r="1.25"/><circle cx="175.0" cy="463.4" r="1.25"/><circle cx="175.1" cy="465.8" r="1.25"/><circle cx="175.2" cy="467.9" r="1.25"/><circle cx="175.2" cy="470.3" r="1.25"/><circle cx="175.3" cy="472.6" r="1.25"/><circle cx="175.4" cy="474.8" r="1.25"/><circle cx="175.4" cy="477.0" r="1.25"/><circle cx="175.5" cy="479.3" r="1.25"/><circle cx="175.6" cy="481.2" r="1.25"/><circle cx="175.7" cy="483.2" r="1.25"/><circle cx="175.7" cy="485.1" r="1.25"/><circle cx="175.8" cy="486.7" r="1.25"/><circle cx="175.9" cy="488.8" r="1.25"/><circle cx="175.9" cy="490.6" r="1.25"/><circle cx="176.0" cy="492.6" r="1.25"/><circle cx="176.1" cy="493.9" r="1.25"/><circle cx="176.1" cy="495.2" r="1.25"/><circle cx="176.2" cy="497.1" r="1.25"/><circle cx="176.3" cy="498.6" r="1.25"/><circle cx="176.4" cy="499.8" r="1.25"/><circle cx="176.4" cy="501.0" r="1.25"/><circle cx="176.5" cy="502.2" r="1.25"/><circle cx="176.6" cy="503.3" r="1.25"/><circle cx="176.6" cy="504.7" r="1.25"/><circle cx="176.7" cy="505.2" r="1.25"/><circle cx="176.8" cy="506.2" r="1.25"/><circle cx="176.8" cy="507.0" r="1.25"/><circle cx="176.9" cy="508.1" r="1.25"/><circle cx="177.0" cy="508.9" r="1.25"/><circle cx="177.1" cy="510.4" r="1.25"/><circle cx="177.3" cy="511.9" r="1.25"/><circle cx="177.4" cy="513.2" r="1.25"/><circle cx="177.5" cy="513.8" r="1.25"/><circle cx="177.7" cy="515.1" r="1.25"/><circle cx="177.8" cy="515.7" r="1.25"/><circle cx="178.0" cy="516.8" r="1.25"/><circle cx="178.2" cy="517.8" r="1.25"/><circle cx="178.5" cy="518.9" r="1.25"/><circle cx="178.8" cy="519.2" r="1.25"/><circle cx="179.2" cy="520.9" r="1.25"/><circle cx="179.6" cy="521.1" r="1.25"/><circle cx="180.1" cy="521.4" r="1.25"/><circle cx="180.8" cy="521.4" r="1.25"/><circle cx="181.5" cy="523.6" r="1.25"/><circle cx="182.2" cy="523.7" r="1.25"/><circle cx="183.0" cy="524.2" r="1.25"/><circle cx="183.8" cy="523.9" r="1.25"/><circle cx="184.6" cy="525.3" r="1.25"/><circle cx="185.5" cy="525.3" r="1.25"/><circle cx="186.3" cy="525.9" r="1.25"/><circle cx="187.1" cy="524.6" r="1.25"/><circle cx="188.0" cy="525.2" r="1.25"/><circle cx="188.8" cy="524.3" r="1.25"/><circle cx="189.7" cy="524.7" r="1.25"/><circle cx="190.5" cy="524.4" r="1.25"/><circle cx="191.3" cy="524.8" r="1.25"/><circle cx="192.2" cy="524.8" r="1.25"/><circle cx="193.0" cy="524.8" r="1.25"/><circle cx="193.9" cy="524.8" r="1.25"/><circle cx="194.7" cy="525.0" r="1.25"/><circle cx="195.5" cy="524.6" r="1.25"/><circle cx="196.4" cy="524.4" r="1.25"/><circle cx="197.2" cy="524.6" r="1.25"/><circle cx="198.1" cy="525.5" r="1.25"/><circle cx="198.9" cy="525.5" r="1.25"/><circle cx="199.7" cy="525.8" r="1.25"/><circle cx="200.6" cy="526.9" r="1.25"/><circle cx="201.4" cy="524.3" r="1.25"/></g>
<path d="M92.50,524.74 L92.70,524.74 L92.90,524.74 L93.10,524.74 L93.30,524.74 L93.50,524.74 L93.70,524.74 L93.90,524.75 L94.10,524.75 L94.30,524.75 L94.50,524.75 L94.70,524.75 L94.90,524.75 L95.10,524.75 L95.30,524.75 L95.50,524.75 L95.70,524.75 L95.90,524.75 L96.10,524.75 L96.30,524.75 L96.50,524.75 L96.70,524.75 L96.90,524.75 L97.10,524.75 L97.30,524.75 L97.50,524.75 L97.70,524.75 L97.90,524.75 L98.10,524.75 L98.30,524.75 L98.50,524.75 L98.70,524.75 L98.90,524.76 L99.10,524.76 L99.30,524.76 L99.50,524.76 L99.70,524.76 L99.90,524.76 L100.10,524.76 L100.30,524.76 L100.50,524.76 L100.70,524.76 L100.90,524.76 L101.10,524.76 L101.30,524.76 L101.50,524.76 L101.70,524.76 L101.90,524.76 L102.10,524.76 L102.30,524.76 L102.50,524.76 L102.70,524.76 L102.90,524.76 L103.10,524.76 L103.30,524.76 L103.50,524.76 L103.70,524.76 L103.90,524.76 L104.10,524.76 L104.30,524.76 L104.50,524.76 L104.70,524.76 L104.90,524.76 L105.10,524.76 L105.30,524.76 L105.50,524.76 L105.70,524.76 L105.90,524.76 L106.10,524.76 L106.30,524.76 L106.50,524.76 L106.70,524.76 L106.90,524.76 L107.10,524.76 L107.30,524.76 L107.50,524.76 L107.70,524.76 L107.90,524.76 L108.10,524.76 L108.30,524.76 L108.50,524.76 L108.70,524.76 L108.90,524.76 L109.10,524.76 L109.30,524.76 L109.50,524.76 L109.70,524.76 L109.90,524.76 L110.10,524.76 L110.30,524.76 L110.50,524.76 L110.70,524.76 L110.90,524.76 L111.10,524.76 L111.30,524.76 L111.50,524.76 L111.70,524.76 L111.90,524.76 L112.10,524.76 L112.30,524.76 L112.50,524.76 L112.70,524.76 L112.90,524.76 L113.10,524.76 L113.30,524.76 L113.50,524.76 L113.70,524.76 L113.90,524.76 L114.10,524.76 L114.30,524.76 L114.50,524.76 L114.70,524.76 L114.90,524.76 L115.10,524.76 L115.30,524.76 L115.50,524.76 L115.70,524.76 L115.90,524.76 L116.10,524.76 L116.30,524.76 L116.50,524.76 L116.70,524.76 L116.90,524.76 L117.10,524.76 L117.30,524.75 L117.50,524.75 L117.70,524.75 L117.90,524.75 L118.10,524.75 L118.30,524.75 L118.50,524.75 L118.70,524.75 L118.90,524.75 L119.10,524.75 L119.30,524.75 L119.50,524.75 L119.70,524.75 L119.90,524.75 L120.10,524.74 L120.30,524.74 L120.50,524.74 L120.70,524.74 L120.90,524.74 L121.10,524.74 L121.30,524.74 L121.50,524.74 L121.70,524.74 L121.90,524.73 L122.10,524.73 L122.30,524.73 L122.50,524.73 L122.70,524.73 L122.90,524.73 L123.10,524.73 L123.30,524.73 L123.50,524.72 L123.70,524.72 L123.90,524.72 L124.10,524.72 L124.30,524.72 L124.50,524.72 L124.70,524.72 L124.90,524.71 L125.10,524.71 L125.30,524.71 L125.50,524.71 L125.70,524.71 L125.90,524.70 L126.10,524.70 L126.30,524.70 L126.50,524.70 L126.70,524.70 L126.90,524.69 L127.10,524.69 L127.30,524.69 L127.50,524.69 L127.70,524.68 L127.90,524.68 L128.10,524.68 L128.30,524.68 L128.50,524.67 L128.70,524.67 L128.90,524.67 L129.10,524.66 L129.30,524.66 L129.50,524.66 L129.70,524.66 L129.90,524.65 L130.10,524.65 L130.30,524.64 L130.50,524.64 L130.70,524.64 L130.90,524.63 L131.10,524.63 L131.30,524.63 L131.50,524.62 L131.70,524.62 L131.90,524.61 L132.10,524.61 L132.30,524.60 L132.50,524.60 L132.70,524.59 L132.90,524.59 L133.10,524.58 L133.30,524.58 L133.50,524.57 L133.70,524.57 L133.90,524.56 L134.10,524.56 L134.30,524.55 L134.50,524.54 L134.70,524.54 L134.90,524.53 L135.10,524.52 L135.30,524.52 L135.50,524.51 L135.70,524.50 L135.90,524.49 L136.10,524.49 L136.30,524.48 L136.50,524.47 L136.70,524.46 L136.90,524.45 L137.10,524.44 L137.30,524.43 L137.50,524.42 L137.70,524.41 L137.90,524.40 L138.10,524.39 L138.30,524.38 L138.50,524.37 L138.70,524.35 L138.90,524.34 L139.10,524.33 L139.30,524.31 L139.50,524.30 L139.70,524.29 L139.90,524.27 L140.10,524.25 L140.30,524.24 L140.50,524.22 L140.70,524.20 L140.90,524.19 L141.10,524.17 L141.30,524.15 L141.50,524.13 L141.70,524.10 L141.90,524.08 L142.10,524.06 L142.30,524.03 L142.50,524.01 L142.70,523.98 L142.90,523.95 L143.10,523.93 L143.30,523.90 L143.50,523.86 L143.70,523.83 L143.90,523.80 L144.10,523.76 L144.30,523.72 L144.50,523.68 L144.70,523.64 L144.90,523.59 L145.10,523.55 L145.30,523.50 L145.50,523.45 L145.70,523.39 L145.90,523.33 L146.10,523.27 L146.30,523.21 L146.50,523.14 L146.70,523.07 L146.90,522.99 L147.10,522.91 L147.30,522.82 L147.50,522.73 L147.70,522.63 L147.90,522.52 L148.10,522.41 L148.30,522.28 L148.50,522.15 L148.70,522.01 L148.90,521.86 L149.10,521.69 L149.30,521.52 L149.50,521.32 L149.70,521.11 L149.90,520.88 L150.10,520.63 L150.30,520.35 L150.50,520.04 L150.70,519.70 L150.90,519.31 L151.10,518.88 L151.30,518.38 L151.50,517.82 L151.70,517.17 L151.90,516.41 L152.10,515.53 L152.30,514.50 L152.50,513.29 L152.70,511.87 L152.90,510.19 L153.10,508.23 L153.30,505.93 L153.50,503.24 L153.70,500.11 L153.90,496.49 L154.10,492.31 L154.30,487.52 L154.50,482.04 L154.70,475.85 L154.90,468.90 L155.10,461.25 L155.30,453.04 L155.50,444.59 L155.70,436.50 L155.90,429.61 L156.10,424.91 L156.30,423.23 L156.50,424.90 L156.70,429.59 L156.90,436.46 L157.10,444.54 L157.30,452.97 L157.50,461.17 L157.70,468.81 L157.90,475.74 L158.10,481.93 L158.30,487.39 L158.50,492.17 L158.70,496.33 L158.90,499.94 L159.10,503.05 L159.30,505.73 L159.50,508.01 L159.70,509.96 L159.90,511.62 L160.10,513.02 L160.30,514.22 L160.50,515.23 L160.70,516.09 L160.90,516.83 L161.10,517.46 L161.30,518.01 L161.50,518.48 L161.70,518.90 L161.90,519.26 L162.10,519.58 L162.30,519.86 L162.50,520.12 L162.70,520.34 L162.90,520.54 L163.10,520.73 L163.30,520.89 L163.50,521.04 L163.70,521.17 L163.90,521.28 L164.10,521.39 L164.30,521.48 L164.50,521.56 L164.70,521.63 L164.90,521.69 L165.10,521.74 L165.30,521.78 L165.50,521.81 L165.70,521.83 L165.90,521.85 L166.10,521.85 L166.30,521.84 L166.50,521.83 L166.70,521.81 L166.90,521.77 L167.10,521.73 L167.30,521.67 L167.50,521.61 L167.70,521.53 L167.90,521.44 L168.10,521.33 L168.30,521.20 L168.50,521.06 L168.70,520.90 L168.90,520.71 L169.10,520.49 L169.30,520.24 L169.50,519.95 L169.70,519.61 L169.90,519.21 L170.10,518.74 L170.30,518.19 L170.50,517.53 L170.70,516.74 L170.90,515.80 L171.10,514.67 L171.30,513.33 L171.50,511.73 L171.70,509.83 L171.90,507.60 L172.10,504.97 L172.30,501.90 L172.50,498.34 L172.70,494.22 L172.90,489.52 L173.10,484.19 L173.30,478.28 L173.50,471.93 L173.70,465.45 L173.90,459.41 L174.10,454.63 L174.30,451.95 L174.50,451.97 L174.70,454.66 L174.90,459.47 L175.10,465.53 L175.30,472.04 L175.50,478.42 L175.70,484.35 L175.90,489.70 L176.10,494.43 L176.30,498.57 L176.50,502.16 L176.70,505.26 L176.90,507.91 L177.10,510.18 L177.30,512.10 L177.50,513.73 L177.70,515.10 L177.90,516.25 L178.10,517.23 L178.30,518.05 L178.50,518.74 L178.70,519.33 L178.90,519.83 L179.10,520.26 L179.30,520.64 L179.50,520.96 L179.70,521.25 L179.90,521.51 L180.10,521.74 L180.30,521.94 L180.50,522.13 L180.70,522.30 L180.90,522.46 L181.10,522.60 L181.30,522.73 L181.50,522.85 L181.70,522.96 L181.90,523.07 L182.10,523.16 L182.30,523.25 L182.50,523.33 L182.70,523.41 L182.90,523.48 L183.10,523.55 L183.30,523.62 L183.50,523.68 L183.70,523.73 L183.90,523.79 L184.10,523.84 L184.30,523.88 L184.50,523.93 L184.70,523.97 L184.90,524.01 L185.10,524.05 L185.30,524.09 L185.50,524.12 L185.70,524.15 L185.90,524.19 L186.10,524.22 L186.30,524.24 L186.50,524.27 L186.70,524.30 L186.90,524.32 L187.10,524.35 L187.30,524.37 L187.50,524.39 L187.70,524.41 L187.90,524.43 L188.10,524.45 L188.30,524.47 L188.50,524.49 L188.70,524.51 L188.90,524.52 L189.10,524.54 L189.30,524.56 L189.50,524.57 L189.70,524.58 L189.90,524.60 L190.10,524.61 L190.30,524.63 L190.50,524.64 L190.70,524.65 L190.90,524.66 L191.10,524.67 L191.30,524.69 L191.50,524.70 L191.70,524.71 L191.90,524.72 L192.10,524.73 L192.30,524.74 L192.50,524.75 L192.70,524.76 L192.90,524.77 L193.10,524.77 L193.30,524.78 L193.50,524.79 L193.70,524.80 L193.90,524.81 L194.10,524.81 L194.30,524.82 L194.50,524.83 L194.70,524.84 L194.90,524.84 L195.10,524.85 L195.30,524.86 L195.50,524.86 L195.70,524.87 L195.90,524.88 L196.10,524.88 L196.30,524.89 L196.50,524.89 L196.70,524.90 L196.90,524.90 L197.10,524.91 L197.30,524.92 L197.50,524.92 L197.70,524.93 L197.90,524.93 L198.10,524.94 L198.30,524.94 L198.50,524.95 L198.70,524.95 L198.90,524.95 L199.10,524.96 L199.30,524.96 L199.50,524.97 L199.70,524.97 L199.90,524.98 L200.10,524.98 L200.30,524.98 L200.50,524.99 L200.70,524.99 L200.90,525.00 L201.10,525.00 L201.30,525.00 L201.50,525.01 L201.70,525.01 L201.90,525.02" fill="none" stroke="#d81e1e" stroke-width="0.9" stroke-linecap="round" stroke-linejoin="round" opacity="0.8"/>
<rect x="42.00" y="441.20" width="83.70" height="59.40" fill="white" stroke="#a0a0a0" stroke-width="0.9"/>
<g fill="none" stroke="#4a4ab8" stroke-width="0.75"><circle cx="42.7" cy="488.8" r="0.9"/><circle cx="43.8" cy="489.0" r="0.9"/><circle cx="44.9" cy="487.7" r="0.9"/><circle cx="46.1" cy="487.6" r="0.9"/><circle cx="47.2" cy="488.3" r="0.9"/><circle cx="48.3" cy="489.0" r="0.9"/><circle cx="49.4" cy="488.2" r="0.9"/><circle cx="50.5" cy="487.2" r="0.9"/><circle cx="51.7" cy="487.4" r="0.9"/><circle cx="52.8" cy="487.7" r="0.9"/><circle cx="53.9" cy="488.2" r="0.9"/><circle cx="55.0" cy="487.6" r="0.9"/><circle cx="56.1" cy="487.3" r="0.9"/><circle cx="57.3" cy="487.3" r="0.9"/><circle cx="58.4" cy="487.5" r="0.9"/><circle cx="59.5" cy="486.8" r="0.9"/><circle cx="60.6" cy="487.2" r="0.9"/><circle cx="61.7" cy="487.3" r="0.9"/><circle cx="62.9" cy="488.0" r="0.9"/><circle cx="64.0" cy="486.9" r="0.9"/><circle cx="65.1" cy="487.4" r="0.9"/><circle cx="66.2" cy="486.1" r="0.9"/><circle cx="67.3" cy="487.1" r="0.9"/><circle cx="68.5" cy="486.7" r="0.9"/><circle cx="69.6" cy="486.2" r="0.9"/><circle cx="70.7" cy="486.4" r="0.9"/><circle cx="71.8" cy="486.8" r="0.9"/><circle cx="72.9" cy="485.9" r="0.9"/><circle cx="74.1" cy="486.5" r="0.9"/><circle cx="75.2" cy="486.5" r="0.9"/><circle cx="76.3" cy="486.2" r="0.9"/><circle cx="77.3" cy="485.8" r="0.9"/><circle cx="78.4" cy="483.7" r="0.9"/><circle cx="79.4" cy="483.9" r="0.9"/><circle cx="80.3" cy="482.8" r="0.9"/><circle cx="81.2" cy="482.8" r="0.9"/><circle cx="82.0" cy="481.7" r="0.9"/><circle cx="82.9" cy="480.9" r="0.9"/><circle cx="83.6" cy="480.1" r="0.9"/><circle cx="84.3" cy="478.9" r="0.9"/><circle cx="85.0" cy="478.2" r="0.9"/><circle cx="85.7" cy="477.0" r="0.9"/><circle cx="86.4" cy="476.9" r="0.9"/><circle cx="87.0" cy="475.1" r="0.9"/><circle cx="87.6" cy="474.2" r="0.9"/><circle cx="88.1" cy="472.6" r="0.9"/><circle cx="88.6" cy="471.7" r="0.9"/><circle cx="89.1" cy="470.7" r="0.9"/><circle cx="89.5" cy="470.0" r="0.9"/><circle cx="89.9" cy="468.9" r="0.9"/><circle cx="90.4" cy="467.6" r="0.9"/><circle cx="90.7" cy="466.4" r="0.9"/><circle cx="91.1" cy="465.7" r="0.9"/><circle cx="91.4" cy="464.0" r="0.9"/><circle cx="91.8" cy="462.8" r="0.9"/><circle cx="92.0" cy="461.9" r="0.9"/><circle cx="92.3" cy="460.5" r="0.9"/><circle cx="92.6" cy="459.4" r="0.9"/><circle cx="92.9" cy="458.2" r="0.9"/><circle cx="93.2" cy="456.7" r="0.9"/><circle cx="93.4" cy="455.3" r="0.9"/><circle cx="93.7" cy="454.2" r="0.9"/><circle cx="93.9" cy="453.0" r="0.9"/><circle cx="94.1" cy="451.5" r="0.9"/><circle cx="94.3" cy="450.6" r="0.9"/><circle cx="94.5" cy="449.7" r="0.9"/><circle cx="94.7" cy="448.3" r="0.9"/><circle cx="94.9" cy="447.4" r="0.9"/><circle cx="95.1" cy="446.4" r="0.9"/><circle cx="95.4" cy="445.2" r="0.9"/><circle cx="95.7" cy="443.6" r="0.9"/></g>
<path d="M42.70,489.10 C44.75,489.02 51.28,488.78 55.00,488.60 C58.72,488.42 61.90,488.25 65.00,488.00 C68.10,487.75 71.27,487.52 73.60,487.10 C75.93,486.68 77.20,486.28 79.00,485.50 C80.80,484.72 82.90,483.82 84.40,482.40 C85.90,480.98 86.88,479.02 88.00,477.00 C89.12,474.98 90.18,472.80 91.10,470.30 C92.02,467.80 92.82,464.47 93.50,462.00 C94.18,459.53 94.70,457.67 95.20,455.50 C95.70,453.33 96.10,451.00 96.50,449.00 C96.90,447.00 97.42,444.42 97.60,443.50" fill="none" stroke="#d81e1e" stroke-width="1.4" stroke-linecap="round" stroke-linejoin="round"/>
<g fill="none" stroke="#4a4ab8" stroke-width="0.75"><circle cx="112.7" cy="443.6" r="0.9"/><circle cx="112.9" cy="444.8" r="0.9"/><circle cx="113.1" cy="446.6" r="0.9"/><circle cx="113.3" cy="447.6" r="0.9"/><circle cx="113.5" cy="448.9" r="0.9"/><circle cx="113.7" cy="450.3" r="0.9"/><circle cx="114.0" cy="451.6" r="0.9"/><circle cx="114.2" cy="452.9" r="0.9"/><circle cx="114.4" cy="454.3" r="0.9"/><circle cx="114.6" cy="455.5" r="0.9"/><circle cx="114.8" cy="456.9" r="0.9"/><circle cx="115.1" cy="458.5" r="0.9"/><circle cx="115.4" cy="460.1" r="0.9"/><circle cx="115.6" cy="461.8" r="0.9"/><circle cx="115.9" cy="463.5" r="0.9"/><circle cx="116.2" cy="465.1" r="0.9"/><circle cx="116.5" cy="467.0" r="0.9"/></g>
<path d="M112.70,443.50 C113.00,445.42 113.83,450.87 114.50,455.00 C115.17,459.13 116.33,466.08 116.70,468.30" fill="none" stroke="#d81e1e" stroke-width="1.3" stroke-linecap="round" stroke-linejoin="round"/>
<path d="M110.00,443.50 C110.50,446.25 111.88,454.30 113.00,460.00 C114.12,465.70 116.08,474.75 116.70,477.70" fill="none" stroke="#d8a8a8" stroke-width="0.6" stroke-linecap="round" stroke-linejoin="round"/>
<path d="M71.60,489.80 C72.08,489.58 73.60,488.83 74.50,488.50 C75.40,488.17 76.17,487.75 77.00,487.80 C77.83,487.85 78.72,488.35 79.50,488.80 C80.28,489.25 81.33,490.22 81.70,490.50" fill="none" stroke="#d81e1e" stroke-width="1.2" stroke-linecap="round" stroke-linejoin="round"/>
<line x1="77.00" y1="463.60" x2="77.00" y2="471.00" stroke="#111" stroke-width="1.3"/>
<path d="M74.2,468.3 L77.0,470.6 L79.8,468.3 L77.0,477.7 Z" fill="#111"/>
<line x1="51.40" y1="497.20" x2="67.60" y2="497.20" stroke="#333" stroke-width="0.9"/>
<line x1="51.40" y1="494.50" x2="51.40" y2="499.80" stroke="#333" stroke-width="0.9"/>
<line x1="67.60" y1="494.50" x2="67.60" y2="499.80" stroke="#333" stroke-width="0.9"/>
<text x="59.5" y="496.8" font-size="7.0" text-anchor="middle" fill="#2a2a2a" font-weight="normal">20</text>
<text x="51.2" y="510.0" font-size="8.2" text-anchor="middle" fill="#2a2a2a" font-weight="normal" textLength="17.0" lengthAdjust="spacingAndGlyphs">3240</text>
<text x="84.0" y="510.0" font-size="8.2" text-anchor="middle" fill="#2a2a2a" font-weight="normal" textLength="18.7" lengthAdjust="spacingAndGlyphs">3280</text>
<text x="116.7" y="510.0" font-size="8.2" text-anchor="middle" fill="#2a2a2a" font-weight="normal" textLength="18.4" lengthAdjust="spacingAndGlyphs">3320</text>
<line x1="93.40" y1="537.75" x2="123.80" y2="537.75" stroke="#333" stroke-width="1.3"/>
<line x1="93.40" y1="534.60" x2="93.40" y2="540.90" stroke="#333" stroke-width="1.3"/>
<line x1="123.80" y1="534.60" x2="123.80" y2="540.90" stroke="#333" stroke-width="1.3"/>
<text x="108.0" y="535.9" font-size="9.8" text-anchor="middle" fill="#2a2a2a" font-weight="normal" textLength="14.2" lengthAdjust="spacingAndGlyphs">100</text>
<text x="222.8" y="476.7" font-size="12.5" text-anchor="start" fill="#2a2a2a" font-weight="normal" textLength="47.1" lengthAdjust="spacingAndGlyphs">ambient</text>
<circle cx="242.3" cy="492.0" r="2.1" fill="none" stroke="#1818a0" stroke-width="1.3"/>
<text x="214.7" y="500.0" font-size="7.5" text-anchor="start" fill="#2a2a2a" font-weight="normal" textLength="58.6" lengthAdjust="spacingAndGlyphs">experimental data</text>
<line x1="229.20" y1="511.10" x2="256.10" y2="511.10" stroke="#e41414" stroke-width="1.6"/>
<text x="215.9" y="518.5" font-size="7.5" text-anchor="start" fill="#2a2a2a" font-weight="normal" textLength="54.0" lengthAdjust="spacingAndGlyphs">deconvolution fit</text>
<line x1="472.20" y1="107.80" x2="513.70" y2="107.80" stroke="#d8d8d8" stroke-width="0.8"/>
<line x1="525.50" y1="107.80" x2="568.20" y2="107.80" stroke="#d8d8d8" stroke-width="0.8"/>
<rect x="513.70" y="45.00" width="11.80" height="114.50" fill="none" stroke="#e2e2e2" stroke-width="0.8"/>
<rect x="547.20" y="45.00" width="5.30" height="114.50" fill="none" stroke="#e2e2e2" stroke-width="0.8"/>
<rect x="516.20" y="48.70" width="3.00" height="93.80" fill="#e41414"/><circle cx="517.70" cy="48.70" r="1.50" fill="#e41414"/>
<rect x="516.20" y="142.50" width="3.00" height="15.70" fill="#e619e6"/>
<rect x="521.00" y="153.60" width="2.40" height="4.60" fill="#e619e6"/>
<rect x="547.50" y="133.20" width="2.60" height="15.30" fill="#e41414"/><circle cx="548.80" cy="133.20" r="1.30" fill="#e41414"/>
<rect x="550.10" y="148.00" width="2.60" height="10.20" fill="#e619e6"/>
<rect x="369.40" y="61.40" width="102.80" height="79.60" fill="white" stroke="#8e8e8e" stroke-width="0.9"/>
<rect x="420.3" y="59.9" width="5" height="3" fill="white"/>
<line x1="420.20" y1="63.00" x2="422.20" y2="59.80" stroke="#555" stroke-width="0.7"/>
<line x1="423.20" y1="63.00" x2="425.20" y2="59.80" stroke="#555" stroke-width="0.7"/>
<rect x="420.3" y="139.5" width="5" height="3" fill="white"/>
<line x1="420.20" y1="142.60" x2="422.20" y2="139.40" stroke="#555" stroke-width="0.7"/>
<line x1="423.20" y1="142.60" x2="425.20" y2="139.40" stroke="#555" stroke-width="0.7"/>
<rect x="393.15" y="68.60" width="1.50" height="72.40" fill="#d83838"/>
<rect x="386.65" y="127.30" width="1.50" height="13.70" fill="#e619e6"/>
<rect x="446.75" y="134.20" width="1.10" height="6.80" fill="#e619e6"/>
<rect x="449.65" y="134.20" width="1.10" height="6.80" fill="#e619e6"/>
<text x="391.0" y="69.6" font-size="8.5" fill="#2a2a2a" textLength="10.0" lengthAdjust="spacingAndGlyphs">A<tspan font-size="6.6" dy="2">g</tspan></text>
<text x="380.6" y="123.4" font-size="8.5" fill="#2a2a2a" textLength="11.7" lengthAdjust="spacingAndGlyphs">B<tspan font-size="6.6" dy="2">1g</tspan></text>
<text x="438.3" y="129.3" font-size="8.5" fill="#2a2a2a" textLength="11.7" lengthAdjust="spacingAndGlyphs">B<tspan font-size="6.6" dy="2">3g</tspan></text>
<text x="450.0" y="125.4" font-size="8.5" fill="#2a2a2a" textLength="10.8" lengthAdjust="spacingAndGlyphs">B<tspan font-size="6.6" dy="2">2g</tspan></text>
<text x="369.4" y="149.8" font-size="9.0" text-anchor="start" fill="#2a2a2a" font-weight="normal" textLength="20.0" lengthAdjust="spacingAndGlyphs">3405</text>
<text x="392.3" y="149.8" font-size="9.0" text-anchor="start" fill="#2a2a2a" font-weight="normal" textLength="20.2" lengthAdjust="spacingAndGlyphs">3409</text>
<text x="427.5" y="149.8" font-size="9.0" text-anchor="start" fill="#2a2a2a" font-weight="normal" textLength="19.5" lengthAdjust="spacingAndGlyphs">3419</text>
<text x="451.0" y="149.8" font-size="9.0" text-anchor="start" fill="#2a2a2a" font-weight="normal" textLength="20.0" lengthAdjust="spacingAndGlyphs">3423</text>
<text x="409.0" y="102.9" font-size="9.5" fill="#2a2a2a" textLength="32.0" lengthAdjust="spacingAndGlyphs">14 cm<tspan dy="-4" font-size="5.7">-1</tspan></text>
<line x1="402.70" y1="108.70" x2="441.80" y2="108.70" stroke="#222" stroke-width="2.0"/>
<rect x="568.20" y="61.40" width="57.10" height="80.80" fill="white" stroke="#8e8e8e" stroke-width="0.9"/>
<rect x="574.95" y="106.50" width="1.50" height="35.50" fill="#d83838"/>
<rect x="577.25" y="118.60" width="1.50" height="23.40" fill="#d83838"/>
<rect x="611.90" y="126.00" width="2.20" height="12.50" fill="#e619e6"/>
<text x="570.8" y="105.0" font-size="8.5" fill="#2a2a2a" textLength="14.7" lengthAdjust="spacingAndGlyphs">B<tspan font-size="6.6" dy="2">1g</tspan></text>
<text x="578.0" y="116.7" font-size="8.5" fill="#2a2a2a" textLength="9.8" lengthAdjust="spacingAndGlyphs">A<tspan font-size="6.6" dy="2">g</tspan></text>
<text x="601.0" y="122.5" font-size="8.5" fill="#2a2a2a" textLength="12.0" lengthAdjust="spacingAndGlyphs">B<tspan font-size="6.6" dy="2">3g</tspan></text>
<text x="610.0" y="119.6" font-size="8.5" fill="#2a2a2a" textLength="12.3" lengthAdjust="spacingAndGlyphs">B<tspan font-size="6.6" dy="2">2g</tspan></text>
<line x1="575.30" y1="146.50" x2="620.40" y2="146.50" stroke="#222" stroke-width="1.5"/>
<line x1="575.30" y1="143.50" x2="575.30" y2="149.50" stroke="#222" stroke-width="1.2"/>
<line x1="620.40" y1="143.50" x2="620.40" y2="149.50" stroke="#222" stroke-width="1.2"/>
<text x="585.0" y="157.8" font-size="9.5" fill="#2a2a2a" textLength="27.0" lengthAdjust="spacingAndGlyphs">7 cm<tspan dy="-4" font-size="5.7">-1</tspan></text>
<line x1="471.60" y1="227.00" x2="507.20" y2="227.00" stroke="#d8d8d8" stroke-width="0.8"/>
<line x1="519.20" y1="227.00" x2="568.60" y2="227.00" stroke="#d8d8d8" stroke-width="0.8"/>
<rect x="507.20" y="171.00" width="12.00" height="104.70" fill="none" stroke="#e2e2e2" stroke-width="0.8"/>
<rect x="540.50" y="171.00" width="5.70" height="104.70" fill="none" stroke="#e2e2e2" stroke-width="0.8"/>
<rect x="511.20" y="174.50" width="3.00" height="92.10" fill="#e41414"/><circle cx="512.70" cy="174.50" r="1.50" fill="#e41414"/>
<rect x="511.20" y="266.60" width="3.00" height="8.60" fill="#e619e6"/>
<rect x="515.10" y="271.80" width="2.40" height="3.40" fill="#e619e6"/>
<rect x="541.00" y="262.70" width="2.60" height="12.50" fill="#e41414"/><circle cx="542.30" cy="262.70" r="1.30" fill="#e41414"/>
<rect x="543.20" y="270.50" width="2.40" height="4.70" fill="#e619e6"/>
<rect x="369.20" y="180.50" width="102.40" height="79.50" fill="white" stroke="#8e8e8e" stroke-width="0.9"/>
<rect x="420.3" y="179.0" width="5" height="3" fill="white"/>
<line x1="420.20" y1="182.10" x2="422.20" y2="178.90" stroke="#555" stroke-width="0.7"/>
<line x1="423.20" y1="182.10" x2="425.20" y2="178.90" stroke="#555" stroke-width="0.7"/>
<rect x="420.3" y="258.5" width="5" height="3" fill="white"/>
<line x1="420.20" y1="261.60" x2="422.20" y2="258.40" stroke="#555" stroke-width="0.7"/>
<line x1="423.20" y1="261.60" x2="425.20" y2="258.40" stroke="#555" stroke-width="0.7"/>
<rect x="393.55" y="191.00" width="1.50" height="69.00" fill="#e41414"/>
<rect x="387.85" y="248.60" width="1.50" height="9.40" fill="#e619e6"/>
<rect x="447.05" y="252.40" width="1.10" height="5.60" fill="#e619e6"/>
<rect x="450.05" y="252.40" width="1.10" height="5.60" fill="#e619e6"/>
<text x="391.0" y="190.0" font-size="8.5" fill="#2a2a2a" textLength="10.0" lengthAdjust="spacingAndGlyphs">A<tspan font-size="6.6" dy="2">g</tspan></text>
<text x="380.6" y="244.4" font-size="8.5" fill="#2a2a2a" textLength="11.7" lengthAdjust="spacingAndGlyphs">B<tspan font-size="6.6" dy="2">1g</tspan></text>
<text x="438.0" y="247.3" font-size="8.5" fill="#2a2a2a" textLength="11.7" lengthAdjust="spacingAndGlyphs">B<tspan font-size="6.6" dy="2">3g</tspan></text>
<text x="450.4" y="246.0" font-size="8.5" fill="#2a2a2a" textLength="11.0" lengthAdjust="spacingAndGlyphs">B<tspan font-size="6.6" dy="2">2g</tspan></text>
<text x="369.0" y="270.2" font-size="9.0" text-anchor="start" fill="#2a2a2a" font-weight="normal" textLength="20.0" lengthAdjust="spacingAndGlyphs">3388</text>
<text x="394.0" y="270.2" font-size="9.0" text-anchor="start" fill="#2a2a2a" font-weight="normal" textLength="18.5" lengthAdjust="spacingAndGlyphs">3391</text>
<text x="429.0" y="270.2" font-size="9.0" text-anchor="start" fill="#2a2a2a" font-weight="normal" textLength="19.0" lengthAdjust="spacingAndGlyphs">3400</text>
<text x="452.5" y="270.2" font-size="9.0" text-anchor="start" fill="#2a2a2a" font-weight="normal" textLength="19.5" lengthAdjust="spacingAndGlyphs">3404</text>
<text x="410.0" y="221.0" font-size="9.5" fill="#2a2a2a" textLength="30.0" lengthAdjust="spacingAndGlyphs">12 cm<tspan dy="-4" font-size="5.7">-1</tspan></text>
<line x1="402.40" y1="226.80" x2="442.00" y2="226.80" stroke="#222" stroke-width="2.0"/>
<rect x="568.60" y="180.30" width="57.00" height="80.70" fill="white" stroke="#8e8e8e" stroke-width="0.9"/>
<rect x="576.95" y="234.00" width="1.50" height="24.30" fill="#e41414"/>
<rect x="580.55" y="242.70" width="1.50" height="15.60" fill="#e41414"/>
<rect x="611.35" y="249.70" width="1.10" height="8.30" fill="#e619e6"/>
<rect x="613.75" y="249.70" width="1.10" height="8.30" fill="#e619e6"/>
<text x="573.8" y="229.7" font-size="8.5" fill="#2a2a2a" textLength="12.2" lengthAdjust="spacingAndGlyphs">B<tspan font-size="6.6" dy="2">1g</tspan></text>
<text x="580.8" y="240.6" font-size="8.5" fill="#2a2a2a" textLength="9.9" lengthAdjust="spacingAndGlyphs">A<tspan font-size="6.6" dy="2">g</tspan></text>
<text x="599.0" y="247.0" font-size="8.5" fill="#2a2a2a" textLength="11.7" lengthAdjust="spacingAndGlyphs">B<tspan font-size="6.6" dy="2">3g</tspan></text>
<text x="610.0" y="245.3" font-size="8.5" fill="#2a2a2a" textLength="12.4" lengthAdjust="spacingAndGlyphs">B<tspan font-size="6.6" dy="2">2g</tspan></text>
<line x1="577.70" y1="265.30" x2="617.20" y2="265.30" stroke="#222" stroke-width="1.5"/>
<line x1="577.70" y1="262.30" x2="577.70" y2="268.30" stroke="#222" stroke-width="1.2"/>
<line x1="617.20" y1="262.30" x2="617.20" y2="268.30" stroke="#222" stroke-width="1.2"/>
<text x="586.0" y="276.5" font-size="9.5" fill="#2a2a2a" textLength="26.0" lengthAdjust="spacingAndGlyphs">6 cm<tspan dy="-4" font-size="5.7">-1</tspan></text>
<line x1="472.60" y1="350.00" x2="496.70" y2="350.00" stroke="#d8d8d8" stroke-width="0.8"/>
<line x1="503.90" y1="350.00" x2="567.60" y2="350.00" stroke="#d8d8d8" stroke-width="0.8"/>
<rect x="496.70" y="302.00" width="7.20" height="105.90" fill="none" stroke="#e2e2e2" stroke-width="0.8"/>
<rect x="522.10" y="302.00" width="6.20" height="105.90" fill="none" stroke="#e2e2e2" stroke-width="0.8"/>
<rect x="498.10" y="306.80" width="3.00" height="93.40" fill="#e41414"/><circle cx="499.60" cy="306.80" r="1.50" fill="#e41414"/>
<rect x="498.10" y="400.20" width="3.00" height="7.50" fill="#e619e6"/>
<rect x="500.80" y="403.70" width="2.40" height="4.00" fill="#e619e6"/>
<rect x="523.50" y="393.50" width="2.60" height="8.90" fill="#e41414"/><circle cx="524.80" cy="393.50" r="1.30" fill="#e41414"/>
<rect x="523.50" y="402.40" width="2.60" height="5.30" fill="#e619e6"/>
<rect x="369.80" y="302.70" width="102.80" height="78.90" fill="white" stroke="#8e8e8e" stroke-width="0.9"/>
<rect x="420.3" y="301.2" width="5" height="3" fill="white"/>
<line x1="420.20" y1="304.30" x2="422.20" y2="301.10" stroke="#555" stroke-width="0.7"/>
<line x1="423.20" y1="304.30" x2="425.20" y2="301.10" stroke="#555" stroke-width="0.7"/>
<rect x="420.3" y="380.1" width="5" height="3" fill="white"/>
<line x1="420.20" y1="383.20" x2="422.20" y2="380.00" stroke="#555" stroke-width="0.7"/>
<line x1="423.20" y1="383.20" x2="425.20" y2="380.00" stroke="#555" stroke-width="0.7"/>
<rect x="395.45" y="311.10" width="1.50" height="70.50" fill="#e41414"/>
<rect x="390.90" y="373.20" width="1.80" height="5.80" fill="#e619e6"/>
<rect x="444.00" y="375.00" width="1.20" height="4.00" fill="#e619e6"/>
<rect x="447.40" y="375.00" width="1.20" height="4.00" fill="#e619e6"/>
<text x="393.3" y="310.2" font-size="8.5" fill="#2a2a2a" textLength="10.0" lengthAdjust="spacingAndGlyphs">A<tspan font-size="6.6" dy="2">g</tspan></text>
<text x="382.5" y="368.3" font-size="8.5" fill="#2a2a2a" textLength="11.7" lengthAdjust="spacingAndGlyphs">B<tspan font-size="6.6" dy="2">1g</tspan></text>
<text x="434.4" y="370.3" font-size="8.5" fill="#2a2a2a" textLength="11.7" lengthAdjust="spacingAndGlyphs">B<tspan font-size="6.6" dy="2">3g</tspan></text>
<text x="447.5" y="369.3" font-size="8.5" fill="#2a2a2a" textLength="12.0" lengthAdjust="spacingAndGlyphs">B<tspan font-size="6.6" dy="2">2g</tspan></text>
<text x="369.8" y="391.8" font-size="9.0" text-anchor="start" fill="#2a2a2a" font-weight="normal" textLength="20.2" lengthAdjust="spacingAndGlyphs">3346</text>
<text x="393.3" y="391.8" font-size="9.0" text-anchor="start" fill="#2a2a2a" font-weight="normal" textLength="19.6" lengthAdjust="spacingAndGlyphs">3349</text>
<text x="428.5" y="391.8" font-size="9.0" text-anchor="start" fill="#2a2a2a" font-weight="normal" textLength="19.5" lengthAdjust="spacingAndGlyphs">3354</text>
<text x="452.0" y="391.8" font-size="9.0" text-anchor="start" fill="#2a2a2a" font-weight="normal" textLength="20.0" lengthAdjust="spacingAndGlyphs">3358</text>
<text x="408.0" y="345.8" font-size="9.5" fill="#2a2a2a" textLength="27.4" lengthAdjust="spacingAndGlyphs">8 cm<tspan dy="-4" font-size="5.7">-1</tspan></text>
<line x1="402.00" y1="352.60" x2="441.20" y2="352.60" stroke="#222" stroke-width="2.0"/>
<rect x="567.60" y="302.00" width="57.50" height="81.10" fill="white" stroke="#8e8e8e" stroke-width="0.9"/>
<rect x="582.35" y="357.70" width="1.50" height="22.70" fill="#e05a5a"/>
<rect x="586.35" y="362.20" width="1.50" height="18.20" fill="#e41414"/>
<rect x="604.30" y="371.60" width="1.40" height="8.80" fill="#e619e6"/>
<rect x="609.20" y="371.60" width="1.40" height="8.80" fill="#e619e6"/>
<text x="575.1" y="348.3" font-size="8.5" fill="#2a2a2a" textLength="12.6" lengthAdjust="spacingAndGlyphs">B<tspan font-size="6.6" dy="2">1g</tspan></text>
<text x="585.0" y="360.0" font-size="8.5" fill="#2a2a2a" textLength="10.2" lengthAdjust="spacingAndGlyphs">A<tspan font-size="6.6" dy="2">g</tspan></text>
<text x="597.0" y="367.6" font-size="8.5" fill="#2a2a2a" textLength="12.0" lengthAdjust="spacingAndGlyphs">B<tspan font-size="6.6" dy="2">3g</tspan></text>
<text x="608.5" y="366.3" font-size="8.5" fill="#2a2a2a" textLength="12.6" lengthAdjust="spacingAndGlyphs">B<tspan font-size="6.6" dy="2">2g</tspan></text>
<line x1="580.40" y1="386.30" x2="614.40" y2="386.30" stroke="#222" stroke-width="1.5"/>
<line x1="580.40" y1="383.30" x2="580.40" y2="389.30" stroke="#222" stroke-width="1.2"/>
<line x1="614.40" y1="383.30" x2="614.40" y2="389.30" stroke="#222" stroke-width="1.2"/>
<text x="585.0" y="398.4" font-size="9.5" fill="#2a2a2a" textLength="28.0" lengthAdjust="spacingAndGlyphs">3 cm<tspan dy="-4" font-size="5.7">-1</tspan></text>
<line x1="472.10" y1="476.40" x2="487.60" y2="476.40" stroke="#d8d8d8" stroke-width="0.8"/>
<line x1="494.10" y1="476.40" x2="568.40" y2="476.40" stroke="#d8d8d8" stroke-width="0.8"/>
<rect x="487.60" y="429.20" width="6.50" height="105.10" fill="none" stroke="#e2e2e2" stroke-width="0.8"/>
<rect x="510.20" y="429.20" width="4.30" height="105.10" fill="none" stroke="#e2e2e2" stroke-width="0.8"/>
<rect x="489.20" y="433.50" width="3.00" height="97.00" fill="#e41414"/><circle cx="490.70" cy="433.50" r="1.50" fill="#e41414"/>
<rect x="489.20" y="530.00" width="3.00" height="4.20" fill="#e619e6"/>
<rect x="511.20" y="518.10" width="2.60" height="12.40" fill="#e41414"/><circle cx="512.50" cy="518.10" r="1.30" fill="#e41414"/>
<rect x="511.20" y="530.00" width="2.60" height="4.20" fill="#e619e6"/>
<text x="378.75" y="424.6" font-size="9.2" fill="#111" font-weight="bold" textLength="53.5" lengthAdjust="spacingAndGlyphs">symmetrical</text>
<text x="435.0" y="424.6" font-size="9.2" text-anchor="start" fill="#444" font-weight="normal" textLength="30.0" lengthAdjust="spacingAndGlyphs">stretch</text>
<text x="549.2" y="424.7" font-size="9.2" fill="#111" font-weight="bold" textLength="58.5" lengthAdjust="spacingAndGlyphs">asymmetrical</text>
<text x="610.0" y="424.7" font-size="9.2" text-anchor="start" fill="#444" font-weight="normal" textLength="30.5" lengthAdjust="spacingAndGlyphs">stretch</text>
<rect x="369.30" y="429.70" width="102.80" height="84.00" fill="white" stroke="#8e8e8e" stroke-width="0.9"/>
<rect x="420.3" y="428.2" width="5" height="3" fill="white"/>
<line x1="420.20" y1="431.30" x2="422.20" y2="428.10" stroke="#555" stroke-width="0.7"/>
<line x1="423.20" y1="431.30" x2="425.20" y2="428.10" stroke="#555" stroke-width="0.7"/>
<rect x="420.3" y="512.2" width="5" height="3" fill="white"/>
<line x1="420.20" y1="515.30" x2="422.20" y2="512.10" stroke="#555" stroke-width="0.7"/>
<line x1="423.20" y1="515.30" x2="425.20" y2="512.10" stroke="#555" stroke-width="0.7"/>
<rect x="393.00" y="439.00" width="1.50" height="66.00" fill="#e41414"/>
<ellipse cx="393.75" cy="505.3" rx="1.4" ry="2" fill="#e619e6"/>
<ellipse cx="444.4" cy="504.7" rx="1.4" ry="2" fill="#e619e6"/>
<text x="391.0" y="437.2" font-size="8.5" fill="#2a2a2a" textLength="10.0" lengthAdjust="spacingAndGlyphs">A<tspan font-size="6.6" dy="2">g</tspan></text>
<text x="378.8" y="494.0" font-size="8.5" fill="#2a2a2a" textLength="12.3" lengthAdjust="spacingAndGlyphs">B<tspan font-size="6.6" dy="2">1g</tspan></text>
<text x="432.8" y="493.4" font-size="8.5" fill="#2a2a2a" textLength="12.5" lengthAdjust="spacingAndGlyphs">B<tspan font-size="6.6" dy="2">3g</tspan></text>
<text x="451.0" y="492.5" font-size="8.5" fill="#2a2a2a" textLength="11.8" lengthAdjust="spacingAndGlyphs">B<tspan font-size="6.6" dy="2">2g</tspan></text>
<line x1="387.50" y1="497.50" x2="392.80" y2="503.00" stroke="#777" stroke-width="0.6"/>
<line x1="440.00" y1="497.50" x2="444.00" y2="503.00" stroke="#777" stroke-width="0.6"/>
<line x1="455.50" y1="497.00" x2="445.00" y2="503.00" stroke="#777" stroke-width="0.6"/>
<text x="407.8" y="468.0" font-size="9.5" fill="#2a2a2a" textLength="26.2" lengthAdjust="spacingAndGlyphs">3 cm<tspan dy="-4" font-size="5.7">-1</tspan></text>
<line x1="401.25" y1="475.00" x2="436.00" y2="475.00" stroke="#222" stroke-width="2.0"/>
<line x1="381.50" y1="510.00" x2="389.60" y2="510.00" stroke="#333" stroke-width="0.9"/>
<line x1="381.50" y1="508.00" x2="381.50" y2="512.00" stroke="#333" stroke-width="1.2"/>
<line x1="389.60" y1="508.00" x2="389.60" y2="512.00" stroke="#333" stroke-width="1.2"/>
<text x="385.5" y="507.6" font-size="7.0" text-anchor="middle" fill="#2a2a2a" font-weight="normal">1</text>
<line x1="451.50" y1="510.00" x2="463.70" y2="510.00" stroke="#333" stroke-width="0.9"/>
<line x1="451.50" y1="508.00" x2="451.50" y2="512.00" stroke="#333" stroke-width="1.2"/>
<line x1="463.70" y1="508.00" x2="463.70" y2="512.00" stroke="#333" stroke-width="1.2"/>
<text x="457.6" y="507.6" font-size="7.0" text-anchor="middle" fill="#2a2a2a" font-weight="normal">2</text>
<text x="371.1" y="523.7" font-size="9.0" text-anchor="start" fill="#2a2a2a" font-weight="normal" textLength="20.3" lengthAdjust="spacingAndGlyphs">3314</text>
<text x="395.0" y="523.7" font-size="9.0" text-anchor="start" fill="#2a2a2a" font-weight="normal" textLength="18.8" lengthAdjust="spacingAndGlyphs">3317</text>
<text x="430.0" y="523.7" font-size="9.0" text-anchor="start" fill="#2a2a2a" font-weight="normal" textLength="19.7" lengthAdjust="spacingAndGlyphs">3318</text>
<text x="453.3" y="523.7" font-size="9.0" text-anchor="start" fill="#2a2a2a" font-weight="normal" textLength="19.7" lengthAdjust="spacingAndGlyphs">3322</text>
<line x1="423.10" y1="537.50" x2="453.80" y2="537.50" stroke="#222" stroke-width="1.4"/>
<line x1="423.10" y1="534.70" x2="423.10" y2="540.30" stroke="#222" stroke-width="1.2"/>
<line x1="453.80" y1="534.70" x2="453.80" y2="540.30" stroke="#222" stroke-width="1.2"/>
<text x="431.0" y="535.8" font-size="9.8" text-anchor="start" fill="#2a2a2a" font-weight="normal" textLength="14.6" lengthAdjust="spacingAndGlyphs">100</text>
<rect x="568.40" y="429.20" width="57.10" height="79.70" fill="white" stroke="#8e8e8e" stroke-width="0.9"/>
<rect x="578.10" y="493.30" width="1.60" height="12.70" fill="#e619e6"/>
<rect x="602.95" y="493.90" width="1.50" height="12.10" fill="#d83838"/>
<rect x="608.35" y="468.80" width="1.50" height="37.20" fill="#d83838"/>
<rect x="613.95" y="463.10" width="1.50" height="42.90" fill="#d83838"/>
<text x="575.5" y="489.0" font-size="8.5" fill="#2a2a2a" textLength="12.5" lengthAdjust="spacingAndGlyphs">B<tspan font-size="6.6" dy="2">3g</tspan></text>
<text x="595.8" y="490.5" font-size="8.5" fill="#2a2a2a" textLength="11.9" lengthAdjust="spacingAndGlyphs">B<tspan font-size="6.6" dy="2">2g</tspan></text>
<text x="601.5" y="465.0" font-size="8.5" fill="#2a2a2a" textLength="11.3" lengthAdjust="spacingAndGlyphs">B<tspan font-size="6.6" dy="2">1g</tspan></text>
<text x="611.4" y="460.8" font-size="8.5" fill="#2a2a2a" textLength="10.4" lengthAdjust="spacingAndGlyphs">A<tspan font-size="6.6" dy="2">g</tspan></text>
<line x1="580.30" y1="513.10" x2="614.20" y2="513.10" stroke="#222" stroke-width="1.5"/>
<line x1="580.30" y1="510.10" x2="580.30" y2="516.10" stroke="#222" stroke-width="1.2"/>
<line x1="614.20" y1="510.10" x2="614.20" y2="516.10" stroke="#222" stroke-width="1.2"/>
<text x="579.4" y="526.4" font-size="9.5" fill="#2a2a2a" textLength="33.4" lengthAdjust="spacingAndGlyphs">0.5 cm<tspan dy="-4" font-size="5.7">-1</tspan></text>
</svg></body></html>
